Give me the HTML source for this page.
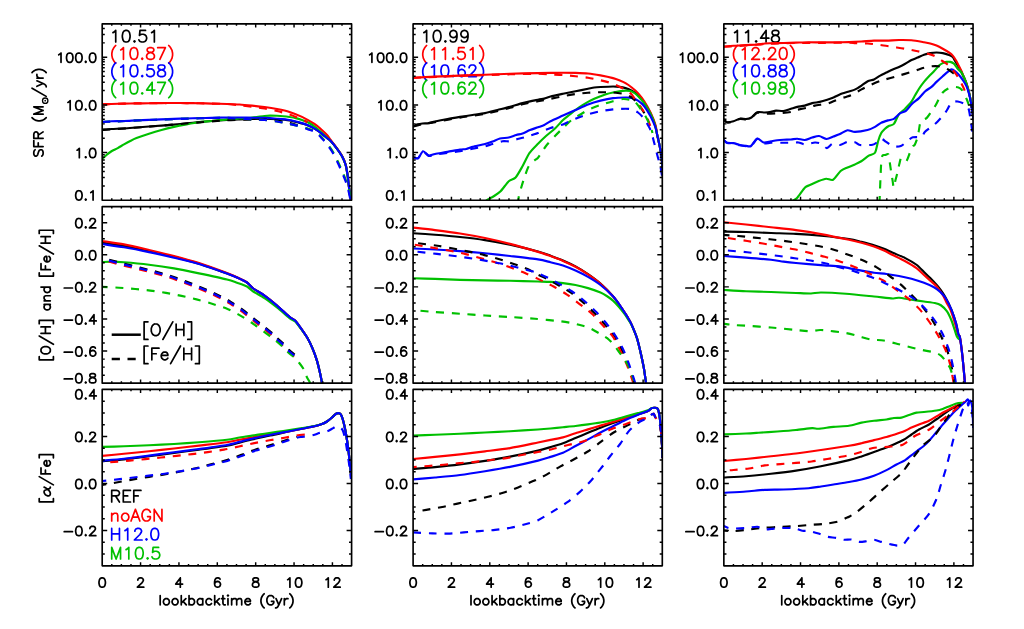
<!DOCTYPE html>
<html lang="en"><head><meta charset="utf-8"><title>SFR, metallicity and alpha/Fe histories</title>
<style>html,body{margin:0;padding:0;background:#fff;font-family:"Liberation Sans",sans-serif}svg{display:block}.t path{fill:none;stroke-linecap:round;stroke-linejoin:round}.c path{fill:none;stroke-linejoin:round;stroke-linecap:butt}.s text{font-family:"Liberation Sans",sans-serif;fill:#000;fill-opacity:0}</style></head><body>
<svg width="1024" height="629" viewBox="0 0 1024 629" role="img" aria-label="3x3 grid of line charts: SFR, [O/H] and [Fe/H], and [alpha/Fe] versus lookbacktime (Gyr)">
<rect width="1024" height="629" fill="#fff"/>
<g class="t">
<path d="M112.96 32.62 L114.07 32.06 L115.72 30.41 L115.72 42M125.66 30.41 L124 30.96 L122.9 32.62 L122.35 35.38 L122.35 37.03 L122.9 39.79 L124 41.45 L125.66 42 L126.76 42 L128.42 41.45 L129.52 39.79 L130.07 37.03 L130.07 35.38 L129.52 32.62 L128.42 30.96 L126.76 30.41 L125.66 30.41M134.49 40.9 L133.94 41.45 L134.49 42 L135.04 41.45 L134.49 40.9M145.53 30.41 L140.01 30.41 L139.46 35.38 L140.01 34.82 L141.67 34.27 L143.32 34.27 L144.98 34.82 L146.08 35.93 L146.63 37.58 L146.63 38.69 L146.08 40.34 L144.98 41.45 L143.32 42 L141.67 42 L140.01 41.45 L139.46 40.9 L138.91 39.79M151.6 32.62 L152.71 32.06 L154.36 30.41 L154.36 42" stroke="#000000" stroke-width="1.7"/>
<path d="M115.72 45.5 L114.62 46.6 L113.51 48.26 L112.41 50.47 L111.86 53.23 L111.86 55.44 L112.41 58.2 L113.51 60.4 L114.62 62.06 L115.72 63.16M120.69 49.92 L121.79 49.36 L123.45 47.71 L123.45 59.3M133.39 47.71 L131.73 48.26 L130.63 49.92 L130.07 52.68 L130.07 54.33 L130.63 57.09 L131.73 58.75 L133.39 59.3 L134.49 59.3 L136.15 58.75 L137.25 57.09 L137.8 54.33 L137.8 52.68 L137.25 49.92 L136.15 48.26 L134.49 47.71 L133.39 47.71M142.22 58.2 L141.67 58.75 L142.22 59.3 L142.77 58.75 L142.22 58.2M149.39 47.71 L147.74 48.26 L147.19 49.36 L147.19 50.47 L147.74 51.57 L148.84 52.12 L151.05 52.68 L152.71 53.23 L153.81 54.33 L154.36 55.44 L154.36 57.09 L153.81 58.2 L153.26 58.75 L151.6 59.3 L149.39 59.3 L147.74 58.75 L147.19 58.2 L146.63 57.09 L146.63 55.44 L147.19 54.33 L148.29 53.23 L149.95 52.68 L152.15 52.12 L153.26 51.57 L153.81 50.47 L153.81 49.36 L153.26 48.26 L151.6 47.71 L149.39 47.71M165.4 47.71 L159.88 59.3M157.67 47.71 L165.4 47.71M168.71 45.5 L169.82 46.6 L170.92 48.26 L172.03 50.47 L172.58 53.23 L172.58 55.44 L172.03 58.2 L170.92 60.4 L169.82 62.06 L168.71 63.16" stroke="#ff0000" stroke-width="1.7"/>
<path d="M115.72 62.8 L114.62 63.9 L113.51 65.56 L112.41 67.77 L111.86 70.53 L111.86 72.74 L112.41 75.5 L113.51 77.7 L114.62 79.36 L115.72 80.46M120.69 67.22 L121.79 66.66 L123.45 65.01 L123.45 76.6M133.39 65.01 L131.73 65.56 L130.63 67.22 L130.07 69.98 L130.07 71.63 L130.63 74.39 L131.73 76.05 L133.39 76.6 L134.49 76.6 L136.15 76.05 L137.25 74.39 L137.8 71.63 L137.8 69.98 L137.25 67.22 L136.15 65.56 L134.49 65.01 L133.39 65.01M142.22 75.5 L141.67 76.05 L142.22 76.6 L142.77 76.05 L142.22 75.5M153.26 65.01 L147.74 65.01 L147.19 69.98 L147.74 69.42 L149.39 68.87 L151.05 68.87 L152.71 69.42 L153.81 70.53 L154.36 72.18 L154.36 73.29 L153.81 74.94 L152.71 76.05 L151.05 76.6 L149.39 76.6 L147.74 76.05 L147.19 75.5 L146.63 74.39M160.43 65.01 L158.78 65.56 L158.23 66.66 L158.23 67.77 L158.78 68.87 L159.88 69.42 L162.09 69.98 L163.75 70.53 L164.85 71.63 L165.4 72.74 L165.4 74.39 L164.85 75.5 L164.3 76.05 L162.64 76.6 L160.43 76.6 L158.78 76.05 L158.23 75.5 L157.67 74.39 L157.67 72.74 L158.23 71.63 L159.33 70.53 L160.99 69.98 L163.19 69.42 L164.3 68.87 L164.85 67.77 L164.85 66.66 L164.3 65.56 L162.64 65.01 L160.43 65.01M168.71 62.8 L169.82 63.9 L170.92 65.56 L172.03 67.77 L172.58 70.53 L172.58 72.74 L172.03 75.5 L170.92 77.7 L169.82 79.36 L168.71 80.46" stroke="#0000ff" stroke-width="1.7"/>
<path d="M115.72 80.1 L114.62 81.2 L113.51 82.86 L112.41 85.07 L111.86 87.83 L111.86 90.04 L112.41 92.8 L113.51 95 L114.62 96.66 L115.72 97.76M120.69 84.52 L121.79 83.96 L123.45 82.31 L123.45 93.9M133.39 82.31 L131.73 82.86 L130.63 84.52 L130.07 87.28 L130.07 88.93 L130.63 91.69 L131.73 93.35 L133.39 93.9 L134.49 93.9 L136.15 93.35 L137.25 91.69 L137.8 88.93 L137.8 87.28 L137.25 84.52 L136.15 82.86 L134.49 82.31 L133.39 82.31M142.22 92.8 L141.67 93.35 L142.22 93.9 L142.77 93.35 L142.22 92.8M152.15 82.31 L146.63 90.04 L154.91 90.04M152.15 82.31 L152.15 93.9M165.4 82.31 L159.88 93.9M157.67 82.31 L165.4 82.31M168.71 80.1 L169.82 81.2 L170.92 82.86 L172.03 85.07 L172.58 87.83 L172.58 90.04 L172.03 92.8 L170.92 95 L169.82 96.66 L168.71 97.76" stroke="#00c000" stroke-width="1.7"/>
<path d="M423.86 32.62 L424.97 32.06 L426.62 30.41 L426.62 42M436.56 30.41 L434.9 30.96 L433.8 32.62 L433.25 35.38 L433.25 37.03 L433.8 39.79 L434.9 41.45 L436.56 42 L437.66 42 L439.32 41.45 L440.42 39.79 L440.97 37.03 L440.97 35.38 L440.42 32.62 L439.32 30.96 L437.66 30.41 L436.56 30.41M445.39 40.9 L444.84 41.45 L445.39 42 L445.94 41.45 L445.39 40.9M456.98 34.27 L456.43 35.93 L455.33 37.03 L453.67 37.58 L453.12 37.58 L451.46 37.03 L450.36 35.93 L449.81 34.27 L449.81 33.72 L450.36 32.06 L451.46 30.96 L453.12 30.41 L453.67 30.41 L455.33 30.96 L456.43 32.06 L456.98 34.27 L456.98 37.03 L456.43 39.79 L455.33 41.45 L453.67 42 L452.57 42 L450.91 41.45 L450.36 40.34M468.02 34.27 L467.47 35.93 L466.37 37.03 L464.71 37.58 L464.16 37.58 L462.5 37.03 L461.4 35.93 L460.85 34.27 L460.85 33.72 L461.4 32.06 L462.5 30.96 L464.16 30.41 L464.71 30.41 L466.37 30.96 L467.47 32.06 L468.02 34.27 L468.02 37.03 L467.47 39.79 L466.37 41.45 L464.71 42 L463.61 42 L461.95 41.45 L461.4 40.34" stroke="#000000" stroke-width="1.7"/>
<path d="M426.62 45.5 L425.52 46.6 L424.41 48.26 L423.31 50.47 L422.76 53.23 L422.76 55.44 L423.31 58.2 L424.41 60.4 L425.52 62.06 L426.62 63.16M431.59 49.92 L432.69 49.36 L434.35 47.71 L434.35 59.3M442.63 49.92 L443.73 49.36 L445.39 47.71 L445.39 59.3M453.12 58.2 L452.57 58.75 L453.12 59.3 L453.67 58.75 L453.12 58.2M464.16 47.71 L458.64 47.71 L458.09 52.68 L458.64 52.12 L460.29 51.57 L461.95 51.57 L463.61 52.12 L464.71 53.23 L465.26 54.88 L465.26 55.99 L464.71 57.64 L463.61 58.75 L461.95 59.3 L460.29 59.3 L458.64 58.75 L458.09 58.2 L457.53 57.09M470.23 49.92 L471.33 49.36 L472.99 47.71 L472.99 59.3M479.61 45.5 L480.72 46.6 L481.82 48.26 L482.93 50.47 L483.48 53.23 L483.48 55.44 L482.93 58.2 L481.82 60.4 L480.72 62.06 L479.61 63.16" stroke="#ff0000" stroke-width="1.7"/>
<path d="M426.62 62.8 L425.52 63.9 L424.41 65.56 L423.31 67.77 L422.76 70.53 L422.76 72.74 L423.31 75.5 L424.41 77.7 L425.52 79.36 L426.62 80.46M431.59 67.22 L432.69 66.66 L434.35 65.01 L434.35 76.6M444.29 65.01 L442.63 65.56 L441.53 67.22 L440.97 69.98 L440.97 71.63 L441.53 74.39 L442.63 76.05 L444.29 76.6 L445.39 76.6 L447.05 76.05 L448.15 74.39 L448.7 71.63 L448.7 69.98 L448.15 67.22 L447.05 65.56 L445.39 65.01 L444.29 65.01M453.12 75.5 L452.57 76.05 L453.12 76.6 L453.67 76.05 L453.12 75.5M464.71 66.66 L464.16 65.56 L462.5 65.01 L461.4 65.01 L459.74 65.56 L458.64 67.22 L458.09 69.98 L458.09 72.74 L458.64 74.94 L459.74 76.05 L461.4 76.6 L461.95 76.6 L463.61 76.05 L464.71 74.94 L465.26 73.29 L465.26 72.74 L464.71 71.08 L463.61 69.98 L461.95 69.42 L461.4 69.42 L459.74 69.98 L458.64 71.08 L458.09 72.74M469.13 67.77 L469.13 67.22 L469.68 66.11 L470.23 65.56 L471.33 65.01 L473.54 65.01 L474.65 65.56 L475.2 66.11 L475.75 67.22 L475.75 68.32 L475.2 69.42 L474.09 71.08 L468.57 76.6 L476.3 76.6M479.61 62.8 L480.72 63.9 L481.82 65.56 L482.93 67.77 L483.48 70.53 L483.48 72.74 L482.93 75.5 L481.82 77.7 L480.72 79.36 L479.61 80.46" stroke="#0000ff" stroke-width="1.7"/>
<path d="M426.62 80.1 L425.52 81.2 L424.41 82.86 L423.31 85.07 L422.76 87.83 L422.76 90.04 L423.31 92.8 L424.41 95 L425.52 96.66 L426.62 97.76M431.59 84.52 L432.69 83.96 L434.35 82.31 L434.35 93.9M444.29 82.31 L442.63 82.86 L441.53 84.52 L440.97 87.28 L440.97 88.93 L441.53 91.69 L442.63 93.35 L444.29 93.9 L445.39 93.9 L447.05 93.35 L448.15 91.69 L448.7 88.93 L448.7 87.28 L448.15 84.52 L447.05 82.86 L445.39 82.31 L444.29 82.31M453.12 92.8 L452.57 93.35 L453.12 93.9 L453.67 93.35 L453.12 92.8M464.71 83.96 L464.16 82.86 L462.5 82.31 L461.4 82.31 L459.74 82.86 L458.64 84.52 L458.09 87.28 L458.09 90.04 L458.64 92.24 L459.74 93.35 L461.4 93.9 L461.95 93.9 L463.61 93.35 L464.71 92.24 L465.26 90.59 L465.26 90.04 L464.71 88.38 L463.61 87.28 L461.95 86.72 L461.4 86.72 L459.74 87.28 L458.64 88.38 L458.09 90.04M469.13 85.07 L469.13 84.52 L469.68 83.41 L470.23 82.86 L471.33 82.31 L473.54 82.31 L474.65 82.86 L475.2 83.41 L475.75 84.52 L475.75 85.62 L475.2 86.72 L474.09 88.38 L468.57 93.9 L476.3 93.9M479.61 80.1 L480.72 81.2 L481.82 82.86 L482.93 85.07 L483.48 87.83 L483.48 90.04 L482.93 92.8 L481.82 95 L480.72 96.66 L479.61 97.76" stroke="#00c000" stroke-width="1.7"/>
<path d="M734.61 32.62 L735.72 32.06 L737.37 30.41 L737.37 42M745.65 32.62 L746.76 32.06 L748.41 30.41 L748.41 42M756.14 40.9 L755.59 41.45 L756.14 42 L756.69 41.45 L756.14 40.9M766.08 30.41 L760.56 38.14 L768.84 38.14M766.08 30.41 L766.08 42M774.36 30.41 L772.7 30.96 L772.15 32.06 L772.15 33.17 L772.7 34.27 L773.8 34.82 L776.01 35.38 L777.67 35.93 L778.77 37.03 L779.32 38.14 L779.32 39.79 L778.77 40.9 L778.22 41.45 L776.56 42 L774.36 42 L772.7 41.45 L772.15 40.9 L771.6 39.79 L771.6 38.14 L772.15 37.03 L773.25 35.93 L774.91 35.38 L777.12 34.82 L778.22 34.27 L778.77 33.17 L778.77 32.06 L778.22 30.96 L776.56 30.41 L774.36 30.41" stroke="#000000" stroke-width="1.7"/>
<path d="M737.37 45.5 L736.27 46.6 L735.16 48.26 L734.06 50.47 L733.51 53.23 L733.51 55.44 L734.06 58.2 L735.16 60.4 L736.27 62.06 L737.37 63.16M742.34 49.92 L743.44 49.36 L745.1 47.71 L745.1 59.3M752.28 50.47 L752.28 49.92 L752.83 48.81 L753.38 48.26 L754.48 47.71 L756.69 47.71 L757.8 48.26 L758.35 48.81 L758.9 49.92 L758.9 51.02 L758.35 52.12 L757.24 53.78 L751.72 59.3 L759.45 59.3M763.87 58.2 L763.32 58.75 L763.87 59.3 L764.42 58.75 L763.87 58.2M768.84 50.47 L768.84 49.92 L769.39 48.81 L769.94 48.26 L771.04 47.71 L773.25 47.71 L774.36 48.26 L774.91 48.81 L775.46 49.92 L775.46 51.02 L774.91 52.12 L773.8 53.78 L768.28 59.3 L776.01 59.3M782.64 47.71 L780.98 48.26 L779.88 49.92 L779.32 52.68 L779.32 54.33 L779.88 57.09 L780.98 58.75 L782.64 59.3 L783.74 59.3 L785.4 58.75 L786.5 57.09 L787.05 54.33 L787.05 52.68 L786.5 49.92 L785.4 48.26 L783.74 47.71 L782.64 47.71M790.36 45.5 L791.47 46.6 L792.57 48.26 L793.68 50.47 L794.23 53.23 L794.23 55.44 L793.68 58.2 L792.57 60.4 L791.47 62.06 L790.36 63.16" stroke="#ff0000" stroke-width="1.7"/>
<path d="M737.37 62.8 L736.27 63.9 L735.16 65.56 L734.06 67.77 L733.51 70.53 L733.51 72.74 L734.06 75.5 L735.16 77.7 L736.27 79.36 L737.37 80.46M742.34 67.22 L743.44 66.66 L745.1 65.01 L745.1 76.6M755.04 65.01 L753.38 65.56 L752.28 67.22 L751.72 69.98 L751.72 71.63 L752.28 74.39 L753.38 76.05 L755.04 76.6 L756.14 76.6 L757.8 76.05 L758.9 74.39 L759.45 71.63 L759.45 69.98 L758.9 67.22 L757.8 65.56 L756.14 65.01 L755.04 65.01M763.87 75.5 L763.32 76.05 L763.87 76.6 L764.42 76.05 L763.87 75.5M771.04 65.01 L769.39 65.56 L768.84 66.66 L768.84 67.77 L769.39 68.87 L770.49 69.42 L772.7 69.98 L774.36 70.53 L775.46 71.63 L776.01 72.74 L776.01 74.39 L775.46 75.5 L774.91 76.05 L773.25 76.6 L771.04 76.6 L769.39 76.05 L768.84 75.5 L768.28 74.39 L768.28 72.74 L768.84 71.63 L769.94 70.53 L771.6 69.98 L773.8 69.42 L774.91 68.87 L775.46 67.77 L775.46 66.66 L774.91 65.56 L773.25 65.01 L771.04 65.01M782.08 65.01 L780.43 65.56 L779.88 66.66 L779.88 67.77 L780.43 68.87 L781.53 69.42 L783.74 69.98 L785.4 70.53 L786.5 71.63 L787.05 72.74 L787.05 74.39 L786.5 75.5 L785.95 76.05 L784.29 76.6 L782.08 76.6 L780.43 76.05 L779.88 75.5 L779.32 74.39 L779.32 72.74 L779.88 71.63 L780.98 70.53 L782.64 69.98 L784.84 69.42 L785.95 68.87 L786.5 67.77 L786.5 66.66 L785.95 65.56 L784.29 65.01 L782.08 65.01M790.36 62.8 L791.47 63.9 L792.57 65.56 L793.68 67.77 L794.23 70.53 L794.23 72.74 L793.68 75.5 L792.57 77.7 L791.47 79.36 L790.36 80.46" stroke="#0000ff" stroke-width="1.7"/>
<path d="M737.37 80.1 L736.27 81.2 L735.16 82.86 L734.06 85.07 L733.51 87.83 L733.51 90.04 L734.06 92.8 L735.16 95 L736.27 96.66 L737.37 97.76M742.34 84.52 L743.44 83.96 L745.1 82.31 L745.1 93.9M755.04 82.31 L753.38 82.86 L752.28 84.52 L751.72 87.28 L751.72 88.93 L752.28 91.69 L753.38 93.35 L755.04 93.9 L756.14 93.9 L757.8 93.35 L758.9 91.69 L759.45 88.93 L759.45 87.28 L758.9 84.52 L757.8 82.86 L756.14 82.31 L755.04 82.31M763.87 92.8 L763.32 93.35 L763.87 93.9 L764.42 93.35 L763.87 92.8M775.46 86.17 L774.91 87.83 L773.8 88.93 L772.15 89.48 L771.6 89.48 L769.94 88.93 L768.84 87.83 L768.28 86.17 L768.28 85.62 L768.84 83.96 L769.94 82.86 L771.6 82.31 L772.15 82.31 L773.8 82.86 L774.91 83.96 L775.46 86.17 L775.46 88.93 L774.91 91.69 L773.8 93.35 L772.15 93.9 L771.04 93.9 L769.39 93.35 L768.84 92.24M782.08 82.31 L780.43 82.86 L779.88 83.96 L779.88 85.07 L780.43 86.17 L781.53 86.72 L783.74 87.28 L785.4 87.83 L786.5 88.93 L787.05 90.04 L787.05 91.69 L786.5 92.8 L785.95 93.35 L784.29 93.9 L782.08 93.9 L780.43 93.35 L779.88 92.8 L779.32 91.69 L779.32 90.04 L779.88 88.93 L780.98 87.83 L782.64 87.28 L784.84 86.72 L785.95 86.17 L786.5 85.07 L786.5 83.96 L785.95 82.86 L784.29 82.31 L782.08 82.31M790.36 80.1 L791.47 81.2 L792.57 82.86 L793.68 85.07 L794.23 87.83 L794.23 90.04 L793.68 92.8 L792.57 95 L791.47 96.66 L790.36 97.76" stroke="#00c000" stroke-width="1.7"/>
<path d="M147.97 321.8 L144.11 321.8 L144.11 339.46 L147.97 339.46M154.6 324.01 L153.49 324.56 L152.39 325.66 L151.84 326.77 L151.28 328.42 L151.28 331.18 L151.84 332.84 L152.39 333.94 L153.49 335.05 L154.6 335.6 L156.8 335.6 L157.91 335.05 L159.01 333.94 L159.56 332.84 L160.12 331.18 L160.12 328.42 L159.56 326.77 L159.01 325.66 L157.91 324.56 L156.8 324.01 L154.6 324.01M172.81 321.8 L162.88 339.46M176.12 324.01 L176.12 335.6M183.85 324.01 L183.85 335.6M176.12 329.53 L183.85 329.53M187.72 321.8 L191.58 321.8 L191.58 339.46 L187.72 339.46" stroke="#000" stroke-width="1.7"/>
<path d="M147.97 346 L144.11 346 L144.11 363.66 L147.97 363.66M151.84 348.21 L151.84 359.8M151.84 348.21 L159.01 348.21M151.84 353.73 L156.25 353.73M161.22 355.38 L167.84 355.38 L167.84 354.28 L167.29 353.18 L166.74 352.62 L165.64 352.07 L163.98 352.07 L162.88 352.62 L161.77 353.73 L161.22 355.38 L161.22 356.49 L161.77 358.14 L162.88 359.25 L163.98 359.8 L165.64 359.8 L166.74 359.25 L167.84 358.14M180.54 346 L170.6 363.66M183.85 348.21 L183.85 359.8M191.58 348.21 L191.58 359.8M183.85 353.73 L191.58 353.73M195.44 346 L199.31 346 L199.31 363.66 L195.44 363.66" stroke="#000" stroke-width="1.7"/>
<path d="M111.71 490.41 L111.71 502M111.71 490.41 L116.68 490.41 L118.33 490.96 L118.88 491.51 L119.44 492.62 L119.44 493.72 L118.88 494.82 L118.33 495.38 L116.68 495.93 L111.71 495.93M115.57 495.93 L119.44 502M123.3 490.41 L123.3 502M123.3 490.41 L130.48 490.41M123.3 495.93 L127.72 495.93M123.3 502 L130.48 502M133.79 490.41 L133.79 502M133.79 490.41 L140.96 490.41M133.79 495.93 L138.2 495.93" stroke="#000000" stroke-width="1.7"/>
<path d="M111.71 513.27 L111.71 521M111.71 515.48 L113.36 513.82 L114.47 513.27 L116.12 513.27 L117.23 513.82 L117.78 515.48 L117.78 521M124.4 513.27 L123.3 513.82 L122.2 514.93 L121.64 516.58 L121.64 517.69 L122.2 519.34 L123.3 520.45 L124.4 521 L126.06 521 L127.16 520.45 L128.27 519.34 L128.82 517.69 L128.82 516.58 L128.27 514.93 L127.16 513.82 L126.06 513.27 L124.4 513.27M135.44 509.41 L131.03 521M135.44 509.41 L139.86 521M132.68 517.14 L138.2 517.14M150.35 512.17 L149.8 511.06 L148.69 509.96 L147.59 509.41 L145.38 509.41 L144.28 509.96 L143.17 511.06 L142.62 512.17 L142.07 513.82 L142.07 516.58 L142.62 518.24 L143.17 519.34 L144.28 520.45 L145.38 521 L147.59 521 L148.69 520.45 L149.8 519.34 L150.35 518.24 L150.35 516.58M147.59 516.58 L150.35 516.58M154.21 509.41 L154.21 521M154.21 509.41 L161.94 521M161.94 509.41 L161.94 521" stroke="#ff0000" stroke-width="1.7"/>
<path d="M111.71 528.41 L111.71 540M119.44 528.41 L119.44 540M111.71 533.93 L119.44 533.93M124.96 530.62 L126.06 530.06 L127.72 528.41 L127.72 540M134.89 531.17 L134.89 530.62 L135.44 529.51 L136 528.96 L137.1 528.41 L139.31 528.41 L140.41 528.96 L140.96 529.51 L141.52 530.62 L141.52 531.72 L140.96 532.82 L139.86 534.48 L134.34 540 L142.07 540M146.48 538.9 L145.93 539.45 L146.48 540 L147.04 539.45 L146.48 538.9M154.21 528.41 L152.56 528.96 L151.45 530.62 L150.9 533.38 L150.9 535.03 L151.45 537.79 L152.56 539.45 L154.21 540 L155.32 540 L156.97 539.45 L158.08 537.79 L158.63 535.03 L158.63 533.38 L158.08 530.62 L156.97 528.96 L155.32 528.41 L154.21 528.41" stroke="#0000ff" stroke-width="1.7"/>
<path d="M111.71 547.41 L111.71 559M111.71 547.41 L116.12 559M120.54 547.41 L116.12 559M120.54 547.41 L120.54 559M126.06 549.62 L127.16 549.06 L128.82 547.41 L128.82 559M138.76 547.41 L137.1 547.96 L136 549.62 L135.44 552.38 L135.44 554.03 L136 556.79 L137.1 558.45 L138.76 559 L139.86 559 L141.52 558.45 L142.62 556.79 L143.17 554.03 L143.17 552.38 L142.62 549.62 L141.52 547.96 L139.86 547.41 L138.76 547.41M147.59 557.9 L147.04 558.45 L147.59 559 L148.14 558.45 L147.59 557.9M158.63 547.41 L153.11 547.41 L152.56 552.38 L153.11 551.82 L154.76 551.27 L156.42 551.27 L158.08 551.82 L159.18 552.93 L159.73 554.58 L159.73 555.69 L159.18 557.34 L158.08 558.45 L156.42 559 L154.76 559 L153.11 558.45 L152.56 557.9 L152 556.79" stroke="#00c000" stroke-width="1.7"/>
</g>
<clipPath id="cp00"><rect x="102.2" y="23.9" width="249.4" height="176.35"/></clipPath>
<g class="c" clip-path="url(#cp00)">
<path d="M102.2 129.75C103.36 129.66 108.78 129.16 111.5 129C114.22 128.84 120.88 128.69 124 128.5C127.12 128.31 133.38 127.75 136.5 127.5C139.62 127.25 145.88 126.74 149 126.5C152.12 126.26 158.38 125.84 161.5 125.6C164.62 125.36 170.88 124.88 174 124.6C177.12 124.32 183.38 123.71 186.5 123.4C189.62 123.09 195.88 122.4 199 122.1C202.12 121.8 208 121.28 211.5 121C215 120.72 223.5 120.1 227 119.9C230.5 119.7 236.38 119.51 239.5 119.4C242.62 119.29 248.88 119.08 252 119C255.12 118.92 261.38 118.76 264.5 118.8C267.62 118.84 273.88 119.09 277 119.3C280.12 119.51 286.38 119.97 289.5 120.5C292.62 121.03 299.66 122.89 302 123.5C304.34 124.11 306.69 124.76 308.25 125.4C309.81 126.04 312.94 127.67 314.5 128.6C316.06 129.53 319.19 131.62 320.75 132.8C322.31 133.98 325.76 136.96 327 138C328.24 139.04 329.46 139.78 330.7 141.1C331.94 142.42 335.5 146.74 336.9 148.6C338.3 150.46 340.81 153.99 341.9 156C342.99 158.01 344.9 162.38 345.6 164.7C346.3 167.02 347.11 172.11 347.5 174.6C347.89 177.09 348.4 182.11 348.7 184.6C349 187.09 349.66 192.65 349.9 194.5C350.14 196.35 350.46 198.21 350.6 199.4C350.74 200.59 350.95 203.43 351 204" stroke="#000000" stroke-width="2.15"/>
<path d="M102.25 104.4C103.41 104.35 108.78 104.1 111.5 104C114.22 103.9 120.88 103.67 124 103.6C127.12 103.52 133.38 103.44 136.5 103.4C139.62 103.36 145.88 103.29 149 103.25C152.12 103.21 158.38 103.13 161.5 103.1C164.62 103.07 170.88 103 174 103C177.12 103 183.38 103.07 186.5 103.1C189.62 103.13 195.88 103.19 199 103.25C202.12 103.31 208 103.51 211.5 103.6C215 103.69 223.5 103.89 227 104C230.5 104.11 236.38 104.3 239.5 104.5C242.62 104.7 248.88 105.29 252 105.6C255.12 105.91 261.38 106.58 264.5 107C267.62 107.42 273.88 108.39 277 109C280.12 109.61 286.38 110.91 289.5 111.9C292.62 112.89 298.88 115.39 302 116.9C305.12 118.41 312.16 122.49 314.5 124C316.84 125.51 319.19 127.62 320.75 129C322.31 130.38 325.75 133.62 327 135C328.25 136.38 329.51 138.35 330.75 140C331.99 141.65 335.51 146.25 336.9 148.2C338.29 150.15 340.81 153.57 341.9 155.6C342.99 157.62 344.9 162.05 345.6 164.4C346.3 166.75 347.11 171.88 347.5 174.4C347.89 176.93 348.4 182.09 348.7 184.6C349 187.11 349.61 192.07 349.9 194.5C350.19 196.93 350.86 202.81 351 204" stroke="#ff0000" stroke-width="2.15"/>
<path d="M102.2 159C102.74 158.5 105.34 155.97 106.5 155C107.66 154.03 110.09 152.11 111.5 151.25C112.91 150.39 116.19 148.96 117.75 148.1C119.31 147.24 122.44 145.29 124 144.4C125.56 143.51 128.69 141.79 130.25 141C131.81 140.21 134.16 139.01 136.5 138.1C138.84 137.19 145.88 134.76 149 133.75C152.12 132.74 158.38 130.86 161.5 130C164.62 129.14 170.88 127.6 174 126.9C177.12 126.2 183.38 124.98 186.5 124.4C189.62 123.82 195.88 122.67 199 122.25C202.12 121.83 208 121.36 211.5 121C215 120.64 223.5 119.71 227 119.4C230.5 119.09 236.38 118.74 239.5 118.5C242.62 118.26 248.88 117.81 252 117.5C255.12 117.19 262.25 116.24 264.5 116C266.75 115.76 268.44 115.62 270 115.6C271.56 115.57 275.38 115.72 277 115.8C278.62 115.88 281.44 116.05 283 116.2C284.56 116.35 287.91 116.76 289.5 117C291.09 117.24 294.19 117.72 295.75 118.1C297.31 118.47 300.44 119.45 302 120C303.56 120.55 306.69 121.69 308.25 122.5C309.81 123.31 312.94 125.35 314.5 126.5C316.06 127.65 319.19 130.31 320.75 131.7C322.31 133.09 325.76 136.42 327 137.6C328.24 138.78 329.46 139.72 330.7 141.1C331.94 142.47 335.5 146.74 336.9 148.6C338.3 150.46 340.81 153.99 341.9 156C342.99 158.01 344.9 162.38 345.6 164.7C346.3 167.02 347.11 172.11 347.5 174.6C347.89 177.09 348.4 182.11 348.7 184.6C349 187.09 349.66 192.65 349.9 194.5C350.14 196.35 350.46 198.21 350.6 199.4C350.74 200.59 350.95 203.43 351 204" stroke="#00c000" stroke-width="2.15"/>
<path d="M102.2 121.9C103.36 121.82 108.78 121.36 111.5 121.25C114.22 121.14 120.88 121.11 124 121C127.12 120.89 133.38 120.54 136.5 120.4C139.62 120.26 145.88 120.03 149 119.9C152.12 119.78 158.38 119.53 161.5 119.4C164.62 119.28 170.88 119.01 174 118.9C177.12 118.79 183.38 118.6 186.5 118.5C189.62 118.4 195.88 118.17 199 118.1C202.12 118.02 208 117.98 211.5 117.9C215 117.83 223.5 117.55 227 117.5C230.5 117.45 236.38 117.47 239.5 117.5C242.62 117.53 248.88 117.7 252 117.75C255.12 117.8 261.38 117.78 264.5 117.9C267.62 118.03 273.88 118.49 277 118.75C280.12 119.01 286.38 119.46 289.5 120C292.62 120.54 299.66 122.42 302 123.1C304.34 123.77 306.69 124.71 308.25 125.4C309.81 126.09 312.94 127.67 314.5 128.6C316.06 129.53 319.19 131.62 320.75 132.8C322.31 133.98 325.76 136.96 327 138C328.24 139.04 329.46 139.78 330.7 141.1C331.94 142.42 335.5 146.74 336.9 148.6C338.3 150.46 340.81 153.99 341.9 156C342.99 158.01 344.9 162.38 345.6 164.7C346.3 167.02 347.11 172.11 347.5 174.6C347.89 177.09 348.4 182.11 348.7 184.6C349 187.09 349.66 192.65 349.9 194.5C350.14 196.35 350.46 198.21 350.6 199.4C350.74 200.59 350.95 203.43 351 204" stroke="#0000ff" stroke-width="2.15"/>
<path d="M102.2 129.9C108.05 129.5 136.9 127.64 149 126.7C161.1 125.76 189.25 123.2 199 122.4C208.75 121.6 220.38 120.65 227 120.3C233.62 119.95 247.31 119.69 252 119.6C256.69 119.51 261.38 119.49 264.5 119.6C267.62 119.71 273.88 120.08 277 120.5C280.12 120.92 286.38 122.25 289.5 123C292.62 123.75 300.44 126.06 302 126.5" stroke="#000000" stroke-width="2.15" stroke-dasharray="8 7.7"/>
<path d="M102.25 104.4C103.41 104.35 108.78 104.1 111.5 104C114.22 103.9 120.88 103.67 124 103.6C127.12 103.52 133.38 103.44 136.5 103.4C139.62 103.36 145.88 103.29 149 103.25C152.12 103.21 158.38 103.13 161.5 103.1C164.62 103.07 170.88 103 174 103C177.12 103 183.38 103.07 186.5 103.1C189.62 103.13 195.88 103.19 199 103.25C202.12 103.31 208 103.51 211.5 103.6C215 103.69 223.5 103.79 227 104C230.5 104.21 236.38 104.95 239.5 105.3C242.62 105.65 248.88 106.4 252 106.8C255.12 107.2 261.38 107.97 264.5 108.5C267.62 109.03 273.88 110.25 277 111C280.12 111.75 286.38 113.44 289.5 114.5C292.62 115.56 299.75 118.53 302 119.5C304.25 120.47 306.81 121.95 307.5 122.3" stroke="#ff0000" stroke-width="2.15" stroke-dasharray="8 7.7"/>
<path d="M102.2 122C108.05 121.75 136.9 120.46 149 120C161.1 119.54 189.25 118.58 199 118.3C208.75 118.02 221.16 117.71 227 117.8C232.84 117.89 241.06 118.72 245.75 119C250.44 119.28 260.59 119.69 264.5 120C268.41 120.31 273.88 121 277 121.5C280.12 122 287 123.49 289.5 124C292 124.51 294.59 124.99 297 125.6C299.41 126.21 306.34 128.11 308.75 128.9C311.16 129.69 314.58 130.75 316.3 131.9C318.02 133.05 320.95 136.39 322.5 138.1C324.05 139.81 327.3 143.74 328.7 145.6C330.1 147.46 332.46 150.82 333.7 153C334.94 155.18 337.51 160.68 338.6 163C339.69 165.32 341.54 169.59 342.4 171.6C343.26 173.61 344.8 177.24 345.5 179.1C346.2 180.96 347.46 184.64 348 186.5C348.54 188.36 349.45 192.45 349.8 194C350.15 195.55 350.61 197.71 350.8 198.9C350.99 200.09 351.24 202.93 351.3 203.5" stroke="#00c000" stroke-width="2.15" stroke-dasharray="8 7.7"/>
<path d="M102.2 122C108.05 121.75 136.9 120.46 149 120C161.1 119.54 189.25 118.58 199 118.3C208.75 118.02 221.16 117.71 227 117.8C232.84 117.89 241.06 118.72 245.75 119C250.44 119.28 260.59 119.69 264.5 120C268.41 120.31 273.88 121 277 121.5C280.12 122 287 123.49 289.5 124C292 124.51 294.66 124.92 297 125.6C299.34 126.27 305.9 128.55 308.25 129.4C310.6 130.25 314.08 131.25 315.8 132.4C317.52 133.55 320.45 136.89 322 138.6C323.55 140.31 326.8 144.24 328.2 146.1C329.6 147.96 331.96 151.32 333.2 153.5C334.44 155.68 337.01 161.18 338.1 163.5C339.19 165.82 341.04 170.09 341.9 172.1C342.76 174.11 344.3 177.74 345 179.6C345.7 181.46 346.96 185.14 347.5 187C348.04 188.86 348.95 192.95 349.3 194.5C349.65 196.05 350.11 198.21 350.3 199.4C350.49 200.59 350.74 203.43 350.8 204" stroke="#0000ff" stroke-width="2.15" stroke-dasharray="8 7.7"/>
</g>
<clipPath id="cp01"><rect x="413.1" y="23.9" width="249.2" height="176.35"/></clipPath>
<g class="c" clip-path="url(#cp01)">
<path d="M413.1 126.25C413.65 126.02 416.32 124.74 417.5 124.4C418.68 124.06 421.09 123.66 422.5 123.5C423.91 123.34 427.19 123.35 428.75 123.1C430.31 122.85 432.66 122.01 435 121.5C437.34 120.99 444.38 119.58 447.5 119C450.62 118.42 456.88 117.4 460 116.9C463.12 116.4 469.38 115.47 472.5 115C475.62 114.53 481.88 113.72 485 113.1C488.12 112.47 494.38 110.78 497.5 110C500.62 109.22 506.88 107.76 510 106.9C513.12 106.04 519 103.99 522.5 103.1C526 102.21 535.28 100.31 538 99.75C540.72 99.19 542.69 99.01 544.25 98.6C545.81 98.19 548.16 97.11 550.5 96.5C552.84 95.89 559.88 94.41 563 93.75C566.12 93.09 572.38 91.88 575.5 91.25C578.62 90.62 585.66 89.22 588 88.75C590.34 88.28 592.69 87.72 594.25 87.5C595.81 87.28 598.16 87.12 600.5 87C602.84 86.88 610.66 86.51 613 86.5C615.34 86.49 617.69 86.7 619.25 86.9C620.81 87.1 623.94 87.64 625.5 88.1C627.06 88.56 630.19 89.74 631.75 90.6C633.31 91.46 636.44 93.51 638 95C639.56 96.49 642.69 100.19 644.25 102.5C645.81 104.81 649.09 110.5 650.5 113.5C651.91 116.5 654.66 123.83 655.5 126.5C656.34 129.18 656.68 132.45 657.2 134.9C657.73 137.35 659.15 143.31 659.7 146.1C660.25 148.89 661.25 154.46 661.6 157.25C661.95 160.04 662.3 165.56 662.5 168.4C662.7 171.24 663.11 178.55 663.2 180" stroke="#000000" stroke-width="2.15"/>
<path d="M413.1 77.75C415.84 77.61 429.14 76.87 435 76.6C440.86 76.33 453.75 75.83 460 75.6C466.25 75.37 478.75 74.98 485 74.75C491.25 74.52 503.38 73.96 510 73.75C516.62 73.54 532.94 73.21 538 73.1C543.06 72.99 547.38 72.94 550.5 72.9C553.62 72.86 559.88 72.75 563 72.75C566.12 72.75 572.38 72.81 575.5 72.9C578.62 72.99 584.88 73.19 588 73.5C591.12 73.81 597.38 74.83 600.5 75.4C603.62 75.98 610.66 77.49 613 78.1C615.34 78.71 617.69 79.62 619.25 80.25C620.81 80.88 623.94 82.19 625.5 83.1C627.06 84.01 630.19 86.25 631.75 87.5C633.31 88.75 636.44 91.38 638 93.1C639.56 94.82 642.69 98.83 644.25 101.25C645.81 103.67 649.09 109.53 650.5 112.5C651.91 115.47 654.66 122.2 655.5 125C656.34 127.8 656.68 132.26 657.2 134.9C657.73 137.54 659.15 143.31 659.7 146.1C660.25 148.89 661.25 154.46 661.6 157.25C661.95 160.04 662.3 165.56 662.5 168.4C662.7 171.24 663.11 178.55 663.2 180" stroke="#ff0000" stroke-width="2.15"/>
<path d="M484.5 204C484.72 203.57 485.09 201.57 486.25 200.6C487.41 199.63 491.96 197.42 493.75 196.25C495.54 195.08 498.73 193.12 500.6 191.25C502.48 189.38 506.88 182.97 508.75 181.25C510.62 179.53 513.88 179.38 515.6 177.5C517.32 175.62 520.77 169.3 522.5 166.25C524.23 163.2 527.46 155.91 529.4 153.1C531.34 150.29 535.92 145.89 538 143.75C540.08 141.61 543.81 137.97 546 136C548.19 134.03 553.38 130 555.5 128C557.62 126 561.28 121.62 563 120C564.72 118.38 567.69 116.25 569.25 115C570.81 113.75 573.94 111.17 575.5 110C577.06 108.83 580.19 106.61 581.75 105.6C583.31 104.59 586.44 102.76 588 101.9C589.56 101.04 592.69 99.46 594.25 98.75C595.81 98.04 598.94 96.84 600.5 96.25C602.06 95.66 605.19 94.47 606.75 94C608.31 93.53 611.44 92.84 613 92.5C614.56 92.16 617.69 91.49 619.25 91.25C620.81 91.01 624.09 90.63 625.5 90.6C626.91 90.57 629.25 90.61 630.5 91C631.75 91.39 634.25 92.78 635.5 93.75C636.75 94.72 639.25 97.34 640.5 98.75C641.75 100.16 644.25 103.12 645.5 105C646.75 106.88 649.41 111.56 650.5 113.75C651.59 115.94 653.41 119.86 654.25 122.5C655.09 125.14 656.52 131.95 657.2 134.9C657.88 137.85 659.15 143.31 659.7 146.1C660.25 148.89 661.25 154.46 661.6 157.25C661.95 160.04 662.3 165.56 662.5 168.4C662.7 171.24 663.11 178.55 663.2 180" stroke="#00c000" stroke-width="2.15"/>
<path d="M413.1 157.25C413.73 157.36 416.85 158.85 418.1 158.1C419.35 157.35 421.77 151.56 423.1 151.25C424.43 150.94 427.26 155.26 428.75 155.6C430.24 155.94 432.66 154.46 435 154C437.34 153.54 444.38 152.45 447.5 151.9C450.62 151.35 457.66 149.96 460 149.6C462.34 149.24 464.69 149.34 466.25 149C467.81 148.66 470.16 147.53 472.5 146.9C474.84 146.28 482.5 144.68 485 144C487.5 143.32 490.62 142.19 492.5 141.5C494.38 140.81 497.97 139 500 138.5C502.03 138 506.72 137.94 508.75 137.5C510.78 137.06 514.53 135.5 516.25 135C517.97 134.5 520.78 134.12 522.5 133.5C524.22 132.88 528.06 130.78 530 130C531.94 129.22 536.22 127.88 538 127.25C539.78 126.62 542.69 125.75 544.25 125C545.81 124.25 548.16 122.42 550.5 121.25C552.84 120.08 559.88 117.01 563 115.6C566.12 114.19 572.38 111.4 575.5 110C578.62 108.6 584.88 105.58 588 104.4C591.12 103.23 597.38 101.39 600.5 100.6C603.62 99.81 609.88 98.49 613 98.1C616.12 97.71 623.16 97.53 625.5 97.5C627.84 97.47 630.19 97.51 631.75 97.9C633.31 98.29 636.44 99.56 638 100.6C639.56 101.64 642.69 104.29 644.25 106.25C645.81 108.21 649.09 113.59 650.5 116.25C651.91 118.91 654.66 125.17 655.5 127.5C656.34 129.83 656.68 132.58 657.2 134.9C657.73 137.22 659.15 143.31 659.7 146.1C660.25 148.89 661.25 154.46 661.6 157.25C661.95 160.04 662.3 165.56 662.5 168.4C662.7 171.24 663.11 178.55 663.2 180" stroke="#0000ff" stroke-width="2.15"/>
<path d="M413.1 126.6C414.28 126.27 419.76 124.56 422.5 124C425.24 123.44 430.31 122.9 435 122.1C439.69 121.3 453.75 118.62 460 117.6C466.25 116.57 478.75 115.12 485 113.9C491.25 112.68 505.31 109.01 510 107.8C514.69 106.59 519 105.02 522.5 104.2C526 103.38 534.5 101.93 538 101.25C541.5 100.57 547.38 99.38 550.5 98.75C553.62 98.12 559.88 96.84 563 96.25C566.12 95.66 572.38 94.44 575.5 94C578.62 93.56 584.88 92.97 588 92.75C591.12 92.53 597.38 92.28 600.5 92.25C603.62 92.22 610.03 92.28 613 92.5C615.97 92.72 621.91 93.38 624.25 94C626.59 94.62 630.03 96.28 631.75 97.5C633.47 98.72 636.44 101.81 638 103.75C639.56 105.69 643 110.91 644.25 113C645.5 115.09 647.53 119.56 648 120.5" stroke="#000000" stroke-width="2.15" stroke-dasharray="8 7.7"/>
<path d="M413.1 77.9C418.96 77.65 447.89 76.35 460 75.9C472.11 75.45 500.25 74.57 510 74.3C519.75 74.03 532.94 73.74 538 73.75C543.06 73.76 547.38 74.24 550.5 74.4C553.62 74.56 559.88 74.77 563 75C566.12 75.23 572.38 75.91 575.5 76.25C578.62 76.59 584.88 77.25 588 77.75C591.12 78.25 597.38 79.5 600.5 80.25C603.62 81 609.88 82.56 613 83.75C616.12 84.94 623.16 88.41 625.5 89.75C627.84 91.09 630.5 93.22 631.75 94.5C633 95.78 634.47 98.56 635.5 100C636.53 101.44 638.91 104.44 640 106C641.09 107.56 643.25 110.75 644.25 112.5C645.25 114.25 647.16 118.06 648 120C648.84 121.94 650.62 127 651 128" stroke="#ff0000" stroke-width="2.15" stroke-dasharray="8 7.7"/>
<path d="M517.5 204C517.66 203.11 518.28 198.96 518.75 196.9C519.22 194.84 520.54 189.93 521.25 187.5C521.96 185.07 523.46 180.16 524.4 177.5C525.34 174.84 527.42 168.44 528.75 166.25C530.08 164.06 533.84 161.06 535 160C536.16 158.94 536.62 159.5 538 157.75C539.38 156 543.88 148.72 546 146C548.12 143.28 552.88 138.25 555 136C557.12 133.75 561.22 129.76 563 128C564.78 126.24 567.69 123.21 569.25 121.9C570.81 120.59 573.16 118.99 575.5 117.5C577.84 116.01 584.88 111.56 588 110C591.12 108.44 597.38 106.09 600.5 105C603.62 103.91 610.19 102 613 101.25C615.81 100.5 620.81 99.16 623 99C625.19 98.84 628.94 99.56 630.5 100C632.06 100.44 634.25 101.41 635.5 102.5C636.75 103.59 639.25 107.03 640.5 108.75C641.75 110.47 644.25 114.06 645.5 116.25C646.75 118.44 649.62 124.16 650.5 126.25C651.38 128.34 652.25 132.16 652.5 133" stroke="#00c000" stroke-width="2.15" stroke-dasharray="8 7.7"/>
<path d="M413.1 157.4C413.73 157.51 416.85 159.03 418.1 158.3C419.35 157.58 421.77 151.9 423.1 151.6C424.43 151.3 427.26 155.53 428.75 155.9C430.24 156.28 432.66 154.96 435 154.6C437.34 154.24 444.38 153.42 447.5 153C450.62 152.58 456.88 151.78 460 151.25C463.12 150.72 469.38 149.38 472.5 148.75C475.62 148.12 482.5 146.84 485 146.25C487.5 145.66 490.31 144.62 492.5 144C494.69 143.38 500.31 141.59 502.5 141.25C504.69 140.91 508.12 141.53 510 141.25C511.88 140.97 515.62 139.5 517.5 139C519.38 138.5 522.81 137.88 525 137.25C527.19 136.62 533.38 134.52 535 134C536.62 133.48 536.06 133.85 538 133.1C539.94 132.35 547.38 129.09 550.5 128C553.62 126.91 559.88 125.56 563 124.4C566.12 123.24 572.38 120 575.5 118.75C578.62 117.5 584.88 115.34 588 114.4C591.12 113.46 597.38 111.88 600.5 111.25C603.62 110.62 609.88 109.71 613 109.4C616.12 109.09 623.16 108.75 625.5 108.75C627.84 108.75 630.19 108.93 631.75 109.4C633.31 109.87 636.44 111.33 638 112.5C639.56 113.67 643.01 117.19 644.25 118.75C645.49 120.31 647.06 123.44 647.9 125C648.74 126.56 650.23 129.02 651 131.2C651.77 133.38 653.33 139.45 654.1 142.4C654.88 145.35 656.43 151.86 657.2 154.8C657.98 157.74 659.67 163.11 660.3 165.9C660.92 168.69 661.96 175.7 662.2 177.1" stroke="#0000ff" stroke-width="2.15" stroke-dasharray="8 7.7"/>
</g>
<clipPath id="cp02"><rect x="723.85" y="23.9" width="249.2" height="176.35"/></clipPath>
<g class="c" clip-path="url(#cp02)">
<path d="M723.85 119.4C724.27 119.76 726.04 122.02 727.25 122.25C728.46 122.48 731.94 121.69 733.5 121.25C735.06 120.81 738.19 119.03 739.75 118.75C741.31 118.47 744.59 119.12 746 119C747.41 118.88 749.59 118.59 751 117.75C752.41 116.91 755.53 112.91 757.25 112.25C758.97 111.59 763.03 112.54 764.75 112.5C766.47 112.46 769.59 112.14 771 111.9C772.41 111.66 774.44 110.71 776 110.6C777.56 110.49 781.62 111.23 783.5 111C785.38 110.77 789.28 109.26 791 108.75C792.72 108.24 795.53 107.29 797.25 106.9C798.97 106.51 802.88 106.07 804.75 105.6C806.62 105.12 810.38 103.56 812.25 103.1C814.12 102.64 817.88 102.32 819.75 101.9C821.62 101.48 825.53 100.3 827.25 99.75C828.97 99.2 831.94 98.17 833.5 97.5C835.06 96.83 837.81 95.15 839.75 94.4C841.69 93.65 847.06 92.12 849 91.5C850.94 90.88 853.69 90.14 855.25 89.4C856.81 88.66 859.94 86.62 861.5 85.6C863.06 84.58 866.19 82.03 867.75 81.25C869.31 80.47 872.44 80.11 874 79.4C875.56 78.69 878.69 76.46 880.25 75.6C881.81 74.74 884.94 73.28 886.5 72.5C888.06 71.72 891.19 70.1 892.75 69.4C894.31 68.7 897.44 67.61 899 66.9C900.56 66.19 903.69 64.61 905.25 63.75C906.81 62.89 909.94 60.78 911.5 60C913.06 59.22 916.19 58.16 917.75 57.5C919.31 56.84 922.44 55.3 924 54.75C925.56 54.2 928.69 53.38 930.25 53.1C931.81 52.82 934.94 52.5 936.5 52.5C938.06 52.5 941.19 52.79 942.75 53.1C944.31 53.41 947.75 54.52 949 55C950.25 55.48 951.97 56.12 952.75 56.9C953.53 57.68 954.47 59.92 955.25 61.25C956.03 62.58 958.22 66.12 959 67.5C959.78 68.88 960.88 71.05 961.5 72.3C962.12 73.55 963.38 76.07 964 77.5C964.62 78.93 965.88 81.88 966.5 83.75C967.12 85.62 968.45 90.31 969 92.5C969.55 94.69 970.51 99.31 970.9 101.25C971.29 103.19 971.76 105.66 972.1 108C972.44 110.34 973.41 118.5 973.6 120" stroke="#000000" stroke-width="2.15"/>
<path d="M723.85 46.6C725.06 46.49 730.73 45.94 733.5 45.75C736.27 45.56 742.88 45.26 746 45.1C749.12 44.94 756.16 44.7 758.5 44.5C760.84 44.3 763.19 43.66 764.75 43.5C766.31 43.34 768.66 43.31 771 43.25C773.34 43.19 780.38 43.08 783.5 43C786.62 42.92 792.88 42.69 796 42.6C799.12 42.51 805.38 42.27 808.5 42.25C811.62 42.23 817.88 42.38 821 42.4C824.12 42.42 830 42.44 833.5 42.4C837 42.36 845.5 42.21 849 42.1C852.5 41.99 858.38 41.69 861.5 41.5C864.62 41.31 870.88 40.71 874 40.6C877.12 40.49 883.38 40.68 886.5 40.6C889.62 40.52 895.88 40.04 899 40C902.12 39.96 908.38 39.97 911.5 40.25C914.62 40.53 921.66 41.84 924 42.25C926.34 42.66 928.69 43.08 930.25 43.5C931.81 43.92 934.94 44.94 936.5 45.6C938.06 46.26 941.19 47.89 942.75 48.75C944.31 49.61 947.75 51.64 949 52.5C950.25 53.36 951.81 54.51 952.75 55.6C953.69 56.69 955.72 59.92 956.5 61.25C957.28 62.58 958.38 65.01 959 66.25C959.62 67.49 960.88 69.79 961.5 71.2C962.12 72.61 963.38 75.93 964 77.5C964.62 79.07 965.88 81.88 966.5 83.75C967.12 85.62 968.45 90.31 969 92.5C969.55 94.69 970.51 99.31 970.9 101.25C971.29 103.19 971.76 105.66 972.1 108C972.44 110.34 973.41 118.5 973.6 120" stroke="#ff0000" stroke-width="2.15"/>
<path d="M791.5 204C791.7 203.57 792.35 201.41 793.1 200.6C793.85 199.79 796.01 199.14 797.5 197.5C798.99 195.86 803.44 189.06 805 187.5C806.56 185.94 808.28 185.81 810 185C811.72 184.19 816.72 181.78 818.75 181C820.78 180.22 824.46 178.91 826.25 178.75C828.04 178.59 831.31 180.72 833.1 179.75C834.89 178.78 838.8 172.53 840.6 171C842.4 169.47 845.7 168.32 847.5 167.5C849.3 166.68 853.28 165.18 855 164.4C856.72 163.62 859.53 162.35 861.25 161.25C862.97 160.15 867.03 156.66 868.75 155.6C870.47 154.54 873.83 154.54 875 152.75C876.17 150.96 877.32 143.71 878.1 141.25C878.88 138.79 880.39 134.66 881.25 133.1C882.11 131.54 884.06 129.64 885 128.75C885.94 127.86 887.64 126.61 888.75 126C889.86 125.39 892.63 125.35 893.9 123.9C895.17 122.45 897.52 116.28 898.9 114.4C900.27 112.53 903.4 110.39 904.9 108.9C906.4 107.41 909.61 104.24 910.9 102.5C912.19 100.76 914.24 96.72 915.25 95C916.26 93.28 917.91 90.39 919 88.75C920.09 87.11 922.75 83.46 924 81.9C925.25 80.34 927.75 77.58 929 76.25C930.25 74.92 932.75 72.58 934 71.25C935.25 69.92 937.91 66.62 939 65.6C940.09 64.58 941.81 63.56 942.75 63.1C943.69 62.64 945.56 62.05 946.5 61.9C947.44 61.75 949.31 61.67 950.25 61.9C951.19 62.13 953.06 62.89 954 63.75C954.94 64.61 956.81 67.66 957.75 68.75C958.69 69.84 960.72 71.41 961.5 72.5C962.28 73.59 963.38 76.09 964 77.5C964.62 78.91 965.88 81.88 966.5 83.75C967.12 85.62 968.45 90.31 969 92.5C969.55 94.69 970.51 99.31 970.9 101.25C971.29 103.19 971.76 105.66 972.1 108C972.44 110.34 973.41 118.5 973.6 120" stroke="#00c000" stroke-width="2.15"/>
<path d="M723.85 140C724.27 140.34 726.04 142.36 727.25 142.75C728.46 143.14 731.94 142.82 733.5 143.1C735.06 143.38 738.19 144.65 739.75 145C741.31 145.35 744.59 145.78 746 145.9C747.41 146.03 749.59 146.93 751 146C752.41 145.07 755.69 138.94 757.25 138.5C758.81 138.06 761.78 142.16 763.5 142.5C765.22 142.84 769.28 141.53 771 141.25C772.72 140.97 775.69 140.44 777.25 140.25C778.81 140.06 781.78 139.84 783.5 139.75C785.22 139.66 789.28 139.62 791 139.5C792.72 139.38 795.53 138.69 797.25 138.75C798.97 138.81 802.88 140.16 804.75 140C806.62 139.84 810.46 138 812.25 137.5C814.04 137 817.31 135.81 819.1 136C820.89 136.19 824.8 138.94 826.6 139C828.4 139.06 831.83 137.12 833.5 136.5C835.17 135.88 838.25 134.78 840 134C841.75 133.22 845.62 130.51 847.5 130.25C849.38 129.99 852.5 131.93 855 131.9C857.5 131.87 865 130.62 867.5 130C870 129.38 873.31 127.79 875 126.9C876.69 126.01 879.38 123.71 881 122.9C882.62 122.09 886.39 120.9 888 120.4C889.61 119.9 892.41 119.78 893.9 118.9C895.39 118.03 898.4 114.4 899.9 113.4C901.4 112.4 904.4 112.08 905.9 110.9C907.4 109.73 910.26 105.6 911.9 104C913.54 102.4 917.33 99.69 919 98.1C920.67 96.51 923.69 92.65 925.25 91.25C926.81 89.85 930.09 88.07 931.5 86.9C932.91 85.73 935.09 83.23 936.5 81.9C937.91 80.57 941.34 77.5 942.75 76.25C944.16 75 946.66 72.76 947.75 71.9C948.84 71.04 950.56 69.48 951.5 69.4C952.44 69.32 954.31 70.55 955.25 71.25C956.19 71.95 958.06 73.91 959 75C959.94 76.09 961.81 78.59 962.75 80C963.69 81.41 965.72 84.53 966.5 86.25C967.28 87.97 968.45 91.72 969 93.75C969.55 95.78 970.56 100.72 970.9 102.5C971.24 104.28 971.41 105.83 971.75 108C972.09 110.17 973.37 118.41 973.6 119.9" stroke="#0000ff" stroke-width="2.15"/>
<path d="M723.85 119.6C724.27 119.96 726.04 122.26 727.25 122.5C728.46 122.74 731.94 121.94 733.5 121.5C735.06 121.06 738.19 119.28 739.75 119C741.31 118.72 744.59 119.41 746 119.3C747.41 119.19 749.59 118.91 751 118.1C752.41 117.29 755.53 113.36 757.25 112.8C758.97 112.24 761.78 113.56 764.75 113.6C767.72 113.64 777.72 113.31 781 113.1C784.28 112.89 789.12 112.29 791 111.9C792.88 111.51 793.81 110.55 796 110C798.19 109.45 806.16 108.05 808.5 107.5C810.84 106.95 812.41 106.07 814.75 105.6C817.09 105.13 824.91 104.29 827.25 103.75C829.59 103.21 831.94 101.88 833.5 101.25C835.06 100.62 838.19 99.29 839.75 98.75C841.31 98.21 844.53 97.37 846 96.9C847.47 96.43 849.56 95.94 851.5 95C853.44 94.06 859.47 90.49 861.5 89.4C863.53 88.31 865.41 87.3 867.75 86.25C870.09 85.2 876.34 82.33 880.25 81C884.16 79.67 895.09 76.74 899 75.6C902.91 74.46 909.16 72.63 911.5 71.9C913.84 71.17 916.19 70.27 917.75 69.75C919.31 69.23 922.28 68.19 924 67.75C925.72 67.31 929.62 66.44 931.5 66.25C933.38 66.06 937.44 66.09 939 66.25C940.56 66.41 942.75 67.03 944 67.5C945.25 67.97 947.75 69.22 949 70C950.25 70.78 953.38 73.28 954 73.75" stroke="#000000" stroke-width="2.15" stroke-dasharray="8 7.7"/>
<path d="M723.85 46.8C726.62 46.62 740.11 45.8 746 45.4C751.89 45 764.75 43.9 771 43.6C777.25 43.3 789.75 43.09 796 43C802.25 42.91 814.38 42.95 821 42.9C827.62 42.85 844.72 42.58 849 42.6C853.28 42.62 852.91 42.99 855.25 43.1C857.59 43.21 864.62 43.26 867.75 43.5C870.88 43.74 877.12 44.58 880.25 45C883.38 45.42 889.62 46.43 892.75 46.9C895.88 47.37 902.12 48.21 905.25 48.75C908.38 49.29 914.62 50.54 917.75 51.25C920.88 51.96 927.91 53.69 930.25 54.4C932.59 55.11 934.94 56.04 936.5 56.9C938.06 57.76 941.19 60.16 942.75 61.25C944.31 62.34 947.44 64.12 949 65.6C950.56 67.08 954 71.46 955.25 73.1C956.5 74.74 958.06 77.14 959 78.75C959.94 80.36 961.94 84.28 962.75 86C963.56 87.72 965.16 91.69 965.5 92.5" stroke="#ff0000" stroke-width="2.15" stroke-dasharray="8 7.7"/>
<path d="M879.4 204C879.48 202.25 879.85 193.62 880 190C880.15 186.38 880.44 178.44 880.6 175C880.76 171.56 881.01 164.94 881.25 162.5C881.49 160.06 882.03 156.44 882.5 155.5C882.97 154.56 884.25 155.12 885 155C885.75 154.88 887.88 153.38 888.5 154.5C889.12 155.62 889.66 161.75 890 164C890.34 166.25 890.94 170.5 891.25 172.5C891.56 174.5 892.19 178.12 892.5 180C892.81 181.88 893.38 187.5 893.75 187.5C894.12 187.5 895.03 181.88 895.5 180C895.97 178.12 897.01 174.53 897.5 172.5C897.99 170.47 898.93 165.56 899.4 163.75C899.87 161.94 900.39 158.31 901.25 158C902.11 157.69 905.16 161.94 906.25 161.25C907.34 160.56 909.16 154.38 910 152.5C910.84 150.62 912.4 147.21 913 146.25C913.6 145.29 914.2 145.98 914.8 144.8C915.4 143.62 917.3 138.54 917.8 136.8C918.3 135.06 918.42 132.83 918.8 130.9C919.17 128.97 919.8 123.03 920.8 121.4C921.8 119.78 925.42 119.21 926.8 117.9C928.17 116.59 930.67 112.51 931.8 110.9C932.92 109.29 934.9 106.52 935.8 105C936.7 103.48 938.13 100.31 939 98.75C939.87 97.19 941.66 93.75 942.75 92.5C943.84 91.25 946.5 89.45 947.75 88.75C949 88.05 951.5 87.09 952.75 86.9C954 86.71 956.66 86.94 957.75 87.25C958.84 87.56 960.72 88.59 961.5 89.4C962.28 90.21 963.38 92.58 964 93.75C964.62 94.92 965.95 97.5 966.5 98.75C967.05 100 968.01 102.59 968.4 103.75C968.79 104.91 969.45 107.47 969.6 108" stroke="#00c000" stroke-width="2.15" stroke-dasharray="8 7.7"/>
<path d="M723.85 140.2C724.27 140.55 726.04 142.6 727.25 143C728.46 143.4 731.94 143.11 733.5 143.4C735.06 143.69 738.19 144.95 739.75 145.3C741.31 145.65 744.59 146.07 746 146.2C747.41 146.32 749.59 147.21 751 146.3C752.41 145.39 755.69 139.26 757.25 138.9C758.81 138.54 761.78 142.92 763.5 143.4C765.22 143.88 768.81 142.83 771 142.75C773.19 142.67 778.5 142.75 781 142.75C783.5 142.75 788.81 142.78 791 142.75C793.19 142.72 796.75 142.29 798.5 142.5C800.25 142.71 802.94 144.4 805 144.4C807.06 144.4 812.97 142.58 815 142.5C817.03 142.42 819.76 143.05 821.25 143.75C822.74 144.45 825.49 148.1 826.9 148.1C828.31 148.1 830.86 144.14 832.5 143.75C834.14 143.36 838.12 145.23 840 145C841.88 144.77 845.62 142.24 847.5 141.9C849.38 141.56 853.44 141.86 855 142.25C856.56 142.64 857.81 144.69 860 145C862.19 145.31 870.31 145.14 872.5 144.75C874.69 144.36 876.41 142.65 877.5 141.9C878.59 141.15 880.16 138.75 881.25 138.75C882.34 138.75 884.79 140.96 886.25 141.9C887.71 142.84 891.07 145.79 892.9 146.3C894.73 146.81 899.02 146.69 900.9 146C902.77 145.31 906.41 141.89 907.9 140.8C909.39 139.71 911.06 137.8 912.8 137.3C914.54 136.8 920.3 137.48 921.8 136.8C923.3 136.12 923.42 133.26 924.8 131.9C926.17 130.54 931.19 127.21 932.8 125.9C934.41 124.59 936.34 122.78 937.7 121.4C939.06 120.03 942.45 116.46 943.7 114.9C944.95 113.34 946.7 110.51 947.7 108.9C948.7 107.29 950.45 102.92 951.7 102C952.95 101.08 956.09 101.25 957.7 101.5C959.31 101.75 963.24 103.08 964.6 104C965.96 104.92 967.85 106.91 968.6 108.9C969.35 110.89 970.16 117.28 970.6 119.9C971.04 122.53 971.79 127.41 972.1 129.9C972.41 132.39 972.98 138.56 973.1 139.8" stroke="#0000ff" stroke-width="2.15" stroke-dasharray="8 7.7"/>
</g>
<clipPath id="cp10"><rect x="102.2" y="206.65" width="249.4" height="176.52"/></clipPath>
<g class="c" clip-path="url(#cp10)">
<path d="M102.2 242.6C104.92 243.01 118.15 244.84 124 245.9C129.85 246.96 142.75 249.72 149 251.1C155.25 252.47 167.75 255.34 174 256.9C180.25 258.46 192.38 261.53 199 263.6C205.62 265.68 222.25 271.76 227 273.5C231.75 275.24 234.5 276.38 237 277.5C239.5 278.62 244.97 281.12 247 282.5C249.03 283.88 251.06 286.86 253.25 288.5C255.44 290.14 261.53 293.46 264.5 295.6C267.47 297.74 273.88 302.94 277 305.6C280.12 308.26 287.24 315.02 289.5 316.9C291.76 318.77 293.66 319.16 295.1 320.6C296.54 322.04 299.48 326.25 301 328.4C302.52 330.55 305.86 335.31 307.3 337.8C308.74 340.29 311.32 345.54 312.5 348.3C313.68 351.06 315.77 356.88 316.7 359.9C317.62 362.92 319.24 369.61 319.9 372.5C320.56 375.39 321.66 381.19 322 383C322.34 384.81 322.53 386.5 322.6 387" stroke="#000000" stroke-width="2.15"/>
<path d="M102.2 241C104.92 241.43 118.15 243.28 124 244.4C129.85 245.53 142.75 248.55 149 250C155.25 251.45 167.75 254.36 174 256C180.25 257.64 192.38 260.96 199 263.1C205.62 265.24 222.25 271.33 227 273.1C231.75 274.88 234.5 276.14 237 277.3C239.5 278.46 244.97 281 247 282.4C249.03 283.8 251.06 286.84 253.25 288.5C255.44 290.16 261.53 293.55 264.5 295.7C267.47 297.85 273.88 303.04 277 305.7C280.12 308.36 287.24 315.12 289.5 317C291.76 318.88 293.66 319.27 295.1 320.7C296.54 322.12 299.48 326.26 301 328.4C302.52 330.54 305.86 335.31 307.3 337.8C308.74 340.29 311.32 345.54 312.5 348.3C313.68 351.06 315.77 356.88 316.7 359.9C317.62 362.92 319.24 369.61 319.9 372.5C320.56 375.39 321.66 381.19 322 383C322.34 384.81 322.53 386.5 322.6 387" stroke="#ff0000" stroke-width="2.15"/>
<path d="M102.2 262.1C103.36 262.04 108.78 261.58 111.5 261.6C114.22 261.62 119.31 261.86 124 262.25C128.69 262.64 142.75 263.98 149 264.75C155.25 265.52 167.75 267.32 174 268.4C180.25 269.48 192.38 272.01 199 273.4C205.62 274.79 222.25 278.33 227 279.5C231.75 280.67 234.5 281.88 237 282.75C239.5 283.62 244.97 285.41 247 286.5C249.03 287.59 251.06 290.05 253.25 291.5C255.44 292.95 261.53 296.1 264.5 298.1C267.47 300.1 273.88 305 277 307.5C280.12 310 287.24 316.35 289.5 318.1C291.76 319.85 293.66 320.15 295.1 321.5C296.54 322.85 299.48 326.86 301 328.9C302.52 330.94 305.86 335.38 307.3 337.8C308.74 340.23 311.32 345.54 312.5 348.3C313.68 351.06 315.77 356.88 316.7 359.9C317.62 362.92 319.24 369.61 319.9 372.5C320.56 375.39 321.66 381.19 322 383C322.34 384.81 322.53 386.5 322.6 387" stroke="#00c000" stroke-width="2.15"/>
<path d="M102.2 244C104.92 244.41 118.15 246.24 124 247.25C129.85 248.26 142.75 250.79 149 252.1C155.25 253.41 167.75 256.26 174 257.75C180.25 259.24 192.38 262.03 199 264C205.62 265.97 222.25 271.81 227 273.5C231.75 275.19 234.5 276.38 237 277.5C239.5 278.62 244.97 281.12 247 282.5C249.03 283.88 251.06 286.86 253.25 288.5C255.44 290.14 261.53 293.46 264.5 295.6C267.47 297.74 273.88 302.94 277 305.6C280.12 308.26 287.24 315.02 289.5 316.9C291.76 318.77 293.66 319.16 295.1 320.6C296.54 322.04 299.48 326.25 301 328.4C302.52 330.55 305.86 335.31 307.3 337.8C308.74 340.29 311.32 345.54 312.5 348.3C313.68 351.06 315.77 356.88 316.7 359.9C317.62 362.92 319.24 369.61 319.9 372.5C320.56 375.39 321.66 381.19 322 383C322.34 384.81 322.53 386.5 322.6 387" stroke="#0000ff" stroke-width="2.15"/>
<path d="M109.23 259.73C111.1 260.23 120.4 262.75 124.22 263.73C128.04 264.71 135.99 266.57 139.82 267.53C143.65 268.49 151.07 270.37 154.83 271.38C158.59 272.39 166.12 274.43 169.88 275.64C173.64 276.85 181.24 279.68 184.92 281.06C188.6 282.44 195.73 285.19 199.34 286.67C202.95 288.15 210.27 291.29 213.78 292.93C217.29 294.57 225.09 298.55 227.43 299.81C229.77 301.07 230.76 301.88 232.49 302.99C234.22 304.1 238.62 306.73 241.28 308.67C243.94 310.61 250.83 316.16 253.8 318.49C256.77 320.82 262.63 325.36 265.06 327.3C267.49 329.24 271.65 332.65 273.2 334.03C274.75 335.41 275.97 336.97 277.42 338.34C278.87 339.71 283.38 343.52 284.83 344.96C286.28 346.4 287.6 348.49 289.02 349.85C290.44 351.21 295.29 355.06 296.18 355.81" stroke="#000000" stroke-width="2.15" stroke-dasharray="8 7.7"/>
<path d="M108.74 261.57C110.62 262.07 119.92 264.59 123.75 265.57C127.58 266.55 135.54 268.41 139.36 269.37C143.18 270.33 150.6 272.21 154.34 273.22C158.08 274.23 165.55 276.25 169.29 277.45C173.03 278.65 180.58 281.47 184.25 282.84C187.92 284.21 195.03 286.94 198.62 288.42C202.21 289.9 209.49 293.03 212.98 294.66C216.47 296.29 224.22 300.24 226.53 301.48C228.84 302.72 229.76 303.5 231.46 304.59C233.16 305.68 237.51 308.28 240.16 310.21C242.81 312.13 249.67 317.67 252.63 319.99C255.59 322.31 261.46 326.85 263.87 328.78C266.28 330.71 270.4 334.08 271.93 335.45C273.46 336.82 274.67 338.37 276.12 339.73C277.57 341.09 282.05 344.87 283.5 346.31C284.95 347.75 286.28 349.85 287.71 351.22C289.14 352.59 294.05 356.51 294.96 357.27" stroke="#ff0000" stroke-width="2.15" stroke-dasharray="8 7.7"/>
<path d="M99.7 286.8C100.01 286.81 99.79 286.78 102.2 286.9C104.61 287.02 114.87 287.49 119 287.75C123.13 288.01 131.34 288.64 135.25 289C139.16 289.36 146.42 290.11 150.25 290.6C154.08 291.09 161.99 292.24 165.9 292.9C169.81 293.56 177.68 295.09 181.5 295.9C185.32 296.71 193.06 298.54 196.5 299.4C199.94 300.26 205.19 301.63 209 302.8C212.81 303.97 223.34 307.3 227 308.75C230.66 310.2 235.2 312.68 238.25 314.4C241.3 316.12 248.19 320.35 251.4 322.5C254.61 324.65 261.39 329.74 263.9 331.6C266.41 333.46 269.86 336.15 271.5 337.4C273.14 338.65 275.56 340.4 277 341.6C278.44 342.8 281.62 345.66 283 347C284.38 348.34 286.62 351.05 288 352.3C289.38 353.55 292.64 355.73 294 357C295.36 358.27 297.64 360.9 298.9 362.5C300.16 364.1 303.12 368.03 304.1 369.8C305.08 371.57 305.91 374.99 306.7 376.7C307.49 378.41 309.8 382.21 310.4 383.5C311 384.79 311.36 386.56 311.5 387" stroke="#00c000" stroke-width="2.15" stroke-dasharray="8 7.7"/>
<path d="M109 260.6C110.88 261.1 120.17 263.62 124 264.6C127.83 265.58 135.78 267.44 139.6 268.4C143.42 269.36 150.85 271.24 154.6 272.25C158.35 273.26 165.85 275.29 169.6 276.5C173.35 277.71 180.92 280.52 184.6 281.9C188.28 283.27 195.4 286.02 199 287.5C202.6 288.98 209.9 292.11 213.4 293.75C216.9 295.39 224.68 299.35 227 300.6C229.32 301.85 230.28 302.65 232 303.75C233.72 304.85 238.09 307.47 240.75 309.4C243.41 311.33 250.28 316.88 253.25 319.2C256.22 321.52 262.08 326.06 264.5 328C266.92 329.94 271.06 333.32 272.6 334.7C274.14 336.07 275.35 337.64 276.8 339C278.25 340.36 282.75 344.16 284.2 345.6C285.65 347.04 286.97 349.14 288.4 350.5C289.82 351.86 294.7 355.75 295.6 356.5" stroke="#0000ff" stroke-width="2.15" stroke-dasharray="8 7.7"/>
</g>
<clipPath id="cp11"><rect x="413.1" y="206.65" width="249.2" height="176.52"/></clipPath>
<g class="c" clip-path="url(#cp11)">
<path d="M413.1 233.25C415.84 233.44 429.14 234.28 435 234.75C440.86 235.22 453.75 236.33 460 237C466.25 237.67 478.75 239.15 485 240.1C491.25 241.05 503.38 243.17 510 244.6C516.62 246.03 532.94 250.11 538 251.5C543.06 252.89 547.38 254.57 550.5 255.7C553.62 256.82 559.88 259.16 563 260.5C566.12 261.84 572.38 264.7 575.5 266.4C578.62 268.1 584.88 271.95 588 274.1C591.12 276.25 597.38 280.83 600.5 283.6C603.62 286.37 610.66 293.62 613 296.25C615.34 298.88 617.69 302.39 619.25 304.6C620.81 306.81 624.38 312.19 625.5 313.9C626.62 315.61 627.44 316.96 628.2 318.3C628.96 319.64 630.5 322.1 631.6 324.6C632.7 327.1 635.81 334.54 637 338.3C638.19 342.06 640.24 350.94 641.1 354.7C641.96 358.46 643.3 364.97 643.9 368.4C644.5 371.82 645.56 379.78 645.9 382.1C646.24 384.43 646.51 386.39 646.6 387" stroke="#000000" stroke-width="2.15"/>
<path d="M413.1 227.6C415.84 227.91 429.14 229.36 435 230.1C440.86 230.84 453.75 232.51 460 233.5C466.25 234.49 478.75 236.7 485 238C491.25 239.3 503.38 242.16 510 243.9C516.62 245.64 532.94 250.38 538 251.9C543.06 253.43 547.38 254.98 550.5 256.1C553.62 257.23 559.88 259.56 563 260.9C566.12 262.24 572.38 265.11 575.5 266.8C578.62 268.49 584.88 272.28 588 274.4C591.12 276.52 597.38 281.02 600.5 283.75C603.62 286.48 610.66 293.64 613 296.25C615.34 298.86 617.69 302.39 619.25 304.6C620.81 306.81 624.38 312.19 625.5 313.9C626.62 315.61 627.44 316.96 628.2 318.3C628.96 319.64 630.5 322.1 631.6 324.6C632.7 327.1 635.81 334.54 637 338.3C638.19 342.06 640.24 350.94 641.1 354.7C641.96 358.46 643.3 364.97 643.9 368.4C644.5 371.82 645.56 379.78 645.9 382.1C646.24 384.43 646.51 386.39 646.6 387" stroke="#ff0000" stroke-width="2.15"/>
<path d="M413.1 278.25C415.84 278.33 429.14 278.69 435 278.9C440.86 279.11 453.75 279.71 460 279.9C466.25 280.09 478.75 280.29 485 280.4C491.25 280.51 503.38 280.61 510 280.75C516.62 280.89 532.94 281.36 538 281.5C543.06 281.64 547.38 281.7 550.5 281.9C553.62 282.1 559.88 282.71 563 283.1C566.12 283.49 572.38 284.38 575.5 285C578.62 285.62 584.88 287.16 588 288.1C591.12 289.04 598.16 291.51 600.5 292.5C602.84 293.49 605.19 294.99 606.75 296C608.31 297.01 611.44 299.2 613 300.6C614.56 302 617.79 305.5 619.25 307.2C620.71 308.9 623.51 312.54 624.7 314.2C625.89 315.86 627.94 319.15 628.8 320.5C629.66 321.85 630.58 322.77 631.6 325C632.62 327.23 635.81 334.59 637 338.3C638.19 342.01 640.24 350.94 641.1 354.7C641.96 358.46 643.3 364.97 643.9 368.4C644.5 371.82 645.56 379.78 645.9 382.1C646.24 384.43 646.51 386.39 646.6 387" stroke="#00c000" stroke-width="2.15"/>
<path d="M413.1 248.5C415.84 248.62 429.14 249.18 435 249.5C440.86 249.82 453.75 250.63 460 251.1C466.25 251.57 478.75 252.64 485 253.25C491.25 253.86 503.38 255.23 510 256C516.62 256.77 532.94 258.62 538 259.4C543.06 260.17 547.38 261.44 550.5 262.2C553.62 262.96 559.88 264.45 563 265.5C566.12 266.55 572.38 269.18 575.5 270.6C578.62 272.03 584.88 275.1 588 276.9C591.12 278.7 597.38 282.58 600.5 285C603.62 287.42 610.66 293.82 613 296.25C615.34 298.68 617.69 302.19 619.25 304.4C620.81 306.61 624.38 312.16 625.5 313.9C626.62 315.64 627.44 316.96 628.2 318.3C628.96 319.64 630.5 322.1 631.6 324.6C632.7 327.1 635.81 334.54 637 338.3C638.19 342.06 640.24 350.94 641.1 354.7C641.96 358.46 643.3 364.97 643.9 368.4C644.5 371.82 645.56 379.78 645.9 382.1C646.24 384.43 646.51 386.39 646.6 387" stroke="#0000ff" stroke-width="2.15"/>
<path d="M418.1 243.25C420.53 243.56 433.12 245.09 437.5 245.75C441.88 246.41 449.19 247.77 453.1 248.5C457.01 249.23 464.84 250.78 468.75 251.6C472.66 252.42 480.57 254.14 484.4 255.1C488.23 256.06 495.73 258.15 499.4 259.25C503.07 260.35 510.16 262.65 513.75 263.9C517.34 265.15 525.27 268 528.1 269.25C530.93 270.5 534.11 272.73 536.4 273.9C538.69 275.07 543.9 277.34 546.4 278.6C548.9 279.86 553.44 282.3 556.4 284C559.36 285.7 566.83 289.96 570.1 292.2C573.38 294.44 579.61 299.34 582.6 301.9C585.59 304.46 591.27 309.92 594 312.7C596.73 315.48 601.88 321.09 604.4 324.1C606.92 327.11 611.99 333.5 614.2 336.8C616.41 340.1 620.4 347.1 622.1 350.5C623.8 353.9 626.4 360.31 627.8 364C629.2 367.69 632.36 377.12 633.3 380C634.24 382.88 635.05 386.12 635.3 387" stroke="#000000" stroke-width="2.15" stroke-dasharray="8 7.7"/>
<path d="M414.75 244.75C417.21 245.16 429.99 247.25 434.4 248C438.81 248.75 446.18 250.01 450 250.75C453.82 251.49 461.25 252.99 465 253.9C468.75 254.81 476.25 256.96 480 258C483.75 259.04 491.25 261.09 495 262.25C498.75 263.41 506.25 265.91 510 267.25C513.75 268.59 521.5 271.54 525 273C528.5 274.46 534.42 277.21 538 278.9C541.58 280.59 549.98 284.54 553.6 286.5C557.23 288.46 563.75 292.4 567 294.6C570.25 296.8 576.49 301.71 579.6 304.1C582.71 306.49 589 311.05 591.9 313.7C594.8 316.35 600.15 322.4 602.8 325.3C605.45 328.2 610.88 333.65 613.1 336.9C615.33 340.15 618.89 347.85 620.6 351.3C622.31 354.75 625.34 360.91 626.8 364.5C628.26 368.09 631.36 377.19 632.3 380C633.24 382.81 634.05 386.12 634.3 387" stroke="#ff0000" stroke-width="2.15" stroke-dasharray="8 7.7"/>
<path d="M420.5 310.75C422.31 310.91 430.06 311.62 435 312C439.94 312.38 453.75 313.31 460 313.75C466.25 314.19 478.75 315.09 485 315.5C491.25 315.91 503.75 316.59 510 317C516.25 317.41 528.75 318.22 535 318.75C541.25 319.28 555.31 320.69 560 321.25C564.69 321.81 569.89 322.74 572.5 323.25C575.11 323.76 578.84 324.73 580.9 325.3C582.96 325.87 587.11 327.03 589 327.8C590.89 328.57 594.25 330.54 596 331.5C597.75 332.46 601.38 334.48 603 335.5C604.62 336.52 607.62 338.51 609 339.7C610.38 340.89 612.8 343.55 614 345C615.2 346.45 617.48 349.74 618.6 351.3C619.73 352.86 621.89 355.88 623 357.5C624.11 359.12 626.56 362.61 627.5 364.3C628.44 365.99 629.74 369.04 630.5 371C631.26 372.96 632.96 378 633.6 380C634.24 382 635.35 386.12 635.6 387" stroke="#00c000" stroke-width="2.15" stroke-dasharray="8 7.7"/>
<path d="M417.5 251.75C419.93 252.02 432.52 253.4 436.9 253.9C441.27 254.4 448.6 255.25 452.5 255.75C456.4 256.25 464.19 257.32 468.1 257.9C472.01 258.48 479.84 259.73 483.75 260.4C487.66 261.07 495.57 262.46 499.4 263.25C503.23 264.04 510.57 265.81 514.4 266.75C518.23 267.69 527.05 269.94 530 270.75C532.95 271.56 535.75 272.37 538 273.25C540.25 274.13 545.5 276.57 548 277.8C550.5 279.03 555.03 281.42 558 283.1C560.97 284.78 568.45 289.01 571.75 291.25C575.05 293.49 581.37 298.43 584.4 301C587.43 303.57 593.27 309.02 596 311.8C598.73 314.58 603.77 320.19 606.25 323.25C608.73 326.31 613.66 332.92 615.8 336.25C617.94 339.58 621.77 346.48 623.4 349.9C625.02 353.32 627.44 359.84 628.8 363.6C630.16 367.36 633.36 377.07 634.3 380C635.24 382.93 636.05 386.12 636.3 387" stroke="#0000ff" stroke-width="2.15" stroke-dasharray="8 7.7"/>
</g>
<clipPath id="cp12"><rect x="723.85" y="206.65" width="249.2" height="176.52"/></clipPath>
<g class="c" clip-path="url(#cp12)">
<path d="M723.85 231.6C726.62 231.65 740.11 231.82 746 232C751.89 232.18 764.75 232.76 771 233C777.25 233.24 789.75 233.56 796 233.9C802.25 234.24 814.38 235.11 821 235.75C827.62 236.39 843.94 238.23 849 239C854.06 239.77 858.38 241.12 861.5 241.9C864.62 242.68 871.19 244.39 874 245.25C876.81 246.11 881.66 247.81 884 248.75C886.34 249.69 890.09 251.58 892.75 252.75C895.41 253.92 902.28 256.6 905.25 258.1C908.22 259.6 914.16 263.02 916.5 264.75C918.84 266.48 922.28 270.23 924 271.9C925.72 273.57 928.69 276.49 930.25 278.1C931.81 279.71 935.25 283.34 936.5 284.75C937.75 286.16 939.14 287.84 940.25 289.4C941.36 290.96 943.99 294.65 945.4 297.2C946.81 299.75 950.16 306.5 951.5 309.8C952.84 313.1 955.24 320.55 956.1 323.6C956.96 326.65 957.92 332.49 958.4 334.2C958.88 335.91 959.42 334.81 959.9 337.3C960.38 339.79 961.73 350.1 962.2 354.1C962.68 358.1 963.38 365.88 963.7 369.3C964.03 372.73 964.6 379.29 964.8 381.5C965 383.71 965.24 386.31 965.3 387" stroke="#000000" stroke-width="2.15"/>
<path d="M723.85 222.25C726.62 222.53 740.11 223.88 746 224.5C751.89 225.12 764.75 226.55 771 227.25C777.25 227.95 789.75 229.24 796 230.1C802.25 230.96 814.38 232.89 821 234.1C827.62 235.31 843.94 238.67 849 239.75C854.06 240.83 858.38 241.91 861.5 242.75C864.62 243.59 871.19 245.52 874 246.5C876.81 247.48 881.66 249.54 884 250.6C886.34 251.66 890.09 253.67 892.75 255C895.41 256.33 902.28 259.61 905.25 261.25C908.22 262.89 914.16 266.38 916.5 268.1C918.84 269.82 922.28 273.44 924 275C925.72 276.56 928.69 279.19 930.25 280.6C931.81 282.01 934.94 284.45 936.5 286.25C938.06 288.05 941.5 292.97 942.75 295C944 297.03 945.53 300.65 946.5 302.5C947.47 304.35 949.42 307.16 950.5 309.8C951.58 312.44 954.19 320.55 955.1 323.6C956.01 326.65 957.2 332.49 957.8 334.2C958.4 335.91 959.35 334.81 959.9 337.3C960.45 339.79 961.73 350.1 962.2 354.1C962.68 358.1 963.38 365.88 963.7 369.3C964.03 372.73 964.6 379.29 964.8 381.5C965 383.71 965.24 386.31 965.3 387" stroke="#ff0000" stroke-width="2.15"/>
<path d="M723.85 290C726.62 290.16 740.11 291 746 291.25C751.89 291.5 764.75 291.78 771 292C777.25 292.22 791 292.81 796 293C801 293.19 807.88 293.56 811 293.5C814.12 293.44 816.62 292.47 821 292.5C825.38 292.53 839.38 293.25 846 293.75C852.62 294.25 868.16 295.91 874 296.5C879.84 297.09 889.62 298.34 892.75 298.5C895.88 298.66 896.66 297.59 899 297.75C901.34 297.91 908.38 299.28 911.5 299.75C914.62 300.22 921.09 301.09 924 301.5C926.91 301.91 932.64 302.53 934.75 303C936.86 303.47 939.37 304.2 940.9 305.25C942.43 306.3 945.67 309.49 947 311.4C948.33 313.31 950.55 318.21 951.5 320.5C952.45 322.79 953.93 327.7 954.6 329.7C955.27 331.7 956.32 335.26 956.9 336.5C957.48 337.74 958.91 339.21 959.2 339.6" stroke="#00c000" stroke-width="2.15"/>
<path d="M723.85 256C726.62 256.2 740.11 257.13 746 257.6C751.89 258.07 766.31 259.25 771 259.75C775.69 260.25 780.38 261.19 783.5 261.6C786.62 262.01 791.31 262.56 796 263C800.69 263.44 815.53 264.68 821 265.1C826.47 265.53 836.25 266.02 839.75 266.4C843.25 266.77 846.28 267.58 849 268.1C851.72 268.62 858.38 270.02 861.5 270.6C864.62 271.18 870.88 272.32 874 272.75C877.12 273.18 883.38 273.59 886.5 274C889.62 274.41 895.88 275.41 899 276C902.12 276.59 908.38 277.91 911.5 278.75C914.62 279.59 921.19 281.69 924 282.75C926.81 283.81 931.97 286.11 934 287.25C936.03 288.39 938.83 290.58 940.25 291.9C941.67 293.22 943.99 295.56 945.4 297.8C946.81 300.04 950.16 306.57 951.5 309.8C952.84 313.03 955.24 320.55 956.1 323.6C956.96 326.65 957.92 332.49 958.4 334.2C958.88 335.91 959.42 334.81 959.9 337.3C960.38 339.79 961.73 350.1 962.2 354.1C962.68 358.1 963.38 365.88 963.7 369.3C964.03 372.73 964.6 379.29 964.8 381.5C965 383.71 965.24 386.31 965.3 387" stroke="#0000ff" stroke-width="2.15"/>
<path d="M721.5 234.8C723.62 234.95 734.42 235.65 738.5 236C742.58 236.35 750.19 237.19 754.1 237.6C758.01 238.01 765.84 238.81 769.75 239.25C773.66 239.69 781.49 240.6 785.4 241.1C789.31 241.6 797.1 242.67 801 243.25C804.9 243.83 812.69 245 816.6 245.75C820.51 246.5 828.2 248.09 832.25 249.25C836.3 250.41 845.27 253.66 849 255C852.73 256.34 858.69 258.49 862.1 260C865.51 261.51 872.81 265.1 876.25 267.1C879.69 269.1 886.44 273.75 889.6 276C892.76 278.25 898.62 282.59 901.5 285.1C904.38 287.61 909.96 293.39 912.6 296.1C915.24 298.81 920.11 303.75 922.6 306.8C925.09 309.85 930.31 317.07 932.5 320.5C934.69 323.93 938.34 330.68 940.1 334.2C941.86 337.72 945.26 345.07 946.6 348.7C947.94 352.32 949.88 359.39 950.8 363.2C951.72 367.01 953.48 376.22 954 379.2C954.52 382.18 954.88 386.02 955 387" stroke="#000000" stroke-width="2.15" stroke-dasharray="8 7.7"/>
<path d="M727.9 238C730.32 238.38 742.88 240.31 747.25 241C751.62 241.69 758.99 242.82 762.9 243.5C766.81 244.18 774.6 245.68 778.5 246.4C782.4 247.12 790.19 248.44 794.1 249.25C798.01 250.06 805.92 251.96 809.75 252.9C813.58 253.84 821 255.69 824.75 256.75C828.5 257.81 836.02 260.11 839.75 261.4C843.48 262.69 850.91 265.58 854.6 267.1C858.29 268.62 865.73 271.96 869.25 273.6C872.77 275.24 879.42 278.27 882.75 280.25C886.08 282.23 892.73 287.13 895.9 289.4C899.07 291.67 905.15 295.94 908.1 298.4C911.05 300.86 916.84 306.15 919.5 309.1C922.16 312.05 927.11 318.76 929.4 322C931.69 325.24 935.8 331.56 937.8 335C939.8 338.44 943.88 345.88 945.4 349.5C946.92 353.12 949.05 360.29 950 364C950.95 367.71 952.5 376.32 953 379.2C953.5 382.07 953.88 386.02 954 387" stroke="#ff0000" stroke-width="2.15" stroke-dasharray="8 7.7"/>
<path d="M721.5 323.5C723 323.69 730.44 324.72 733.5 325C736.56 325.28 741.31 325.44 746 325.75C750.69 326.06 764.75 326.97 771 327.5C777.25 328.03 791 329.53 796 330C801 330.47 807.88 331.25 811 331.25C814.12 331.25 816.62 329.78 821 330C825.38 330.22 841.31 332.22 846 333C850.69 333.78 855.38 335.44 858.5 336.25C861.62 337.06 867.88 338.97 871 339.5C874.12 340.03 880.38 340 883.5 340.5C886.62 341 893.41 342.85 896 343.5C898.59 344.15 901.31 344.95 904.25 345.7C907.19 346.45 915.69 348.65 919.5 349.5C923.31 350.35 932.08 351.74 934.75 352.5C937.42 353.26 939.47 354.45 940.9 355.6C942.33 356.75 945.06 360.18 946.2 361.7C947.34 363.22 949.14 365.9 950 367.8C950.86 369.7 952.52 375.19 953.1 376.9C953.68 378.61 954.3 380.24 954.6 381.5C954.9 382.76 955.39 386.31 955.5 387" stroke="#00c000" stroke-width="2.15" stroke-dasharray="8 7.7"/>
<path d="M727.9 250.5C730.32 250.72 742.8 251.8 747.25 252.25C751.7 252.7 759.52 253.63 763.5 254.1C767.48 254.57 775.19 255.48 779.1 256C783.01 256.52 790.84 257.69 794.75 258.25C798.66 258.81 806.49 259.84 810.4 260.5C814.31 261.16 822.17 262.61 826 263.5C829.83 264.39 837.24 266.55 841 267.6C844.76 268.65 852.34 270.72 856.1 271.9C859.86 273.07 867.43 275.56 871.1 277C874.77 278.44 881.94 281.74 885.5 283.4C889.06 285.06 896.11 288.38 899.6 290.25C903.09 292.12 910.25 296.14 913.4 298.4C916.55 300.66 922.13 305.54 924.8 308.3C927.47 311.06 932.55 317.35 934.75 320.5C936.95 323.65 940.68 329.98 942.4 333.5C944.12 337.02 947.26 344.99 948.5 348.7C949.74 352.41 951.45 359.39 952.3 363.2C953.15 367.01 954.8 376.22 955.3 379.2C955.8 382.18 956.17 386.02 956.3 387" stroke="#0000ff" stroke-width="2.15" stroke-dasharray="8 7.7"/>
</g>
<clipPath id="cp20"><rect x="102.2" y="389.4" width="249.4" height="176.45"/></clipPath>
<g class="c" clip-path="url(#cp20)">
<path d="M102.2 461.3C104.92 461.07 118.15 460.07 124 459.45C129.85 458.82 142.75 457.11 149 456.3C155.25 455.49 167.75 453.77 174 452.95C180.25 452.12 192.38 450.61 199 449.7C205.62 448.79 221.94 446.59 227 445.7C232.06 444.81 236.38 443.38 239.5 442.6C242.62 441.82 248.88 440.19 252 439.45C255.12 438.71 261.38 437.36 264.5 436.7C267.62 436.04 273.88 434.88 277 434.2C280.12 433.52 286.38 431.93 289.5 431.25C292.62 430.57 298.88 429.38 302 428.75C305.12 428.12 312 426.84 314.5 426.25C317 425.66 320.44 424.59 322 424C323.56 423.41 325.75 422.31 327 421.5C328.25 420.69 330.91 418.44 332 417.5C333.09 416.56 334.97 414.55 335.75 414C336.53 413.45 337.62 413.05 338.25 413.1C338.88 413.15 340.21 413.69 340.75 414.4C341.29 415.11 342.13 417.27 342.6 418.75C343.07 420.23 344.02 424.06 344.5 426.25C344.98 428.44 345.93 433.44 346.4 436.25C346.87 439.06 347.86 445.78 348.25 448.75C348.64 451.72 349.19 457.03 349.5 460C349.81 462.97 350.5 470.12 350.75 472.5C351 474.88 351.41 478.19 351.5 479" stroke="#000000" stroke-width="2.15"/>
<path d="M102.2 455.9C104.92 455.63 118.15 454.33 124 453.75C129.85 453.17 142.75 451.91 149 451.25C155.25 450.59 167.75 449.21 174 448.5C180.25 447.79 192.38 446.38 199 445.6C205.62 444.82 221.94 442.98 227 442.25C232.06 441.52 236.38 440.34 239.5 439.75C242.62 439.16 248.88 438.09 252 437.5C255.12 436.91 261.38 435.55 264.5 435C267.62 434.45 273.88 433.59 277 433.1C280.12 432.61 286.38 431.64 289.5 431.1C292.62 430.56 298.88 429.36 302 428.75C305.12 428.14 312 426.84 314.5 426.25C317 425.66 320.44 424.59 322 424C323.56 423.41 325.75 422.31 327 421.5C328.25 420.69 330.91 418.44 332 417.5C333.09 416.56 334.97 414.55 335.75 414C336.53 413.45 337.62 413.05 338.25 413.1C338.88 413.15 340.21 413.69 340.75 414.4C341.29 415.11 342.13 417.27 342.6 418.75C343.07 420.23 344.02 424.06 344.5 426.25C344.98 428.44 345.93 433.44 346.4 436.25C346.87 439.06 347.86 445.78 348.25 448.75C348.64 451.72 349.19 457.03 349.5 460C349.81 462.97 350.5 470.12 350.75 472.5C351 474.88 351.41 478.19 351.5 479" stroke="#ff0000" stroke-width="2.15"/>
<path d="M102.2 446.9C104.92 446.82 118.15 446.46 124 446.25C129.85 446.04 142.75 445.53 149 445.25C155.25 444.97 167.75 444.38 174 444C180.25 443.62 192.38 442.78 199 442.25C205.62 441.72 221.94 440.34 227 439.75C232.06 439.16 236.38 438.02 239.5 437.5C242.62 436.98 248.88 436.07 252 435.6C255.12 435.13 261.38 434.21 264.5 433.75C267.62 433.29 273.88 432.37 277 431.9C280.12 431.43 286.38 430.48 289.5 430C292.62 429.52 298.88 428.6 302 428.1C305.12 427.6 312 426.51 314.5 426C317 425.49 320.44 424.56 322 424C323.56 423.44 325.75 422.31 327 421.5C328.25 420.69 330.91 418.44 332 417.5C333.09 416.56 334.97 414.55 335.75 414C336.53 413.45 337.62 413.05 338.25 413.1C338.88 413.15 340.21 413.69 340.75 414.4C341.29 415.11 342.13 417.27 342.6 418.75C343.07 420.23 344.02 424.06 344.5 426.25C344.98 428.44 345.93 433.44 346.4 436.25C346.87 439.06 347.86 445.78 348.25 448.75C348.64 451.72 349.19 457.03 349.5 460C349.81 462.97 350.5 470.12 350.75 472.5C351 474.88 351.41 478.19 351.5 479" stroke="#00c000" stroke-width="2.15"/>
<path d="M102.2 460.6C104.92 460.37 118.15 459.38 124 458.75C129.85 458.12 142.75 456.41 149 455.6C155.25 454.79 167.75 453.07 174 452.25C180.25 451.43 192.38 449.91 199 449C205.62 448.09 221.94 445.89 227 445C232.06 444.11 236.38 442.68 239.5 441.9C242.62 441.12 248.88 439.49 252 438.75C255.12 438.01 261.38 436.66 264.5 436C267.62 435.34 273.88 434.09 277 433.5C280.12 432.91 286.38 431.84 289.5 431.25C292.62 430.66 298.88 429.38 302 428.75C305.12 428.12 312 426.84 314.5 426.25C317 425.66 320.44 424.59 322 424C323.56 423.41 325.75 422.31 327 421.5C328.25 420.69 330.91 418.44 332 417.5C333.09 416.56 334.97 414.55 335.75 414C336.53 413.45 337.62 413.05 338.25 413.1C338.88 413.15 340.21 413.69 340.75 414.4C341.29 415.11 342.13 417.27 342.6 418.75C343.07 420.23 344.02 424.06 344.5 426.25C344.98 428.44 345.93 433.44 346.4 436.25C346.87 439.06 347.86 445.78 348.25 448.75C348.64 451.72 349.19 457.03 349.5 460C349.81 462.97 350.5 470.12 350.75 472.5C351 474.88 351.41 478.19 351.5 479" stroke="#0000ff" stroke-width="2.15"/>
<path d="M98.4 485.6C98.88 485.53 99.78 485.42 102.2 485C104.62 484.58 113.85 482.95 117.75 482.25C121.65 481.55 129.49 480.07 133.4 479.4C137.31 478.73 145.1 477.52 149 476.9C152.9 476.27 160.69 475.07 164.6 474.4C168.51 473.72 176.34 472.27 180.25 471.5C184.16 470.73 192.07 469.09 195.9 468.2C199.73 467.31 207.23 465.35 210.9 464.4C214.57 463.45 221.52 461.76 225.25 460.6C228.98 459.44 236.94 456.49 240.75 455.1C244.56 453.71 252 450.75 255.75 449.5C259.5 448.25 267 446.26 270.75 445.1C274.5 443.94 282.47 441.23 285.75 440.2C289.03 439.17 295.59 437.31 297 436.9" stroke="#000000" stroke-width="2.15" stroke-dasharray="8 7.7"/>
<path d="M110.25 462.25C112.67 462.04 125.22 460.99 129.6 460.6C133.97 460.21 141.34 459.49 145.25 459.1C149.16 458.71 156.99 457.9 160.9 457.5C164.81 457.1 172.6 456.32 176.5 455.9C180.4 455.47 188.19 454.58 192.1 454.1C196.01 453.62 203.76 452.66 207.75 452.1C211.74 451.54 220.11 450.3 224 449.6C227.89 448.9 235.12 447.31 238.9 446.5C242.68 445.69 250.43 443.88 254.25 443.1C258.07 442.32 265.72 440.92 269.5 440.25C273.28 439.58 280.75 438.41 284.5 437.75C288.25 437.09 296.81 435.39 299.5 435C302.19 434.61 305.19 434.65 306 434.6" stroke="#ff0000" stroke-width="2.15" stroke-dasharray="8 7.7"/>
<path d="M98.4 481.4C98.88 481.35 99.78 481.25 102.2 481C104.62 480.75 113.85 479.84 117.75 479.4C121.65 478.96 129.49 477.98 133.4 477.5C137.31 477.02 145.1 476.07 149 475.6C152.9 475.13 160.69 474.29 164.6 473.75C168.51 473.21 176.34 471.91 180.25 471.25C184.16 470.59 192.07 469.28 195.9 468.5C199.73 467.72 207.23 465.88 210.9 465C214.57 464.12 221.52 462.59 225.25 461.5C228.98 460.41 236.94 457.61 240.75 456.25C244.56 454.89 252 451.85 255.75 450.6C259.5 449.35 267 447.42 270.75 446.25C274.5 445.08 282.47 442.33 285.75 441.25C289.03 440.17 294.97 438.14 297 437.6C299.03 437.06 300.62 437.06 302 436.9C303.38 436.74 306.44 436.57 308 436.3C309.56 436.03 313.06 435.18 314.5 434.75C315.94 434.32 317.94 433.31 319.5 432.9C321.06 432.49 325.28 432.1 327 431.5C328.72 430.9 332 428.76 333.25 428.1C334.5 427.44 336.22 426.4 337 426.25C337.78 426.1 338.8 426.43 339.5 426.9C340.2 427.37 341.9 428.52 342.6 430C343.3 431.48 344.55 436.25 345.1 438.75C345.65 441.25 346.52 447.03 347 450C347.48 452.97 348.51 459.69 348.9 462.5C349.29 465.31 349.85 470.44 350.1 472.5C350.35 474.56 350.8 478.19 350.9 479" stroke="#0000ff" stroke-width="2.15" stroke-dasharray="8 7.7"/>
</g>
<clipPath id="cp21"><rect x="413.1" y="389.4" width="249.2" height="176.45"/></clipPath>
<g class="c" clip-path="url(#cp21)">
<path d="M413.1 469C415.84 468.76 429.14 467.68 435 467.1C440.86 466.53 453.75 465.17 460 464.4C466.25 463.62 478.75 461.88 485 460.9C491.25 459.92 503.38 457.89 510 456.6C516.62 455.31 532.94 451.79 538 450.6C543.06 449.41 547.38 448.03 550.5 447.1C553.62 446.18 559.88 444.34 563 443.2C566.12 442.06 572.38 439.3 575.5 438C578.62 436.7 584.88 434.08 588 432.8C591.12 431.52 597.38 428.96 600.5 427.75C603.62 426.54 609.88 424.23 613 423.1C616.12 421.98 622.38 419.82 625.5 418.75C628.62 417.68 635.19 415.47 638 414.5C640.81 413.53 646.28 411.8 648 411C649.72 410.2 650.89 408.51 651.75 408.1C652.61 407.69 654.19 407.7 654.9 407.75C655.61 407.8 656.94 408.06 657.4 408.5C657.86 408.94 658.29 409.97 658.6 411.25C658.91 412.53 659.59 416.09 659.9 418.75C660.21 421.41 660.84 429.22 661.1 432.5C661.36 435.78 661.84 442.34 662 445C662.16 447.66 662.32 452.12 662.4 453.75C662.48 455.38 662.58 457.47 662.6 458" stroke="#000000" stroke-width="2.15"/>
<path d="M413.1 459C415.84 458.74 429.14 457.47 435 456.9C440.86 456.32 453.75 455.09 460 454.4C466.25 453.71 478.75 452.19 485 451.4C491.25 450.61 503.38 449.21 510 448.1C516.62 446.99 532.94 443.52 538 442.5C543.06 441.48 547.38 440.54 550.5 439.9C553.62 439.26 559.88 438.24 563 437.4C566.12 436.56 572.38 434.2 575.5 433.2C578.62 432.2 584.88 430.35 588 429.4C591.12 428.45 597.38 426.54 600.5 425.6C603.62 424.66 609.88 422.84 613 421.9C616.12 420.96 622.38 419.06 625.5 418.1C628.62 417.14 635.19 415.09 638 414.2C640.81 413.31 646.28 411.76 648 411C649.72 410.24 650.89 408.51 651.75 408.1C652.61 407.69 654.19 407.7 654.9 407.75C655.61 407.8 656.94 408.06 657.4 408.5C657.86 408.94 658.29 409.97 658.6 411.25C658.91 412.53 659.59 416.09 659.9 418.75C660.21 421.41 660.84 429.22 661.1 432.5C661.36 435.78 661.84 442.34 662 445C662.16 447.66 662.32 452.12 662.4 453.75C662.48 455.38 662.58 457.47 662.6 458" stroke="#ff0000" stroke-width="2.15"/>
<path d="M413.1 435.6C415.84 435.49 429.14 434.98 435 434.75C440.86 434.52 453.75 434.03 460 433.75C466.25 433.47 478.75 432.81 485 432.5C491.25 432.19 503.38 431.62 510 431.25C516.62 430.88 532.94 429.84 538 429.5C543.06 429.16 547.38 428.78 550.5 428.5C553.62 428.22 559.88 427.56 563 427.25C566.12 426.94 572.38 426.36 575.5 426C578.62 425.64 584.88 424.84 588 424.4C591.12 423.96 597.38 423.05 600.5 422.5C603.62 421.95 609.88 420.75 613 420C616.12 419.25 622.38 417.36 625.5 416.5C628.62 415.64 635.19 413.88 638 413.1C640.81 412.32 646.28 410.89 648 410.25C649.72 409.61 650.89 408.31 651.75 408C652.61 407.69 654.19 407.69 654.9 407.75C655.61 407.81 656.94 408.06 657.4 408.5C657.86 408.94 658.29 409.97 658.6 411.25C658.91 412.53 659.59 416.09 659.9 418.75C660.21 421.41 660.84 429.22 661.1 432.5C661.36 435.78 661.84 442.34 662 445C662.16 447.66 662.32 452.12 662.4 453.75C662.48 455.38 662.58 457.47 662.6 458" stroke="#00c000" stroke-width="2.15"/>
<path d="M413.1 479.4C415.84 479.16 429.14 478.05 435 477.5C440.86 476.95 453.75 475.78 460 475C466.25 474.22 478.75 472.26 485 471.25C491.25 470.24 503.38 468.23 510 466.9C516.62 465.57 532.94 461.85 538 460.6C543.06 459.35 547.38 457.88 550.5 456.9C553.62 455.92 559.88 454.16 563 452.8C566.12 451.44 572.38 447.68 575.5 446C578.62 444.32 584.88 441.09 588 439.4C591.12 437.71 597.38 434.14 600.5 432.5C603.62 430.86 609.88 427.81 613 426.25C616.12 424.69 622.38 421.44 625.5 420C628.62 418.56 635.19 415.88 638 414.75C640.81 413.62 646.28 411.83 648 411C649.72 410.17 650.89 408.51 651.75 408.1C652.61 407.69 654.19 407.7 654.9 407.75C655.61 407.8 656.94 408.06 657.4 408.5C657.86 408.94 658.29 409.97 658.6 411.25C658.91 412.53 659.59 416.09 659.9 418.75C660.21 421.41 660.84 429.22 661.1 432.5C661.36 435.78 661.84 442.34 662 445C662.16 447.66 662.32 452.12 662.4 453.75C662.48 455.38 662.58 457.47 662.6 458" stroke="#0000ff" stroke-width="2.15"/>
<path d="M407 513C407.76 512.88 410.69 512.39 413.1 512C415.51 511.61 422.61 510.52 426.25 509.9C429.89 509.27 438.34 507.79 442.25 507C446.16 506.21 453.64 504.44 457.5 503.6C461.36 502.76 469.28 501.11 473.1 500.25C476.93 499.39 484.35 497.69 488.1 496.75C491.85 495.81 499.35 493.92 503.1 492.75C506.85 491.58 514.35 488.86 518.1 487.4C521.85 485.94 530.61 482.15 533.1 481.1C535.59 480.05 536.26 479.84 538 479C539.74 478.16 544.19 475.97 547 474.4C549.81 472.82 557.06 468.32 560.5 466.4C563.94 464.47 571.03 460.89 574.5 459C577.97 457.11 584.97 453.39 588.25 451.25C591.53 449.11 597.62 444.21 600.75 441.9C603.88 439.59 609.97 434.79 613.25 432.75C616.53 430.71 623.67 427.28 627 425.6C630.33 423.92 637.27 420.24 639.9 419.3C642.52 418.36 646.6 418.64 648 418.1C649.4 417.56 650.4 415.54 651.1 415C651.8 414.46 653.05 413.44 653.6 413.75C654.15 414.06 654.88 416.48 655.5 417.5C656.12 418.52 657.98 420.65 658.6 421.9C659.23 423.15 660.11 425.39 660.5 427.5C660.89 429.61 661.51 435.56 661.75 438.75C661.99 441.94 662.29 450.59 662.4 453C662.51 455.41 662.58 457.38 662.6 458" stroke="#000000" stroke-width="2.15" stroke-dasharray="8 7.7"/>
<path d="M408.8 467.4C409.34 467.36 410.69 467.28 413.1 467.1C415.51 466.93 424.27 466.29 428.1 466C431.93 465.71 439.84 465.11 443.75 464.75C447.66 464.39 455.49 463.46 459.4 463.1C463.31 462.74 471.1 462.29 475 461.9C478.9 461.51 486.69 460.48 490.6 460C494.51 459.52 502.34 458.73 506.25 458.1C510.16 457.48 517.93 455.76 521.9 455C525.87 454.24 534.14 452.75 538 452C541.86 451.25 549 449.88 552.75 449C556.5 448.12 564.25 445.94 568 445C571.75 444.06 579.03 442.72 582.75 441.5C586.47 440.28 594.12 436.81 597.75 435.25C601.38 433.69 608.21 430.41 611.75 429C615.29 427.59 622.58 425.25 626.1 424C629.62 422.75 637.16 419.74 639.9 419C642.64 418.26 646.6 418.6 648 418.1C649.4 417.6 650.4 415.54 651.1 415C651.8 414.46 653.05 413.44 653.6 413.75C654.15 414.06 654.88 416.48 655.5 417.5C656.12 418.52 657.98 420.65 658.6 421.9C659.23 423.15 660.11 425.39 660.5 427.5C660.89 429.61 661.51 435.56 661.75 438.75C661.99 441.94 662.29 450.59 662.4 453C662.51 455.41 662.58 457.38 662.6 458" stroke="#ff0000" stroke-width="2.15" stroke-dasharray="8 7.7"/>
<path d="M413.1 532.4C415.53 532.52 428.12 533.25 432.5 533.4C436.88 533.55 444.19 533.73 448.1 533.6C452.01 533.48 459.84 532.71 463.75 532.4C467.66 532.09 475.49 531.41 479.4 531.1C483.31 530.79 491.1 530.32 495 529.9C498.9 529.48 506.69 528.49 510.6 527.75C514.51 527.01 522.83 524.94 526.25 524C529.67 523.06 534.5 521.92 538 520.25C541.5 518.58 550.53 512.89 554.25 510.6C557.97 508.31 564.54 504.24 567.75 501.9C570.96 499.56 577.02 494.51 579.9 491.9C582.77 489.29 588.49 483.5 590.75 481C593.01 478.5 596.34 473.96 598 471.9C599.66 469.84 602.47 466.49 604 464.5C605.53 462.51 608.22 458.59 610.25 456C612.28 453.41 617.88 446.93 620.25 443.75C622.62 440.57 626.72 433.41 629.25 430.6C631.78 427.79 638.16 422.81 640.5 421.25C642.84 419.69 646.67 418.88 648 418.1C649.33 417.32 650.4 415.54 651.1 415C651.8 414.46 653.05 413.44 653.6 413.75C654.15 414.06 654.88 416.48 655.5 417.5C656.12 418.52 657.98 420.65 658.6 421.9C659.23 423.15 660.11 425.39 660.5 427.5C660.89 429.61 661.51 435.56 661.75 438.75C661.99 441.94 662.29 450.59 662.4 453C662.51 455.41 662.58 457.38 662.6 458" stroke="#0000ff" stroke-width="2.15" stroke-dasharray="8 7.7"/>
</g>
<clipPath id="cp22"><rect x="723.85" y="389.4" width="249.2" height="176.45"/></clipPath>
<g class="c" clip-path="url(#cp22)">
<path d="M723.85 477.5C726.62 477.34 740.11 476.72 746 476.25C751.89 475.78 764.75 474.46 771 473.75C777.25 473.04 789.75 471.54 796 470.6C802.25 469.66 814.38 467.56 821 466.25C827.62 464.94 843.94 461.33 849 460.1C854.06 458.87 858.38 457.41 861.5 456.4C864.62 455.39 870.88 453.1 874 452C877.12 450.9 883.38 448.85 886.5 447.6C889.62 446.35 896.66 443.09 899 442C901.34 440.91 903.69 439.84 905.25 438.9C906.81 437.96 909.78 435.68 911.5 434.5C913.22 433.32 916.81 430.75 919 429.5C921.19 428.25 926.81 425.78 929 424.5C931.19 423.22 934.62 420.57 936.5 419.25C938.38 417.93 942.12 415.19 944 413.9C945.88 412.61 949.78 409.95 951.5 408.9C953.22 407.85 956.36 406.19 957.75 405.5C959.14 404.81 961.99 403.66 962.6 403.4" stroke="#000000" stroke-width="2.15"/>
<path d="M723.85 461C726.62 460.75 740.11 459.59 746 459C751.89 458.41 764.75 456.94 771 456.25C777.25 455.56 789.75 454.28 796 453.5C802.25 452.72 814.38 450.96 821 450C827.62 449.04 843.94 446.64 849 445.8C854.06 444.96 858.38 443.96 861.5 443.25C864.62 442.54 870.88 440.88 874 440.1C877.12 439.32 883.38 437.89 886.5 437C889.62 436.11 896.66 433.78 899 433C901.34 432.22 903.69 431.43 905.25 430.75C906.81 430.07 909.78 428.38 911.5 427.6C913.22 426.82 916.81 425.36 919 424.5C921.19 423.64 926.81 421.76 929 420.75C931.19 419.74 934.62 417.49 936.5 416.4C938.38 415.31 942.12 413.02 944 412C945.88 410.98 949.78 409.11 951.5 408.25C953.22 407.39 956.36 405.76 957.75 405.1C959.14 404.44 961.76 403.39 962.6 403C963.44 402.61 964.26 402.12 964.5 402" stroke="#ff0000" stroke-width="2.15"/>
<path d="M723.85 434.4C726.62 434.29 741.67 433.71 746 433.5C750.33 433.29 754.59 433 758.5 432.75C762.41 432.5 772.56 431.84 777.25 431.5C781.94 431.16 791.62 430.43 796 430C800.38 429.57 809.44 428.26 812.25 428.1C815.06 427.94 815.84 428.9 818.5 428.75C821.16 428.6 829.69 427.28 833.5 426.9C837.31 426.52 845.5 426.24 849 425.7C852.5 425.16 858.38 423.22 861.5 422.6C864.62 421.98 870.88 421.14 874 420.75C877.12 420.36 884 419.84 886.5 419.5C889 419.16 892.12 418.24 894 418C895.88 417.76 899.62 417.96 901.5 417.6C903.38 417.24 907.12 415.73 909 415.1C910.88 414.48 914.62 412.99 916.5 412.6C918.38 412.21 921.5 412.26 924 412C926.5 411.74 934.16 410.89 936.5 410.5C938.84 410.11 941.19 409.41 942.75 408.9C944.31 408.39 947.28 407.07 949 406.4C950.72 405.72 954.8 403.95 956.5 403.5C958.2 403.05 961.84 402.89 962.6 402.8" stroke="#00c000" stroke-width="2.15"/>
<path d="M723.85 492.75C726.62 492.59 740.89 491.86 746 491.5C751.11 491.14 760.06 490.15 764.75 489.9C769.44 489.65 778.03 489.71 783.5 489.5C788.97 489.29 803.81 488.62 808.5 488.25C813.19 487.88 817.88 486.97 821 486.5C824.12 486.03 830 485.06 833.5 484.5C837 483.94 845.5 482.62 849 482C852.5 481.38 858.38 480.28 861.5 479.5C864.62 478.72 870.88 476.93 874 475.75C877.12 474.57 883.69 471.51 886.5 470.1C889.31 468.69 894.16 465.75 896.5 464.5C898.84 463.25 903.06 461.51 905.25 460.1C907.44 458.69 911.66 455.04 914 453.25C916.34 451.46 921.97 447.47 924 445.75C926.03 444.03 928.69 441.22 930.25 439.5C931.81 437.78 934.94 433.88 936.5 432C938.06 430.12 941.19 426.3 942.75 424.5C944.31 422.7 947.44 419.32 949 417.6C950.56 415.88 953.69 412.31 955.25 410.75C956.81 409.19 960.25 406.19 961.5 405.1C962.75 404.01 964.47 402.73 965.25 402C966.03 401.27 967.28 399.32 967.75 399.3C968.22 399.28 968.69 401.65 969 401.8C969.31 401.95 969.93 400.41 970.2 400.5C970.48 400.59 970.95 401.69 971.2 402.5C971.45 403.31 972 405.31 972.2 407C972.4 408.69 972.7 414 972.8 416C972.9 418 972.96 421.5 973 423C973.04 424.5 973.09 427.38 973.1 428" stroke="#0000ff" stroke-width="2.15"/>
<path d="M720 530.2C720.48 530.24 722.16 530.39 723.85 530.5C725.54 530.61 730.73 531.18 733.5 531.1C736.27 531.02 742.25 530.32 746 529.9C749.75 529.48 759.44 528.11 763.5 527.75C767.56 527.39 774.44 527.21 778.5 527C782.56 526.79 791.94 526.36 796 526.1C800.06 525.84 807.09 525.21 811 524.9C814.91 524.59 823.66 524.08 827.25 523.6C830.84 523.12 837.41 521.8 839.75 521.1C842.09 520.4 844.84 518.54 846 518C847.16 517.46 847.69 517.47 849 516.75C850.31 516.03 854.08 514.04 856.5 512.25C858.92 510.46 865.43 504.96 868.4 502.4C871.37 499.84 877.33 494.33 880.25 491.75C883.17 489.17 888.81 484.29 891.75 481.75C894.69 479.21 902.06 473.06 903.75 471.4C905.44 469.74 904.16 470.11 905.25 468.5C906.34 466.89 910.34 461.34 912.5 458.5C914.66 455.66 919.84 448.47 922.5 445.75C925.16 443.03 931.19 439.53 933.75 436.75C936.31 433.97 940.97 426.34 943 423.5C945.03 420.66 948.38 416 950 414C951.62 412 954.5 408.77 956 407.5C957.5 406.23 961.25 404.26 962 403.8" stroke="#000000" stroke-width="2.15" stroke-dasharray="8 7.7"/>
<path d="M729.75 470.3C730.22 470.26 731.08 470.23 733.5 470C735.92 469.77 745.19 469.07 749.1 468.5C753.01 467.93 760.84 465.95 764.75 465.4C768.66 464.85 776.49 464.41 780.4 464.1C784.31 463.79 792.1 463.22 796 462.9C799.9 462.57 807.69 461.99 811.6 461.5C815.51 461.01 823.34 459.62 827.25 459C831.16 458.38 839.09 457.25 842.9 456.5C846.71 455.75 854.02 454.06 857.75 453C861.48 451.94 869 448.78 872.75 448C876.5 447.22 884 447.16 887.75 446.75C891.5 446.34 899.31 446.12 902.75 444.75C906.19 443.38 911.94 437.66 915.25 435.75C918.56 433.84 925.97 431.46 929.25 429.5C932.53 427.54 938.56 422.32 941.5 420.1C944.44 417.88 950.69 413.39 952.75 411.75C954.81 410.11 956.78 407.83 958 407C959.22 406.17 961.65 405.83 962.5 405.1C963.35 404.38 964.51 401.69 964.8 401.2" stroke="#ff0000" stroke-width="2.15" stroke-dasharray="8 7.7"/>
<path d="M721 525C721.36 525.14 722.91 525.73 723.85 526.1C724.79 526.48 727.29 527.69 728.5 528C729.71 528.31 731.31 528.6 733.5 528.6C735.69 528.6 743.03 528.23 746 528C748.97 527.77 755.14 526.56 757.25 526.75C759.36 526.94 761.18 529.22 762.9 529.5C764.62 529.78 769.05 529.19 771 529C772.95 528.81 776.31 528.12 778.5 528C780.69 527.88 786.55 528 788.5 528C790.45 528 792.38 527.66 794.1 528C795.82 528.34 800.29 530.36 802.25 530.75C804.21 531.14 807.72 530.74 809.75 531.1C811.78 531.46 816.31 532.89 818.5 533.6C820.69 534.31 825.03 536.21 827.25 536.75C829.47 537.29 834.16 537.52 836.25 537.9C838.34 538.27 842.09 539.55 844 539.75C845.91 539.95 849.62 539.23 851.5 539.5C853.38 539.77 857.16 541.68 859 541.9C860.84 542.12 864.38 541.52 866.25 541.25C868.12 540.98 872.12 539.67 874 539.75C875.88 539.83 879.38 541.37 881.25 541.9C883.12 542.43 887.02 543.54 889 544C890.98 544.46 895.38 545.48 897.1 545.6C898.82 545.73 901.29 546.01 902.75 545C904.21 543.99 906.72 539.94 908.75 537.5C910.78 535.06 916.47 528.45 919 525.5C921.53 522.55 926.84 517.15 929 513.9C931.16 510.65 934.76 503.14 936.25 499.5C937.74 495.86 939.72 488.5 940.9 484.75C942.08 481 944.61 473.28 945.7 469.5C946.79 465.72 948.64 458.28 949.6 454.5C950.56 450.72 952.38 443 953.4 439.25C954.42 435.5 956.58 428.22 957.75 424.5C958.92 420.78 961.78 412 962.75 409.5C963.72 407 964.94 405.38 965.5 404.5C966.06 403.62 966.85 402.38 967.2 402.5C967.55 402.62 968.01 405.62 968.3 405.5C968.59 405.38 969.19 401.69 969.5 401.5C969.81 401.31 970.49 402.94 970.8 404C971.11 405.06 971.76 408.25 972 410C972.24 411.75 972.58 416.25 972.7 418C972.83 419.75 972.95 422.75 973 424C973.05 425.25 973.09 427.5 973.1 428" stroke="#0000ff" stroke-width="2.15" stroke-dasharray="8 7.7"/>
</g>
<rect x="102.2" y="23.9" width="249.4" height="176.35" fill="none" stroke="#000" stroke-width="1.65" stroke-linejoin="round"/>
<rect x="413.1" y="23.9" width="249.2" height="176.35" fill="none" stroke="#000" stroke-width="1.65" stroke-linejoin="round"/>
<rect x="723.85" y="23.9" width="249.2" height="176.35" fill="none" stroke="#000" stroke-width="1.65" stroke-linejoin="round"/>
<rect x="102.2" y="206.65" width="249.4" height="176.52" fill="none" stroke="#000" stroke-width="1.65" stroke-linejoin="round"/>
<rect x="413.1" y="206.65" width="249.2" height="176.52" fill="none" stroke="#000" stroke-width="1.65" stroke-linejoin="round"/>
<rect x="723.85" y="206.65" width="249.2" height="176.52" fill="none" stroke="#000" stroke-width="1.65" stroke-linejoin="round"/>
<rect x="102.2" y="389.4" width="249.4" height="176.45" fill="none" stroke="#000" stroke-width="1.65" stroke-linejoin="round"/>
<rect x="413.1" y="389.4" width="249.2" height="176.45" fill="none" stroke="#000" stroke-width="1.65" stroke-linejoin="round"/>
<rect x="723.85" y="389.4" width="249.2" height="176.45" fill="none" stroke="#000" stroke-width="1.65" stroke-linejoin="round"/>
<path d="M111.79 200.25v-1.9M111.79 23.9v1.9M121.38 200.25v-1.9M121.38 23.9v1.9M130.98 200.25v-1.9M130.98 23.9v1.9M140.57 200.25v-3.6M140.57 23.9v3.6M150.16 200.25v-1.9M150.16 23.9v1.9M159.75 200.25v-1.9M159.75 23.9v1.9M169.35 200.25v-1.9M169.35 23.9v1.9M178.94 200.25v-3.6M178.94 23.9v3.6M188.53 200.25v-1.9M188.53 23.9v1.9M198.12 200.25v-1.9M198.12 23.9v1.9M207.72 200.25v-1.9M207.72 23.9v1.9M217.31 200.25v-3.6M217.31 23.9v3.6M226.9 200.25v-1.9M226.9 23.9v1.9M236.49 200.25v-1.9M236.49 23.9v1.9M246.08 200.25v-1.9M246.08 23.9v1.9M255.68 200.25v-3.6M255.68 23.9v3.6M265.27 200.25v-1.9M265.27 23.9v1.9M274.86 200.25v-1.9M274.86 23.9v1.9M284.45 200.25v-1.9M284.45 23.9v1.9M294.05 200.25v-3.6M294.05 23.9v3.6M303.64 200.25v-1.9M303.64 23.9v1.9M313.23 200.25v-1.9M313.23 23.9v1.9M322.82 200.25v-1.9M322.82 23.9v1.9M332.42 200.25v-3.6M332.42 23.9v3.6M342.01 200.25v-1.9M342.01 23.9v1.9M102.2 185.9h2.6M351.6 185.9h-2.6M102.2 177.5h2.6M351.6 177.5h-2.6M102.2 171.55h2.6M351.6 171.55h-2.6M102.2 166.93h2.6M351.6 166.93h-2.6M102.2 163.15h2.6M351.6 163.15h-2.6M102.2 159.96h2.6M351.6 159.96h-2.6M102.2 157.19h2.6M351.6 157.19h-2.6M102.2 154.76h2.6M351.6 154.76h-2.6M102.2 152.57h5M351.6 152.57h-5M102.2 138.22h2.6M351.6 138.22h-2.6M102.2 129.83h2.6M351.6 129.83h-2.6M102.2 123.87h2.6M351.6 123.87h-2.6M102.2 119.25h2.6M351.6 119.25h-2.6M102.2 115.48h2.6M351.6 115.48h-2.6M102.2 112.28h2.6M351.6 112.28h-2.6M102.2 109.52h2.6M351.6 109.52h-2.6M102.2 107.08h2.6M351.6 107.08h-2.6M102.2 104.9h5M351.6 104.9h-5M102.2 90.55h2.6M351.6 90.55h-2.6M102.2 82.15h2.6M351.6 82.15h-2.6M102.2 76.2h2.6M351.6 76.2h-2.6M102.2 71.58h2.6M351.6 71.58h-2.6M102.2 67.8h2.6M351.6 67.8h-2.6M102.2 64.61h2.6M351.6 64.61h-2.6M102.2 61.84h2.6M351.6 61.84h-2.6M102.2 59.41h2.6M351.6 59.41h-2.6M102.2 57.22h5M351.6 57.22h-5M102.2 42.87h2.6M351.6 42.87h-2.6M102.2 34.48h2.6M351.6 34.48h-2.6M102.2 28.52h2.6M351.6 28.52h-2.6M422.68 200.25v-1.9M422.68 23.9v1.9M432.27 200.25v-1.9M432.27 23.9v1.9M441.85 200.25v-1.9M441.85 23.9v1.9M451.44 200.25v-3.6M451.44 23.9v3.6M461.02 200.25v-1.9M461.02 23.9v1.9M470.61 200.25v-1.9M470.61 23.9v1.9M480.19 200.25v-1.9M480.19 23.9v1.9M489.78 200.25v-3.6M489.78 23.9v3.6M499.36 200.25v-1.9M499.36 23.9v1.9M508.95 200.25v-1.9M508.95 23.9v1.9M518.53 200.25v-1.9M518.53 23.9v1.9M528.12 200.25v-3.6M528.12 23.9v3.6M537.7 200.25v-1.9M537.7 23.9v1.9M547.28 200.25v-1.9M547.28 23.9v1.9M556.87 200.25v-1.9M556.87 23.9v1.9M566.45 200.25v-3.6M566.45 23.9v3.6M576.04 200.25v-1.9M576.04 23.9v1.9M585.62 200.25v-1.9M585.62 23.9v1.9M595.21 200.25v-1.9M595.21 23.9v1.9M604.79 200.25v-3.6M604.79 23.9v3.6M614.38 200.25v-1.9M614.38 23.9v1.9M623.96 200.25v-1.9M623.96 23.9v1.9M633.55 200.25v-1.9M633.55 23.9v1.9M643.13 200.25v-3.6M643.13 23.9v3.6M652.72 200.25v-1.9M652.72 23.9v1.9M413.1 185.9h2.6M662.3 185.9h-2.6M413.1 177.5h2.6M662.3 177.5h-2.6M413.1 171.55h2.6M662.3 171.55h-2.6M413.1 166.93h2.6M662.3 166.93h-2.6M413.1 163.15h2.6M662.3 163.15h-2.6M413.1 159.96h2.6M662.3 159.96h-2.6M413.1 157.19h2.6M662.3 157.19h-2.6M413.1 154.76h2.6M662.3 154.76h-2.6M413.1 152.57h5M662.3 152.57h-5M413.1 138.22h2.6M662.3 138.22h-2.6M413.1 129.83h2.6M662.3 129.83h-2.6M413.1 123.87h2.6M662.3 123.87h-2.6M413.1 119.25h2.6M662.3 119.25h-2.6M413.1 115.48h2.6M662.3 115.48h-2.6M413.1 112.28h2.6M662.3 112.28h-2.6M413.1 109.52h2.6M662.3 109.52h-2.6M413.1 107.08h2.6M662.3 107.08h-2.6M413.1 104.9h5M662.3 104.9h-5M413.1 90.55h2.6M662.3 90.55h-2.6M413.1 82.15h2.6M662.3 82.15h-2.6M413.1 76.2h2.6M662.3 76.2h-2.6M413.1 71.58h2.6M662.3 71.58h-2.6M413.1 67.8h2.6M662.3 67.8h-2.6M413.1 64.61h2.6M662.3 64.61h-2.6M413.1 61.84h2.6M662.3 61.84h-2.6M413.1 59.41h2.6M662.3 59.41h-2.6M413.1 57.22h5M662.3 57.22h-5M413.1 42.87h2.6M662.3 42.87h-2.6M413.1 34.48h2.6M662.3 34.48h-2.6M413.1 28.52h2.6M662.3 28.52h-2.6M733.43 200.25v-1.9M733.43 23.9v1.9M743.02 200.25v-1.9M743.02 23.9v1.9M752.6 200.25v-1.9M752.6 23.9v1.9M762.19 200.25v-3.6M762.19 23.9v3.6M771.77 200.25v-1.9M771.77 23.9v1.9M781.36 200.25v-1.9M781.36 23.9v1.9M790.94 200.25v-1.9M790.94 23.9v1.9M800.53 200.25v-3.6M800.53 23.9v3.6M810.11 200.25v-1.9M810.11 23.9v1.9M819.7 200.25v-1.9M819.7 23.9v1.9M829.28 200.25v-1.9M829.28 23.9v1.9M838.87 200.25v-3.6M838.87 23.9v3.6M848.45 200.25v-1.9M848.45 23.9v1.9M858.03 200.25v-1.9M858.03 23.9v1.9M867.62 200.25v-1.9M867.62 23.9v1.9M877.2 200.25v-3.6M877.2 23.9v3.6M886.79 200.25v-1.9M886.79 23.9v1.9M896.37 200.25v-1.9M896.37 23.9v1.9M905.96 200.25v-1.9M905.96 23.9v1.9M915.54 200.25v-3.6M915.54 23.9v3.6M925.13 200.25v-1.9M925.13 23.9v1.9M934.71 200.25v-1.9M934.71 23.9v1.9M944.3 200.25v-1.9M944.3 23.9v1.9M953.88 200.25v-3.6M953.88 23.9v3.6M963.47 200.25v-1.9M963.47 23.9v1.9M723.85 185.9h2.6M973.05 185.9h-2.6M723.85 177.5h2.6M973.05 177.5h-2.6M723.85 171.55h2.6M973.05 171.55h-2.6M723.85 166.93h2.6M973.05 166.93h-2.6M723.85 163.15h2.6M973.05 163.15h-2.6M723.85 159.96h2.6M973.05 159.96h-2.6M723.85 157.19h2.6M973.05 157.19h-2.6M723.85 154.76h2.6M973.05 154.76h-2.6M723.85 152.57h5M973.05 152.57h-5M723.85 138.22h2.6M973.05 138.22h-2.6M723.85 129.83h2.6M973.05 129.83h-2.6M723.85 123.87h2.6M973.05 123.87h-2.6M723.85 119.25h2.6M973.05 119.25h-2.6M723.85 115.48h2.6M973.05 115.48h-2.6M723.85 112.28h2.6M973.05 112.28h-2.6M723.85 109.52h2.6M973.05 109.52h-2.6M723.85 107.08h2.6M973.05 107.08h-2.6M723.85 104.9h5M973.05 104.9h-5M723.85 90.55h2.6M973.05 90.55h-2.6M723.85 82.15h2.6M973.05 82.15h-2.6M723.85 76.2h2.6M973.05 76.2h-2.6M723.85 71.58h2.6M973.05 71.58h-2.6M723.85 67.8h2.6M973.05 67.8h-2.6M723.85 64.61h2.6M973.05 64.61h-2.6M723.85 61.84h2.6M973.05 61.84h-2.6M723.85 59.41h2.6M973.05 59.41h-2.6M723.85 57.22h5M973.05 57.22h-5M723.85 42.87h2.6M973.05 42.87h-2.6M723.85 34.48h2.6M973.05 34.48h-2.6M723.85 28.52h2.6M973.05 28.52h-2.6M111.79 383.17v-1.9M111.79 206.65v1.9M121.38 383.17v-1.9M121.38 206.65v1.9M130.98 383.17v-1.9M130.98 206.65v1.9M140.57 383.17v-3.6M140.57 206.65v3.6M150.16 383.17v-1.9M150.16 206.65v1.9M159.75 383.17v-1.9M159.75 206.65v1.9M169.35 383.17v-1.9M169.35 206.65v1.9M178.94 383.17v-3.6M178.94 206.65v3.6M188.53 383.17v-1.9M188.53 206.65v1.9M198.12 383.17v-1.9M198.12 206.65v1.9M207.72 383.17v-1.9M207.72 206.65v1.9M217.31 383.17v-3.6M217.31 206.65v3.6M226.9 383.17v-1.9M226.9 206.65v1.9M236.49 383.17v-1.9M236.49 206.65v1.9M246.08 383.17v-1.9M246.08 206.65v1.9M255.68 383.17v-3.6M255.68 206.65v3.6M265.27 383.17v-1.9M265.27 206.65v1.9M274.86 383.17v-1.9M274.86 206.65v1.9M284.45 383.17v-1.9M284.45 206.65v1.9M294.05 383.17v-3.6M294.05 206.65v3.6M303.64 383.17v-1.9M303.64 206.65v1.9M313.23 383.17v-1.9M313.23 206.65v1.9M322.82 383.17v-1.9M322.82 206.65v1.9M332.42 383.17v-3.6M332.42 206.65v3.6M342.01 383.17v-1.9M342.01 206.65v1.9M102.2 375.15h2.6M351.6 375.15h-2.6M102.2 367.12h2.6M351.6 367.12h-2.6M102.2 359.1h2.6M351.6 359.1h-2.6M102.2 351.08h5M351.6 351.08h-5M102.2 343.05h2.6M351.6 343.05h-2.6M102.2 335.03h2.6M351.6 335.03h-2.6M102.2 327h2.6M351.6 327h-2.6M102.2 318.98h5M351.6 318.98h-5M102.2 310.96h2.6M351.6 310.96h-2.6M102.2 302.93h2.6M351.6 302.93h-2.6M102.2 294.91h2.6M351.6 294.91h-2.6M102.2 286.89h5M351.6 286.89h-5M102.2 278.86h2.6M351.6 278.86h-2.6M102.2 270.84h2.6M351.6 270.84h-2.6M102.2 262.82h2.6M351.6 262.82h-2.6M102.2 254.79h5M351.6 254.79h-5M102.2 246.77h2.6M351.6 246.77h-2.6M102.2 238.74h2.6M351.6 238.74h-2.6M102.2 230.72h2.6M351.6 230.72h-2.6M102.2 222.7h5M351.6 222.7h-5M102.2 214.67h2.6M351.6 214.67h-2.6M422.68 383.17v-1.9M422.68 206.65v1.9M432.27 383.17v-1.9M432.27 206.65v1.9M441.85 383.17v-1.9M441.85 206.65v1.9M451.44 383.17v-3.6M451.44 206.65v3.6M461.02 383.17v-1.9M461.02 206.65v1.9M470.61 383.17v-1.9M470.61 206.65v1.9M480.19 383.17v-1.9M480.19 206.65v1.9M489.78 383.17v-3.6M489.78 206.65v3.6M499.36 383.17v-1.9M499.36 206.65v1.9M508.95 383.17v-1.9M508.95 206.65v1.9M518.53 383.17v-1.9M518.53 206.65v1.9M528.12 383.17v-3.6M528.12 206.65v3.6M537.7 383.17v-1.9M537.7 206.65v1.9M547.28 383.17v-1.9M547.28 206.65v1.9M556.87 383.17v-1.9M556.87 206.65v1.9M566.45 383.17v-3.6M566.45 206.65v3.6M576.04 383.17v-1.9M576.04 206.65v1.9M585.62 383.17v-1.9M585.62 206.65v1.9M595.21 383.17v-1.9M595.21 206.65v1.9M604.79 383.17v-3.6M604.79 206.65v3.6M614.38 383.17v-1.9M614.38 206.65v1.9M623.96 383.17v-1.9M623.96 206.65v1.9M633.55 383.17v-1.9M633.55 206.65v1.9M643.13 383.17v-3.6M643.13 206.65v3.6M652.72 383.17v-1.9M652.72 206.65v1.9M413.1 375.15h2.6M662.3 375.15h-2.6M413.1 367.12h2.6M662.3 367.12h-2.6M413.1 359.1h2.6M662.3 359.1h-2.6M413.1 351.08h5M662.3 351.08h-5M413.1 343.05h2.6M662.3 343.05h-2.6M413.1 335.03h2.6M662.3 335.03h-2.6M413.1 327h2.6M662.3 327h-2.6M413.1 318.98h5M662.3 318.98h-5M413.1 310.96h2.6M662.3 310.96h-2.6M413.1 302.93h2.6M662.3 302.93h-2.6M413.1 294.91h2.6M662.3 294.91h-2.6M413.1 286.89h5M662.3 286.89h-5M413.1 278.86h2.6M662.3 278.86h-2.6M413.1 270.84h2.6M662.3 270.84h-2.6M413.1 262.82h2.6M662.3 262.82h-2.6M413.1 254.79h5M662.3 254.79h-5M413.1 246.77h2.6M662.3 246.77h-2.6M413.1 238.74h2.6M662.3 238.74h-2.6M413.1 230.72h2.6M662.3 230.72h-2.6M413.1 222.7h5M662.3 222.7h-5M413.1 214.67h2.6M662.3 214.67h-2.6M733.43 383.17v-1.9M733.43 206.65v1.9M743.02 383.17v-1.9M743.02 206.65v1.9M752.6 383.17v-1.9M752.6 206.65v1.9M762.19 383.17v-3.6M762.19 206.65v3.6M771.77 383.17v-1.9M771.77 206.65v1.9M781.36 383.17v-1.9M781.36 206.65v1.9M790.94 383.17v-1.9M790.94 206.65v1.9M800.53 383.17v-3.6M800.53 206.65v3.6M810.11 383.17v-1.9M810.11 206.65v1.9M819.7 383.17v-1.9M819.7 206.65v1.9M829.28 383.17v-1.9M829.28 206.65v1.9M838.87 383.17v-3.6M838.87 206.65v3.6M848.45 383.17v-1.9M848.45 206.65v1.9M858.03 383.17v-1.9M858.03 206.65v1.9M867.62 383.17v-1.9M867.62 206.65v1.9M877.2 383.17v-3.6M877.2 206.65v3.6M886.79 383.17v-1.9M886.79 206.65v1.9M896.37 383.17v-1.9M896.37 206.65v1.9M905.96 383.17v-1.9M905.96 206.65v1.9M915.54 383.17v-3.6M915.54 206.65v3.6M925.13 383.17v-1.9M925.13 206.65v1.9M934.71 383.17v-1.9M934.71 206.65v1.9M944.3 383.17v-1.9M944.3 206.65v1.9M953.88 383.17v-3.6M953.88 206.65v3.6M963.47 383.17v-1.9M963.47 206.65v1.9M723.85 375.15h2.6M973.05 375.15h-2.6M723.85 367.12h2.6M973.05 367.12h-2.6M723.85 359.1h2.6M973.05 359.1h-2.6M723.85 351.08h5M973.05 351.08h-5M723.85 343.05h2.6M973.05 343.05h-2.6M723.85 335.03h2.6M973.05 335.03h-2.6M723.85 327h2.6M973.05 327h-2.6M723.85 318.98h5M973.05 318.98h-5M723.85 310.96h2.6M973.05 310.96h-2.6M723.85 302.93h2.6M973.05 302.93h-2.6M723.85 294.91h2.6M973.05 294.91h-2.6M723.85 286.89h5M973.05 286.89h-5M723.85 278.86h2.6M973.05 278.86h-2.6M723.85 270.84h2.6M973.05 270.84h-2.6M723.85 262.82h2.6M973.05 262.82h-2.6M723.85 254.79h5M973.05 254.79h-5M723.85 246.77h2.6M973.05 246.77h-2.6M723.85 238.74h2.6M973.05 238.74h-2.6M723.85 230.72h2.6M973.05 230.72h-2.6M723.85 222.7h5M973.05 222.7h-5M723.85 214.67h2.6M973.05 214.67h-2.6M111.79 565.85v-1.9M111.79 389.4v1.9M121.38 565.85v-1.9M121.38 389.4v1.9M130.98 565.85v-1.9M130.98 389.4v1.9M140.57 565.85v-3.6M140.57 389.4v3.6M150.16 565.85v-1.9M150.16 389.4v1.9M159.75 565.85v-1.9M159.75 389.4v1.9M169.35 565.85v-1.9M169.35 389.4v1.9M178.94 565.85v-3.6M178.94 389.4v3.6M188.53 565.85v-1.9M188.53 389.4v1.9M198.12 565.85v-1.9M198.12 389.4v1.9M207.72 565.85v-1.9M207.72 389.4v1.9M217.31 565.85v-3.6M217.31 389.4v3.6M226.9 565.85v-1.9M226.9 389.4v1.9M236.49 565.85v-1.9M236.49 389.4v1.9M246.08 565.85v-1.9M246.08 389.4v1.9M255.68 565.85v-3.6M255.68 389.4v3.6M265.27 565.85v-1.9M265.27 389.4v1.9M274.86 565.85v-1.9M274.86 389.4v1.9M284.45 565.85v-1.9M284.45 389.4v1.9M294.05 565.85v-3.6M294.05 389.4v3.6M303.64 565.85v-1.9M303.64 389.4v1.9M313.23 565.85v-1.9M313.23 389.4v1.9M322.82 565.85v-1.9M322.82 389.4v1.9M332.42 565.85v-3.6M332.42 389.4v3.6M342.01 565.85v-1.9M342.01 389.4v1.9M102.2 554.09h2.6M351.6 554.09h-2.6M102.2 542.32h2.6M351.6 542.32h-2.6M102.2 530.56h5M351.6 530.56h-5M102.2 518.8h2.6M351.6 518.8h-2.6M102.2 507.03h2.6M351.6 507.03h-2.6M102.2 495.27h2.6M351.6 495.27h-2.6M102.2 483.51h5M351.6 483.51h-5M102.2 471.74h2.6M351.6 471.74h-2.6M102.2 459.98h2.6M351.6 459.98h-2.6M102.2 448.22h2.6M351.6 448.22h-2.6M102.2 436.45h5M351.6 436.45h-5M102.2 424.69h2.6M351.6 424.69h-2.6M102.2 412.93h2.6M351.6 412.93h-2.6M102.2 401.16h2.6M351.6 401.16h-2.6M422.68 565.85v-1.9M422.68 389.4v1.9M432.27 565.85v-1.9M432.27 389.4v1.9M441.85 565.85v-1.9M441.85 389.4v1.9M451.44 565.85v-3.6M451.44 389.4v3.6M461.02 565.85v-1.9M461.02 389.4v1.9M470.61 565.85v-1.9M470.61 389.4v1.9M480.19 565.85v-1.9M480.19 389.4v1.9M489.78 565.85v-3.6M489.78 389.4v3.6M499.36 565.85v-1.9M499.36 389.4v1.9M508.95 565.85v-1.9M508.95 389.4v1.9M518.53 565.85v-1.9M518.53 389.4v1.9M528.12 565.85v-3.6M528.12 389.4v3.6M537.7 565.85v-1.9M537.7 389.4v1.9M547.28 565.85v-1.9M547.28 389.4v1.9M556.87 565.85v-1.9M556.87 389.4v1.9M566.45 565.85v-3.6M566.45 389.4v3.6M576.04 565.85v-1.9M576.04 389.4v1.9M585.62 565.85v-1.9M585.62 389.4v1.9M595.21 565.85v-1.9M595.21 389.4v1.9M604.79 565.85v-3.6M604.79 389.4v3.6M614.38 565.85v-1.9M614.38 389.4v1.9M623.96 565.85v-1.9M623.96 389.4v1.9M633.55 565.85v-1.9M633.55 389.4v1.9M643.13 565.85v-3.6M643.13 389.4v3.6M652.72 565.85v-1.9M652.72 389.4v1.9M413.1 554.09h2.6M662.3 554.09h-2.6M413.1 542.32h2.6M662.3 542.32h-2.6M413.1 530.56h5M662.3 530.56h-5M413.1 518.8h2.6M662.3 518.8h-2.6M413.1 507.03h2.6M662.3 507.03h-2.6M413.1 495.27h2.6M662.3 495.27h-2.6M413.1 483.51h5M662.3 483.51h-5M413.1 471.74h2.6M662.3 471.74h-2.6M413.1 459.98h2.6M662.3 459.98h-2.6M413.1 448.22h2.6M662.3 448.22h-2.6M413.1 436.45h5M662.3 436.45h-5M413.1 424.69h2.6M662.3 424.69h-2.6M413.1 412.93h2.6M662.3 412.93h-2.6M413.1 401.16h2.6M662.3 401.16h-2.6M733.43 565.85v-1.9M733.43 389.4v1.9M743.02 565.85v-1.9M743.02 389.4v1.9M752.6 565.85v-1.9M752.6 389.4v1.9M762.19 565.85v-3.6M762.19 389.4v3.6M771.77 565.85v-1.9M771.77 389.4v1.9M781.36 565.85v-1.9M781.36 389.4v1.9M790.94 565.85v-1.9M790.94 389.4v1.9M800.53 565.85v-3.6M800.53 389.4v3.6M810.11 565.85v-1.9M810.11 389.4v1.9M819.7 565.85v-1.9M819.7 389.4v1.9M829.28 565.85v-1.9M829.28 389.4v1.9M838.87 565.85v-3.6M838.87 389.4v3.6M848.45 565.85v-1.9M848.45 389.4v1.9M858.03 565.85v-1.9M858.03 389.4v1.9M867.62 565.85v-1.9M867.62 389.4v1.9M877.2 565.85v-3.6M877.2 389.4v3.6M886.79 565.85v-1.9M886.79 389.4v1.9M896.37 565.85v-1.9M896.37 389.4v1.9M905.96 565.85v-1.9M905.96 389.4v1.9M915.54 565.85v-3.6M915.54 389.4v3.6M925.13 565.85v-1.9M925.13 389.4v1.9M934.71 565.85v-1.9M934.71 389.4v1.9M944.3 565.85v-1.9M944.3 389.4v1.9M953.88 565.85v-3.6M953.88 389.4v3.6M963.47 565.85v-1.9M963.47 389.4v1.9M723.85 554.09h2.6M973.05 554.09h-2.6M723.85 542.32h2.6M973.05 542.32h-2.6M723.85 530.56h5M973.05 530.56h-5M723.85 518.8h2.6M973.05 518.8h-2.6M723.85 507.03h2.6M973.05 507.03h-2.6M723.85 495.27h2.6M973.05 495.27h-2.6M723.85 483.51h5M973.05 483.51h-5M723.85 471.74h2.6M973.05 471.74h-2.6M723.85 459.98h2.6M973.05 459.98h-2.6M723.85 448.22h2.6M973.05 448.22h-2.6M723.85 436.45h5M973.05 436.45h-5M723.85 424.69h2.6M973.05 424.69h-2.6M723.85 412.93h2.6M973.05 412.93h-2.6M723.85 401.16h2.6M973.05 401.16h-2.6" fill="none" stroke="#000" stroke-width="1.45"/>
<g class="t">
<path d="M58.73 54.79 L59.64 54.35 L61.02 53.02 L61.02 62.33M69.26 53.02 L67.89 53.47 L66.97 54.79 L66.51 57.01 L66.51 58.34 L66.97 60.55 L67.89 61.88 L69.26 62.33 L70.18 62.33 L71.55 61.88 L72.47 60.55 L72.93 58.34 L72.93 57.01 L72.47 54.79 L71.55 53.47 L70.18 53.02 L69.26 53.02M78.42 53.02 L77.05 53.47 L76.13 54.79 L75.67 57.01 L75.67 58.34 L76.13 60.55 L77.05 61.88 L78.42 62.33 L79.34 62.33 L80.71 61.88 L81.63 60.55 L82.09 58.34 L82.09 57.01 L81.63 54.79 L80.71 53.47 L79.34 53.02 L78.42 53.02M85.75 61.44 L85.29 61.88 L85.75 62.33 L86.21 61.88 L85.75 61.44M92.16 53.02 L90.79 53.47 L89.87 54.79 L89.41 57.01 L89.41 58.34 L89.87 60.55 L90.79 61.88 L92.16 62.33 L93.08 62.33 L94.45 61.88 L95.37 60.55 L95.83 58.34 L95.83 57.01 L95.37 54.79 L94.45 53.47 L93.08 53.02 L92.16 53.02" stroke="#000" stroke-width="1.72"/>
<path d="M67.89 102.47 L68.8 102.03 L70.18 100.7 L70.18 110M78.42 100.7 L77.05 101.14 L76.13 102.47 L75.67 104.68 L75.67 106.01 L76.13 108.23 L77.05 109.56 L78.42 110 L79.34 110 L80.71 109.56 L81.63 108.23 L82.09 106.01 L82.09 104.68 L81.63 102.47 L80.71 101.14 L79.34 100.7 L78.42 100.7M85.75 109.11 L85.29 109.56 L85.75 110 L86.21 109.56 L85.75 109.11M92.16 100.7 L90.79 101.14 L89.87 102.47 L89.41 104.68 L89.41 106.01 L89.87 108.23 L90.79 109.56 L92.16 110 L93.08 110 L94.45 109.56 L95.37 108.23 L95.83 106.01 L95.83 104.68 L95.37 102.47 L94.45 101.14 L93.08 100.7 L92.16 100.7" stroke="#000" stroke-width="1.72"/>
<path d="M77.05 150.15 L77.96 149.7 L79.34 148.37 L79.34 157.68M85.75 156.79 L85.29 157.23 L85.75 157.68 L86.21 157.23 L85.75 156.79M92.16 148.37 L90.79 148.82 L89.87 150.15 L89.41 152.36 L89.41 153.69 L89.87 155.9 L90.79 157.23 L92.16 157.68 L93.08 157.68 L94.45 157.23 L95.37 155.9 L95.83 153.69 L95.83 152.36 L95.37 150.15 L94.45 148.82 L93.08 148.37 L92.16 148.37" stroke="#000" stroke-width="1.72"/>
<path d="M78.42 190.75 L77.05 191.19 L76.13 192.52 L75.67 194.73 L75.67 196.06 L76.13 198.28 L77.05 199.61 L78.42 200.05 L79.34 200.05 L80.71 199.61 L81.63 198.28 L82.09 196.06 L82.09 194.73 L81.63 192.52 L80.71 191.19 L79.34 190.75 L78.42 190.75M85.75 199.16 L85.29 199.61 L85.75 200.05 L86.21 199.61 L85.75 199.16M90.79 192.52 L91.7 192.08 L93.08 190.75 L93.08 200.05" stroke="#000" stroke-width="1.72"/>
<path d="M369.63 54.79 L370.54 54.35 L371.92 53.02 L371.92 62.33M380.16 53.02 L378.79 53.47 L377.87 54.79 L377.41 57.01 L377.41 58.34 L377.87 60.55 L378.79 61.88 L380.16 62.33 L381.08 62.33 L382.45 61.88 L383.37 60.55 L383.83 58.34 L383.83 57.01 L383.37 54.79 L382.45 53.47 L381.08 53.02 L380.16 53.02M389.32 53.02 L387.95 53.47 L387.03 54.79 L386.57 57.01 L386.57 58.34 L387.03 60.55 L387.95 61.88 L389.32 62.33 L390.24 62.33 L391.61 61.88 L392.53 60.55 L392.99 58.34 L392.99 57.01 L392.53 54.79 L391.61 53.47 L390.24 53.02 L389.32 53.02M396.65 61.44 L396.19 61.88 L396.65 62.33 L397.11 61.88 L396.65 61.44M403.06 53.02 L401.69 53.47 L400.77 54.79 L400.31 57.01 L400.31 58.34 L400.77 60.55 L401.69 61.88 L403.06 62.33 L403.98 62.33 L405.35 61.88 L406.27 60.55 L406.73 58.34 L406.73 57.01 L406.27 54.79 L405.35 53.47 L403.98 53.02 L403.06 53.02" stroke="#000" stroke-width="1.72"/>
<path d="M378.79 102.47 L379.7 102.03 L381.08 100.7 L381.08 110M389.32 100.7 L387.95 101.14 L387.03 102.47 L386.57 104.68 L386.57 106.01 L387.03 108.23 L387.95 109.56 L389.32 110 L390.24 110 L391.61 109.56 L392.53 108.23 L392.99 106.01 L392.99 104.68 L392.53 102.47 L391.61 101.14 L390.24 100.7 L389.32 100.7M396.65 109.11 L396.19 109.56 L396.65 110 L397.11 109.56 L396.65 109.11M403.06 100.7 L401.69 101.14 L400.77 102.47 L400.31 104.68 L400.31 106.01 L400.77 108.23 L401.69 109.56 L403.06 110 L403.98 110 L405.35 109.56 L406.27 108.23 L406.73 106.01 L406.73 104.68 L406.27 102.47 L405.35 101.14 L403.98 100.7 L403.06 100.7" stroke="#000" stroke-width="1.72"/>
<path d="M387.95 150.15 L388.86 149.7 L390.24 148.37 L390.24 157.68M396.65 156.79 L396.19 157.23 L396.65 157.68 L397.11 157.23 L396.65 156.79M403.06 148.37 L401.69 148.82 L400.77 150.15 L400.31 152.36 L400.31 153.69 L400.77 155.9 L401.69 157.23 L403.06 157.68 L403.98 157.68 L405.35 157.23 L406.27 155.9 L406.73 153.69 L406.73 152.36 L406.27 150.15 L405.35 148.82 L403.98 148.37 L403.06 148.37" stroke="#000" stroke-width="1.72"/>
<path d="M389.32 190.75 L387.95 191.19 L387.03 192.52 L386.57 194.73 L386.57 196.06 L387.03 198.28 L387.95 199.61 L389.32 200.05 L390.24 200.05 L391.61 199.61 L392.53 198.28 L392.99 196.06 L392.99 194.73 L392.53 192.52 L391.61 191.19 L390.24 190.75 L389.32 190.75M396.65 199.16 L396.19 199.61 L396.65 200.05 L397.11 199.61 L396.65 199.16M401.69 192.52 L402.6 192.08 L403.98 190.75 L403.98 200.05" stroke="#000" stroke-width="1.72"/>
<path d="M680.38 54.79 L681.29 54.35 L682.67 53.02 L682.67 62.33M690.91 53.02 L689.54 53.47 L688.62 54.79 L688.16 57.01 L688.16 58.34 L688.62 60.55 L689.54 61.88 L690.91 62.33 L691.83 62.33 L693.2 61.88 L694.12 60.55 L694.58 58.34 L694.58 57.01 L694.12 54.79 L693.2 53.47 L691.83 53.02 L690.91 53.02M700.07 53.02 L698.7 53.47 L697.78 54.79 L697.32 57.01 L697.32 58.34 L697.78 60.55 L698.7 61.88 L700.07 62.33 L700.99 62.33 L702.36 61.88 L703.28 60.55 L703.74 58.34 L703.74 57.01 L703.28 54.79 L702.36 53.47 L700.99 53.02 L700.07 53.02M707.4 61.44 L706.94 61.88 L707.4 62.33 L707.86 61.88 L707.4 61.44M713.81 53.02 L712.44 53.47 L711.52 54.79 L711.06 57.01 L711.06 58.34 L711.52 60.55 L712.44 61.88 L713.81 62.33 L714.73 62.33 L716.1 61.88 L717.02 60.55 L717.48 58.34 L717.48 57.01 L717.02 54.79 L716.1 53.47 L714.73 53.02 L713.81 53.02" stroke="#000" stroke-width="1.72"/>
<path d="M689.54 102.47 L690.45 102.03 L691.83 100.7 L691.83 110M700.07 100.7 L698.7 101.14 L697.78 102.47 L697.32 104.68 L697.32 106.01 L697.78 108.23 L698.7 109.56 L700.07 110 L700.99 110 L702.36 109.56 L703.28 108.23 L703.74 106.01 L703.74 104.68 L703.28 102.47 L702.36 101.14 L700.99 100.7 L700.07 100.7M707.4 109.11 L706.94 109.56 L707.4 110 L707.86 109.56 L707.4 109.11M713.81 100.7 L712.44 101.14 L711.52 102.47 L711.06 104.68 L711.06 106.01 L711.52 108.23 L712.44 109.56 L713.81 110 L714.73 110 L716.1 109.56 L717.02 108.23 L717.48 106.01 L717.48 104.68 L717.02 102.47 L716.1 101.14 L714.73 100.7 L713.81 100.7" stroke="#000" stroke-width="1.72"/>
<path d="M698.7 150.15 L699.61 149.7 L700.99 148.37 L700.99 157.68M707.4 156.79 L706.94 157.23 L707.4 157.68 L707.86 157.23 L707.4 156.79M713.81 148.37 L712.44 148.82 L711.52 150.15 L711.06 152.36 L711.06 153.69 L711.52 155.9 L712.44 157.23 L713.81 157.68 L714.73 157.68 L716.1 157.23 L717.02 155.9 L717.48 153.69 L717.48 152.36 L717.02 150.15 L716.1 148.82 L714.73 148.37 L713.81 148.37" stroke="#000" stroke-width="1.72"/>
<path d="M700.07 190.75 L698.7 191.19 L697.78 192.52 L697.32 194.73 L697.32 196.06 L697.78 198.28 L698.7 199.61 L700.07 200.05 L700.99 200.05 L702.36 199.61 L703.28 198.28 L703.74 196.06 L703.74 194.73 L703.28 192.52 L702.36 191.19 L700.99 190.75 L700.07 190.75M707.4 199.16 L706.94 199.61 L707.4 200.05 L707.86 199.61 L707.4 199.16M712.44 192.52 L713.35 192.08 L714.73 190.75 L714.73 200.05" stroke="#000" stroke-width="1.72"/>
<path d="M78.42 218.5 L77.05 218.94 L76.13 220.27 L75.67 222.48 L75.67 223.81 L76.13 226.03 L77.05 227.36 L78.42 227.8 L79.34 227.8 L80.71 227.36 L81.63 226.03 L82.09 223.81 L82.09 222.48 L81.63 220.27 L80.71 218.94 L79.34 218.5 L78.42 218.5M85.75 226.91 L85.29 227.36 L85.75 227.8 L86.21 227.36 L85.75 226.91M89.87 220.71 L89.87 220.27 L90.33 219.38 L90.79 218.94 L91.7 218.5 L93.54 218.5 L94.45 218.94 L94.91 219.38 L95.37 220.27 L95.37 221.15 L94.91 222.04 L93.99 223.37 L89.41 227.8 L95.83 227.8" stroke="#000" stroke-width="1.72"/>
<path d="M78.42 250.59 L77.05 251.03 L76.13 252.36 L75.67 254.58 L75.67 255.91 L76.13 258.12 L77.05 259.45 L78.42 259.89 L79.34 259.89 L80.71 259.45 L81.63 258.12 L82.09 255.91 L82.09 254.58 L81.63 252.36 L80.71 251.03 L79.34 250.59 L78.42 250.59M85.75 259.01 L85.29 259.45 L85.75 259.89 L86.21 259.45 L85.75 259.01M92.16 250.59 L90.79 251.03 L89.87 252.36 L89.41 254.58 L89.41 255.91 L89.87 258.12 L90.79 259.45 L92.16 259.89 L93.08 259.89 L94.45 259.45 L95.37 258.12 L95.83 255.91 L95.83 254.58 L95.37 252.36 L94.45 251.03 L93.08 250.59 L92.16 250.59" stroke="#000" stroke-width="1.72"/>
<path d="M64.22 288 L72.47 288M78.42 282.68 L77.05 283.13 L76.13 284.46 L75.67 286.67 L75.67 288 L76.13 290.22 L77.05 291.54 L78.42 291.99 L79.34 291.99 L80.71 291.54 L81.63 290.22 L82.09 288 L82.09 286.67 L81.63 284.46 L80.71 283.13 L79.34 282.68 L78.42 282.68M85.75 291.1 L85.29 291.54 L85.75 291.99 L86.21 291.54 L85.75 291.1M89.87 284.9 L89.87 284.46 L90.33 283.57 L90.79 283.13 L91.7 282.68 L93.54 282.68 L94.45 283.13 L94.91 283.57 L95.37 284.46 L95.37 285.34 L94.91 286.23 L93.99 287.56 L89.41 291.99 L95.83 291.99" stroke="#000" stroke-width="1.72"/>
<path d="M64.22 320.1 L72.47 320.1M78.42 314.78 L77.05 315.22 L76.13 316.55 L75.67 318.77 L75.67 320.1 L76.13 322.31 L77.05 323.64 L78.42 324.08 L79.34 324.08 L80.71 323.64 L81.63 322.31 L82.09 320.1 L82.09 318.77 L81.63 316.55 L80.71 315.22 L79.34 314.78 L78.42 314.78M85.75 323.2 L85.29 323.64 L85.75 324.08 L86.21 323.64 L85.75 323.2M93.99 314.78 L89.41 320.98 L96.28 320.98M93.99 314.78 L93.99 324.08" stroke="#000" stroke-width="1.72"/>
<path d="M64.22 352.19 L72.47 352.19M78.42 346.87 L77.05 347.32 L76.13 348.65 L75.67 350.86 L75.67 352.19 L76.13 354.4 L77.05 355.73 L78.42 356.18 L79.34 356.18 L80.71 355.73 L81.63 354.4 L82.09 352.19 L82.09 350.86 L81.63 348.65 L80.71 347.32 L79.34 346.87 L78.42 346.87M85.75 355.29 L85.29 355.73 L85.75 356.18 L86.21 355.73 L85.75 355.29M95.37 348.2 L94.91 347.32 L93.54 346.87 L92.62 346.87 L91.25 347.32 L90.33 348.65 L89.87 350.86 L89.87 353.08 L90.33 354.85 L91.25 355.73 L92.62 356.18 L93.08 356.18 L94.45 355.73 L95.37 354.85 L95.83 353.52 L95.83 353.08 L95.37 351.75 L94.45 350.86 L93.08 350.42 L92.62 350.42 L91.25 350.86 L90.33 351.75 L89.87 353.08" stroke="#000" stroke-width="1.72"/>
<path d="M64.22 378.98 L72.47 378.98M78.42 373.67 L77.05 374.11 L76.13 375.44 L75.67 377.65 L75.67 378.98 L76.13 381.2 L77.05 382.53 L78.42 382.97 L79.34 382.97 L80.71 382.53 L81.63 381.2 L82.09 378.98 L82.09 377.65 L81.63 375.44 L80.71 374.11 L79.34 373.67 L78.42 373.67M85.75 382.08 L85.29 382.53 L85.75 382.97 L86.21 382.53 L85.75 382.08M91.7 373.67 L90.33 374.11 L89.87 375 L89.87 375.88 L90.33 376.77 L91.25 377.21 L93.08 377.65 L94.45 378.1 L95.37 378.98 L95.83 379.87 L95.83 381.2 L95.37 382.08 L94.91 382.53 L93.54 382.97 L91.7 382.97 L90.33 382.53 L89.87 382.08 L89.41 381.2 L89.41 379.87 L89.87 378.98 L90.79 378.1 L92.16 377.65 L93.99 377.21 L94.91 376.77 L95.37 375.88 L95.37 375 L94.91 374.11 L93.54 373.67 L91.7 373.67" stroke="#000" stroke-width="1.72"/>
<path d="M389.32 218.5 L387.95 218.94 L387.03 220.27 L386.57 222.48 L386.57 223.81 L387.03 226.03 L387.95 227.36 L389.32 227.8 L390.24 227.8 L391.61 227.36 L392.53 226.03 L392.99 223.81 L392.99 222.48 L392.53 220.27 L391.61 218.94 L390.24 218.5 L389.32 218.5M396.65 226.91 L396.19 227.36 L396.65 227.8 L397.11 227.36 L396.65 226.91M400.77 220.71 L400.77 220.27 L401.23 219.38 L401.69 218.94 L402.6 218.5 L404.44 218.5 L405.35 218.94 L405.81 219.38 L406.27 220.27 L406.27 221.15 L405.81 222.04 L404.89 223.37 L400.31 227.8 L406.73 227.8" stroke="#000" stroke-width="1.72"/>
<path d="M389.32 250.59 L387.95 251.03 L387.03 252.36 L386.57 254.58 L386.57 255.91 L387.03 258.12 L387.95 259.45 L389.32 259.89 L390.24 259.89 L391.61 259.45 L392.53 258.12 L392.99 255.91 L392.99 254.58 L392.53 252.36 L391.61 251.03 L390.24 250.59 L389.32 250.59M396.65 259.01 L396.19 259.45 L396.65 259.89 L397.11 259.45 L396.65 259.01M403.06 250.59 L401.69 251.03 L400.77 252.36 L400.31 254.58 L400.31 255.91 L400.77 258.12 L401.69 259.45 L403.06 259.89 L403.98 259.89 L405.35 259.45 L406.27 258.12 L406.73 255.91 L406.73 254.58 L406.27 252.36 L405.35 251.03 L403.98 250.59 L403.06 250.59" stroke="#000" stroke-width="1.72"/>
<path d="M375.12 288 L383.37 288M389.32 282.68 L387.95 283.13 L387.03 284.46 L386.57 286.67 L386.57 288 L387.03 290.22 L387.95 291.54 L389.32 291.99 L390.24 291.99 L391.61 291.54 L392.53 290.22 L392.99 288 L392.99 286.67 L392.53 284.46 L391.61 283.13 L390.24 282.68 L389.32 282.68M396.65 291.1 L396.19 291.54 L396.65 291.99 L397.11 291.54 L396.65 291.1M400.77 284.9 L400.77 284.46 L401.23 283.57 L401.69 283.13 L402.6 282.68 L404.44 282.68 L405.35 283.13 L405.81 283.57 L406.27 284.46 L406.27 285.34 L405.81 286.23 L404.89 287.56 L400.31 291.99 L406.73 291.99" stroke="#000" stroke-width="1.72"/>
<path d="M375.12 320.1 L383.37 320.1M389.32 314.78 L387.95 315.22 L387.03 316.55 L386.57 318.77 L386.57 320.1 L387.03 322.31 L387.95 323.64 L389.32 324.08 L390.24 324.08 L391.61 323.64 L392.53 322.31 L392.99 320.1 L392.99 318.77 L392.53 316.55 L391.61 315.22 L390.24 314.78 L389.32 314.78M396.65 323.2 L396.19 323.64 L396.65 324.08 L397.11 323.64 L396.65 323.2M404.89 314.78 L400.31 320.98 L407.18 320.98M404.89 314.78 L404.89 324.08" stroke="#000" stroke-width="1.72"/>
<path d="M375.12 352.19 L383.37 352.19M389.32 346.87 L387.95 347.32 L387.03 348.65 L386.57 350.86 L386.57 352.19 L387.03 354.4 L387.95 355.73 L389.32 356.18 L390.24 356.18 L391.61 355.73 L392.53 354.4 L392.99 352.19 L392.99 350.86 L392.53 348.65 L391.61 347.32 L390.24 346.87 L389.32 346.87M396.65 355.29 L396.19 355.73 L396.65 356.18 L397.11 355.73 L396.65 355.29M406.27 348.2 L405.81 347.32 L404.44 346.87 L403.52 346.87 L402.15 347.32 L401.23 348.65 L400.77 350.86 L400.77 353.08 L401.23 354.85 L402.15 355.73 L403.52 356.18 L403.98 356.18 L405.35 355.73 L406.27 354.85 L406.73 353.52 L406.73 353.08 L406.27 351.75 L405.35 350.86 L403.98 350.42 L403.52 350.42 L402.15 350.86 L401.23 351.75 L400.77 353.08" stroke="#000" stroke-width="1.72"/>
<path d="M375.12 378.98 L383.37 378.98M389.32 373.67 L387.95 374.11 L387.03 375.44 L386.57 377.65 L386.57 378.98 L387.03 381.2 L387.95 382.53 L389.32 382.97 L390.24 382.97 L391.61 382.53 L392.53 381.2 L392.99 378.98 L392.99 377.65 L392.53 375.44 L391.61 374.11 L390.24 373.67 L389.32 373.67M396.65 382.08 L396.19 382.53 L396.65 382.97 L397.11 382.53 L396.65 382.08M402.6 373.67 L401.23 374.11 L400.77 375 L400.77 375.88 L401.23 376.77 L402.15 377.21 L403.98 377.65 L405.35 378.1 L406.27 378.98 L406.73 379.87 L406.73 381.2 L406.27 382.08 L405.81 382.53 L404.44 382.97 L402.6 382.97 L401.23 382.53 L400.77 382.08 L400.31 381.2 L400.31 379.87 L400.77 378.98 L401.69 378.1 L403.06 377.65 L404.89 377.21 L405.81 376.77 L406.27 375.88 L406.27 375 L405.81 374.11 L404.44 373.67 L402.6 373.67" stroke="#000" stroke-width="1.72"/>
<path d="M700.07 218.5 L698.7 218.94 L697.78 220.27 L697.32 222.48 L697.32 223.81 L697.78 226.03 L698.7 227.36 L700.07 227.8 L700.99 227.8 L702.36 227.36 L703.28 226.03 L703.74 223.81 L703.74 222.48 L703.28 220.27 L702.36 218.94 L700.99 218.5 L700.07 218.5M707.4 226.91 L706.94 227.36 L707.4 227.8 L707.86 227.36 L707.4 226.91M711.52 220.71 L711.52 220.27 L711.98 219.38 L712.44 218.94 L713.35 218.5 L715.19 218.5 L716.1 218.94 L716.56 219.38 L717.02 220.27 L717.02 221.15 L716.56 222.04 L715.64 223.37 L711.06 227.8 L717.48 227.8" stroke="#000" stroke-width="1.72"/>
<path d="M700.07 250.59 L698.7 251.03 L697.78 252.36 L697.32 254.58 L697.32 255.91 L697.78 258.12 L698.7 259.45 L700.07 259.89 L700.99 259.89 L702.36 259.45 L703.28 258.12 L703.74 255.91 L703.74 254.58 L703.28 252.36 L702.36 251.03 L700.99 250.59 L700.07 250.59M707.4 259.01 L706.94 259.45 L707.4 259.89 L707.86 259.45 L707.4 259.01M713.81 250.59 L712.44 251.03 L711.52 252.36 L711.06 254.58 L711.06 255.91 L711.52 258.12 L712.44 259.45 L713.81 259.89 L714.73 259.89 L716.1 259.45 L717.02 258.12 L717.48 255.91 L717.48 254.58 L717.02 252.36 L716.1 251.03 L714.73 250.59 L713.81 250.59" stroke="#000" stroke-width="1.72"/>
<path d="M685.87 288 L694.12 288M700.07 282.68 L698.7 283.13 L697.78 284.46 L697.32 286.67 L697.32 288 L697.78 290.22 L698.7 291.54 L700.07 291.99 L700.99 291.99 L702.36 291.54 L703.28 290.22 L703.74 288 L703.74 286.67 L703.28 284.46 L702.36 283.13 L700.99 282.68 L700.07 282.68M707.4 291.1 L706.94 291.54 L707.4 291.99 L707.86 291.54 L707.4 291.1M711.52 284.9 L711.52 284.46 L711.98 283.57 L712.44 283.13 L713.35 282.68 L715.19 282.68 L716.1 283.13 L716.56 283.57 L717.02 284.46 L717.02 285.34 L716.56 286.23 L715.64 287.56 L711.06 291.99 L717.48 291.99" stroke="#000" stroke-width="1.72"/>
<path d="M685.87 320.1 L694.12 320.1M700.07 314.78 L698.7 315.22 L697.78 316.55 L697.32 318.77 L697.32 320.1 L697.78 322.31 L698.7 323.64 L700.07 324.08 L700.99 324.08 L702.36 323.64 L703.28 322.31 L703.74 320.1 L703.74 318.77 L703.28 316.55 L702.36 315.22 L700.99 314.78 L700.07 314.78M707.4 323.2 L706.94 323.64 L707.4 324.08 L707.86 323.64 L707.4 323.2M715.64 314.78 L711.06 320.98 L717.93 320.98M715.64 314.78 L715.64 324.08" stroke="#000" stroke-width="1.72"/>
<path d="M685.87 352.19 L694.12 352.19M700.07 346.87 L698.7 347.32 L697.78 348.65 L697.32 350.86 L697.32 352.19 L697.78 354.4 L698.7 355.73 L700.07 356.18 L700.99 356.18 L702.36 355.73 L703.28 354.4 L703.74 352.19 L703.74 350.86 L703.28 348.65 L702.36 347.32 L700.99 346.87 L700.07 346.87M707.4 355.29 L706.94 355.73 L707.4 356.18 L707.86 355.73 L707.4 355.29M717.02 348.2 L716.56 347.32 L715.19 346.87 L714.27 346.87 L712.9 347.32 L711.98 348.65 L711.52 350.86 L711.52 353.08 L711.98 354.85 L712.9 355.73 L714.27 356.18 L714.73 356.18 L716.1 355.73 L717.02 354.85 L717.48 353.52 L717.48 353.08 L717.02 351.75 L716.1 350.86 L714.73 350.42 L714.27 350.42 L712.9 350.86 L711.98 351.75 L711.52 353.08" stroke="#000" stroke-width="1.72"/>
<path d="M685.87 378.98 L694.12 378.98M700.07 373.67 L698.7 374.11 L697.78 375.44 L697.32 377.65 L697.32 378.98 L697.78 381.2 L698.7 382.53 L700.07 382.97 L700.99 382.97 L702.36 382.53 L703.28 381.2 L703.74 378.98 L703.74 377.65 L703.28 375.44 L702.36 374.11 L700.99 373.67 L700.07 373.67M707.4 382.08 L706.94 382.53 L707.4 382.97 L707.86 382.53 L707.4 382.08M713.35 373.67 L711.98 374.11 L711.52 375 L711.52 375.88 L711.98 376.77 L712.9 377.21 L714.73 377.65 L716.1 378.1 L717.02 378.98 L717.48 379.87 L717.48 381.2 L717.02 382.08 L716.56 382.53 L715.19 382.97 L713.35 382.97 L711.98 382.53 L711.52 382.08 L711.06 381.2 L711.06 379.87 L711.52 378.98 L712.44 378.1 L713.81 377.65 L715.64 377.21 L716.56 376.77 L717.02 375.88 L717.02 375 L716.56 374.11 L715.19 373.67 L713.35 373.67" stroke="#000" stroke-width="1.72"/>
<path d="M78.42 389.7 L77.05 390.14 L76.13 391.47 L75.67 393.69 L75.67 395.02 L76.13 397.23 L77.05 398.56 L78.42 399 L79.34 399 L80.71 398.56 L81.63 397.23 L82.09 395.02 L82.09 393.69 L81.63 391.47 L80.71 390.14 L79.34 389.7 L78.42 389.7M85.75 398.12 L85.29 398.56 L85.75 399 L86.21 398.56 L85.75 398.12M93.99 389.7 L89.41 395.9 L96.28 395.9M93.99 389.7 L93.99 399" stroke="#000" stroke-width="1.72"/>
<path d="M78.42 432.25 L77.05 432.69 L76.13 434.02 L75.67 436.24 L75.67 437.57 L76.13 439.78 L77.05 441.11 L78.42 441.55 L79.34 441.55 L80.71 441.11 L81.63 439.78 L82.09 437.57 L82.09 436.24 L81.63 434.02 L80.71 432.69 L79.34 432.25 L78.42 432.25M85.75 440.67 L85.29 441.11 L85.75 441.55 L86.21 441.11 L85.75 440.67M89.87 434.47 L89.87 434.02 L90.33 433.14 L90.79 432.69 L91.7 432.25 L93.54 432.25 L94.45 432.69 L94.91 433.14 L95.37 434.02 L95.37 434.91 L94.91 435.8 L93.99 437.12 L89.41 441.55 L95.83 441.55" stroke="#000" stroke-width="1.72"/>
<path d="M78.42 479.31 L77.05 479.75 L76.13 481.08 L75.67 483.29 L75.67 484.62 L76.13 486.84 L77.05 488.17 L78.42 488.61 L79.34 488.61 L80.71 488.17 L81.63 486.84 L82.09 484.62 L82.09 483.29 L81.63 481.08 L80.71 479.75 L79.34 479.31 L78.42 479.31M85.75 487.72 L85.29 488.17 L85.75 488.61 L86.21 488.17 L85.75 487.72M92.16 479.31 L90.79 479.75 L89.87 481.08 L89.41 483.29 L89.41 484.62 L89.87 486.84 L90.79 488.17 L92.16 488.61 L93.08 488.61 L94.45 488.17 L95.37 486.84 L95.83 484.62 L95.83 483.29 L95.37 481.08 L94.45 479.75 L93.08 479.31 L92.16 479.31" stroke="#000" stroke-width="1.72"/>
<path d="M64.22 531.67 L72.47 531.67M78.42 526.36 L77.05 526.8 L76.13 528.13 L75.67 530.35 L75.67 531.67 L76.13 533.89 L77.05 535.22 L78.42 535.66 L79.34 535.66 L80.71 535.22 L81.63 533.89 L82.09 531.67 L82.09 530.35 L81.63 528.13 L80.71 526.8 L79.34 526.36 L78.42 526.36M85.75 534.78 L85.29 535.22 L85.75 535.66 L86.21 535.22 L85.75 534.78M89.87 528.57 L89.87 528.13 L90.33 527.24 L90.79 526.8 L91.7 526.36 L93.54 526.36 L94.45 526.8 L94.91 527.24 L95.37 528.13 L95.37 529.02 L94.91 529.9 L93.99 531.23 L89.41 535.66 L95.83 535.66" stroke="#000" stroke-width="1.72"/>
<path d="M389.32 389.7 L387.95 390.14 L387.03 391.47 L386.57 393.69 L386.57 395.02 L387.03 397.23 L387.95 398.56 L389.32 399 L390.24 399 L391.61 398.56 L392.53 397.23 L392.99 395.02 L392.99 393.69 L392.53 391.47 L391.61 390.14 L390.24 389.7 L389.32 389.7M396.65 398.12 L396.19 398.56 L396.65 399 L397.11 398.56 L396.65 398.12M404.89 389.7 L400.31 395.9 L407.18 395.9M404.89 389.7 L404.89 399" stroke="#000" stroke-width="1.72"/>
<path d="M389.32 432.25 L387.95 432.69 L387.03 434.02 L386.57 436.24 L386.57 437.57 L387.03 439.78 L387.95 441.11 L389.32 441.55 L390.24 441.55 L391.61 441.11 L392.53 439.78 L392.99 437.57 L392.99 436.24 L392.53 434.02 L391.61 432.69 L390.24 432.25 L389.32 432.25M396.65 440.67 L396.19 441.11 L396.65 441.55 L397.11 441.11 L396.65 440.67M400.77 434.47 L400.77 434.02 L401.23 433.14 L401.69 432.69 L402.6 432.25 L404.44 432.25 L405.35 432.69 L405.81 433.14 L406.27 434.02 L406.27 434.91 L405.81 435.8 L404.89 437.12 L400.31 441.55 L406.73 441.55" stroke="#000" stroke-width="1.72"/>
<path d="M389.32 479.31 L387.95 479.75 L387.03 481.08 L386.57 483.29 L386.57 484.62 L387.03 486.84 L387.95 488.17 L389.32 488.61 L390.24 488.61 L391.61 488.17 L392.53 486.84 L392.99 484.62 L392.99 483.29 L392.53 481.08 L391.61 479.75 L390.24 479.31 L389.32 479.31M396.65 487.72 L396.19 488.17 L396.65 488.61 L397.11 488.17 L396.65 487.72M403.06 479.31 L401.69 479.75 L400.77 481.08 L400.31 483.29 L400.31 484.62 L400.77 486.84 L401.69 488.17 L403.06 488.61 L403.98 488.61 L405.35 488.17 L406.27 486.84 L406.73 484.62 L406.73 483.29 L406.27 481.08 L405.35 479.75 L403.98 479.31 L403.06 479.31" stroke="#000" stroke-width="1.72"/>
<path d="M375.12 531.67 L383.37 531.67M389.32 526.36 L387.95 526.8 L387.03 528.13 L386.57 530.35 L386.57 531.67 L387.03 533.89 L387.95 535.22 L389.32 535.66 L390.24 535.66 L391.61 535.22 L392.53 533.89 L392.99 531.67 L392.99 530.35 L392.53 528.13 L391.61 526.8 L390.24 526.36 L389.32 526.36M396.65 534.78 L396.19 535.22 L396.65 535.66 L397.11 535.22 L396.65 534.78M400.77 528.57 L400.77 528.13 L401.23 527.24 L401.69 526.8 L402.6 526.36 L404.44 526.36 L405.35 526.8 L405.81 527.24 L406.27 528.13 L406.27 529.02 L405.81 529.9 L404.89 531.23 L400.31 535.66 L406.73 535.66" stroke="#000" stroke-width="1.72"/>
<path d="M700.07 389.7 L698.7 390.14 L697.78 391.47 L697.32 393.69 L697.32 395.02 L697.78 397.23 L698.7 398.56 L700.07 399 L700.99 399 L702.36 398.56 L703.28 397.23 L703.74 395.02 L703.74 393.69 L703.28 391.47 L702.36 390.14 L700.99 389.7 L700.07 389.7M707.4 398.12 L706.94 398.56 L707.4 399 L707.86 398.56 L707.4 398.12M715.64 389.7 L711.06 395.9 L717.93 395.9M715.64 389.7 L715.64 399" stroke="#000" stroke-width="1.72"/>
<path d="M700.07 432.25 L698.7 432.69 L697.78 434.02 L697.32 436.24 L697.32 437.57 L697.78 439.78 L698.7 441.11 L700.07 441.55 L700.99 441.55 L702.36 441.11 L703.28 439.78 L703.74 437.57 L703.74 436.24 L703.28 434.02 L702.36 432.69 L700.99 432.25 L700.07 432.25M707.4 440.67 L706.94 441.11 L707.4 441.55 L707.86 441.11 L707.4 440.67M711.52 434.47 L711.52 434.02 L711.98 433.14 L712.44 432.69 L713.35 432.25 L715.19 432.25 L716.1 432.69 L716.56 433.14 L717.02 434.02 L717.02 434.91 L716.56 435.8 L715.64 437.12 L711.06 441.55 L717.48 441.55" stroke="#000" stroke-width="1.72"/>
<path d="M700.07 479.31 L698.7 479.75 L697.78 481.08 L697.32 483.29 L697.32 484.62 L697.78 486.84 L698.7 488.17 L700.07 488.61 L700.99 488.61 L702.36 488.17 L703.28 486.84 L703.74 484.62 L703.74 483.29 L703.28 481.08 L702.36 479.75 L700.99 479.31 L700.07 479.31M707.4 487.72 L706.94 488.17 L707.4 488.61 L707.86 488.17 L707.4 487.72M713.81 479.31 L712.44 479.75 L711.52 481.08 L711.06 483.29 L711.06 484.62 L711.52 486.84 L712.44 488.17 L713.81 488.61 L714.73 488.61 L716.1 488.17 L717.02 486.84 L717.48 484.62 L717.48 483.29 L717.02 481.08 L716.1 479.75 L714.73 479.31 L713.81 479.31" stroke="#000" stroke-width="1.72"/>
<path d="M685.87 531.67 L694.12 531.67M700.07 526.36 L698.7 526.8 L697.78 528.13 L697.32 530.35 L697.32 531.67 L697.78 533.89 L698.7 535.22 L700.07 535.66 L700.99 535.66 L702.36 535.22 L703.28 533.89 L703.74 531.67 L703.74 530.35 L703.28 528.13 L702.36 526.8 L700.99 526.36 L700.07 526.36M707.4 534.78 L706.94 535.22 L707.4 535.66 L707.86 535.22 L707.4 534.78M711.52 528.57 L711.52 528.13 L711.98 527.24 L712.44 526.8 L713.35 526.36 L715.19 526.36 L716.1 526.8 L716.56 527.24 L717.02 528.13 L717.02 529.02 L716.56 529.9 L715.64 531.23 L711.06 535.66 L717.48 535.66" stroke="#000" stroke-width="1.72"/>
<path d="M101.74 577.9 L100.37 578.34 L99.45 579.67 L98.99 581.88 L98.99 583.21 L99.45 585.43 L100.37 586.76 L101.74 587.2 L102.66 587.2 L104.03 586.76 L104.95 585.43 L105.41 583.21 L105.41 581.88 L104.95 579.67 L104.03 578.34 L102.66 577.9 L101.74 577.9" stroke="#000" stroke-width="1.72"/>
<path d="M137.82 580.11 L137.82 579.67 L138.28 578.78 L138.74 578.34 L139.65 577.9 L141.49 577.9 L142.4 578.34 L142.86 578.78 L143.32 579.67 L143.32 580.56 L142.86 581.44 L141.94 582.77 L137.36 587.2 L143.78 587.2" stroke="#000" stroke-width="1.72"/>
<path d="M180.31 577.9 L175.73 584.1 L182.6 584.1M180.31 577.9 L180.31 587.2" stroke="#000" stroke-width="1.72"/>
<path d="M220.06 579.23 L219.6 578.34 L218.22 577.9 L217.31 577.9 L215.93 578.34 L215.02 579.67 L214.56 581.88 L214.56 584.1 L215.02 585.87 L215.93 586.76 L217.31 587.2 L217.77 587.2 L219.14 586.76 L220.06 585.87 L220.51 584.54 L220.51 584.1 L220.06 582.77 L219.14 581.88 L217.77 581.44 L217.31 581.44 L215.93 581.88 L215.02 582.77 L214.56 584.1" stroke="#000" stroke-width="1.72"/>
<path d="M254.76 577.9 L253.39 578.34 L252.93 579.23 L252.93 580.11 L253.39 581 L254.3 581.44 L256.13 581.88 L257.51 582.33 L258.42 583.21 L258.88 584.1 L258.88 585.43 L258.42 586.31 L257.97 586.76 L256.59 587.2 L254.76 587.2 L253.39 586.76 L252.93 586.31 L252.47 585.43 L252.47 584.1 L252.93 583.21 L253.84 582.33 L255.22 581.88 L257.05 581.44 L257.97 581 L258.42 580.11 L258.42 579.23 L257.97 578.34 L256.59 577.9 L254.76 577.9" stroke="#000" stroke-width="1.72"/>
<path d="M287.63 579.67 L288.55 579.23 L289.92 577.9 L289.92 587.2M298.17 577.9 L296.79 578.34 L295.88 579.67 L295.42 581.88 L295.42 583.21 L295.88 585.43 L296.79 586.76 L298.17 587.2 L299.08 587.2 L300.46 586.76 L301.37 585.43 L301.83 583.21 L301.83 581.88 L301.37 579.67 L300.46 578.34 L299.08 577.9 L298.17 577.9" stroke="#000" stroke-width="1.72"/>
<path d="M326 579.67 L326.92 579.23 L328.29 577.9 L328.29 587.2M334.25 580.11 L334.25 579.67 L334.71 578.78 L335.16 578.34 L336.08 577.9 L337.91 577.9 L338.83 578.34 L339.29 578.78 L339.74 579.67 L339.74 580.56 L339.29 581.44 L338.37 582.77 L333.79 587.2 L340.2 587.2" stroke="#000" stroke-width="1.72"/>
<path d="M160.19 595.55 L160.19 604.85M165.69 598.65 L164.77 599.09 L163.85 599.98 L163.4 601.31 L163.4 602.19 L163.85 603.52 L164.77 604.41 L165.69 604.85 L167.06 604.85 L167.98 604.41 L168.89 603.52 L169.35 602.19 L169.35 601.31 L168.89 599.98 L167.98 599.09 L167.06 598.65 L165.69 598.65M174.39 598.65 L173.47 599.09 L172.56 599.98 L172.1 601.31 L172.1 602.19 L172.56 603.52 L173.47 604.41 L174.39 604.85 L175.76 604.85 L176.68 604.41 L177.59 603.52 L178.05 602.19 L178.05 601.31 L177.59 599.98 L176.68 599.09 L175.76 598.65 L174.39 598.65M181.26 595.55 L181.26 604.85M185.84 598.65 L181.26 603.08M183.09 601.31 L186.3 604.85M189.04 595.55 L189.04 604.85M189.04 599.98 L189.96 599.09 L190.88 598.65 L192.25 598.65 L193.17 599.09 L194.08 599.98 L194.54 601.31 L194.54 602.19 L194.08 603.52 L193.17 604.41 L192.25 604.85 L190.88 604.85 L189.96 604.41 L189.04 603.52M202.78 598.65 L202.78 604.85M202.78 599.98 L201.87 599.09 L200.95 598.65 L199.58 598.65 L198.66 599.09 L197.75 599.98 L197.29 601.31 L197.29 602.19 L197.75 603.52 L198.66 604.41 L199.58 604.85 L200.95 604.85 L201.87 604.41 L202.78 603.52M211.49 599.98 L210.57 599.09 L209.65 598.65 L208.28 598.65 L207.36 599.09 L206.45 599.98 L205.99 601.31 L205.99 602.19 L206.45 603.52 L207.36 604.41 L208.28 604.85 L209.65 604.85 L210.57 604.41 L211.49 603.52M214.69 595.55 L214.69 604.85M219.27 598.65 L214.69 603.08M216.52 601.31 L219.73 604.85M222.94 595.55 L222.94 603.08 L223.39 604.41 L224.31 604.85 L225.23 604.85M221.56 598.65 L224.77 598.65M227.52 595.55 L227.97 595.99 L228.43 595.55 L227.97 595.1 L227.52 595.55M227.97 598.65 L227.97 604.85M231.64 598.65 L231.64 604.85M231.64 600.42 L233.01 599.09 L233.93 598.65 L235.3 598.65 L236.22 599.09 L236.68 600.42 L236.68 604.85M236.68 600.42 L238.05 599.09 L238.97 598.65 L240.34 598.65 L241.26 599.09 L241.71 600.42 L241.71 604.85M244.92 601.31 L250.42 601.31 L250.42 600.42 L249.96 599.53 L249.5 599.09 L248.58 598.65 L247.21 598.65 L246.29 599.09 L245.38 599.98 L244.92 601.31 L244.92 602.19 L245.38 603.52 L246.29 604.41 L247.21 604.85 L248.58 604.85 L249.5 604.41 L250.42 603.52M264.16 593.77 L263.24 594.66 L262.32 595.99 L261.41 597.76 L260.95 599.98 L260.95 601.75 L261.41 603.96 L262.32 605.74 L263.24 607.07 L264.16 607.95M273.77 597.76 L273.32 596.88 L272.4 595.99 L271.48 595.55 L269.65 595.55 L268.74 595.99 L267.82 596.88 L267.36 597.76 L266.9 599.09 L266.9 601.31 L267.36 602.63 L267.82 603.52 L268.74 604.41 L269.65 604.85 L271.48 604.85 L272.4 604.41 L273.32 603.52 L273.77 602.63 L273.77 601.31M271.48 601.31 L273.77 601.31M276.06 598.65 L278.81 604.85M281.56 598.65 L278.81 604.85 L277.9 606.62 L276.98 607.51 L276.06 607.95 L275.61 607.95M284.31 598.65 L284.31 604.85M284.31 601.31 L284.77 599.98 L285.68 599.09 L286.6 598.65 L287.97 598.65M289.8 593.77 L290.72 594.66 L291.64 595.99 L292.55 597.76 L293.01 599.98 L293.01 601.75 L292.55 603.96 L291.64 605.74 L290.72 607.07 L289.8 607.95" stroke="#000" stroke-width="1.72"/>
<path d="M412.64 577.9 L411.27 578.34 L410.35 579.67 L409.89 581.88 L409.89 583.21 L410.35 585.43 L411.27 586.76 L412.64 587.2 L413.56 587.2 L414.93 586.76 L415.85 585.43 L416.31 583.21 L416.31 581.88 L415.85 579.67 L414.93 578.34 L413.56 577.9 L412.64 577.9" stroke="#000" stroke-width="1.72"/>
<path d="M448.69 580.11 L448.69 579.67 L449.15 578.78 L449.61 578.34 L450.52 577.9 L452.35 577.9 L453.27 578.34 L453.73 578.78 L454.19 579.67 L454.19 580.56 L453.73 581.44 L452.81 582.77 L448.23 587.2 L454.64 587.2" stroke="#000" stroke-width="1.72"/>
<path d="M491.15 577.9 L486.57 584.1 L493.44 584.1M491.15 577.9 L491.15 587.2" stroke="#000" stroke-width="1.72"/>
<path d="M530.86 579.23 L530.41 578.34 L529.03 577.9 L528.12 577.9 L526.74 578.34 L525.83 579.67 L525.37 581.88 L525.37 584.1 L525.83 585.87 L526.74 586.76 L528.12 587.2 L528.57 587.2 L529.95 586.76 L530.86 585.87 L531.32 584.54 L531.32 584.1 L530.86 582.77 L529.95 581.88 L528.57 581.44 L528.12 581.44 L526.74 581.88 L525.83 582.77 L525.37 584.1" stroke="#000" stroke-width="1.72"/>
<path d="M565.54 577.9 L564.16 578.34 L563.71 579.23 L563.71 580.11 L564.16 581 L565.08 581.44 L566.91 581.88 L568.29 582.33 L569.2 583.21 L569.66 584.1 L569.66 585.43 L569.2 586.31 L568.74 586.76 L567.37 587.2 L565.54 587.2 L564.16 586.76 L563.71 586.31 L563.25 585.43 L563.25 584.1 L563.71 583.21 L564.62 582.33 L566 581.88 L567.83 581.44 L568.74 581 L569.2 580.11 L569.2 579.23 L568.74 578.34 L567.37 577.9 L565.54 577.9" stroke="#000" stroke-width="1.72"/>
<path d="M598.38 579.67 L599.3 579.23 L600.67 577.9 L600.67 587.2M608.91 577.9 L607.54 578.34 L606.62 579.67 L606.17 581.88 L606.17 583.21 L606.62 585.43 L607.54 586.76 L608.91 587.2 L609.83 587.2 L611.2 586.76 L612.12 585.43 L612.58 583.21 L612.58 581.88 L612.12 579.67 L611.2 578.34 L609.83 577.9 L608.91 577.9" stroke="#000" stroke-width="1.72"/>
<path d="M636.72 579.67 L637.63 579.23 L639.01 577.9 L639.01 587.2M644.96 580.11 L644.96 579.67 L645.42 578.78 L645.88 578.34 L646.79 577.9 L648.63 577.9 L649.54 578.34 L650 578.78 L650.46 579.67 L650.46 580.56 L650 581.44 L649.08 582.77 L644.5 587.2 L650.92 587.2" stroke="#000" stroke-width="1.72"/>
<path d="M470.99 595.55 L470.99 604.85M476.49 598.65 L475.57 599.09 L474.65 599.98 L474.2 601.31 L474.2 602.19 L474.65 603.52 L475.57 604.41 L476.49 604.85 L477.86 604.85 L478.78 604.41 L479.69 603.52 L480.15 602.19 L480.15 601.31 L479.69 599.98 L478.78 599.09 L477.86 598.65 L476.49 598.65M485.19 598.65 L484.27 599.09 L483.36 599.98 L482.9 601.31 L482.9 602.19 L483.36 603.52 L484.27 604.41 L485.19 604.85 L486.56 604.85 L487.48 604.41 L488.39 603.52 L488.85 602.19 L488.85 601.31 L488.39 599.98 L487.48 599.09 L486.56 598.65 L485.19 598.65M492.06 595.55 L492.06 604.85M496.64 598.65 L492.06 603.08M493.89 601.31 L497.1 604.85M499.84 595.55 L499.84 604.85M499.84 599.98 L500.76 599.09 L501.68 598.65 L503.05 598.65 L503.97 599.09 L504.88 599.98 L505.34 601.31 L505.34 602.19 L504.88 603.52 L503.97 604.41 L503.05 604.85 L501.68 604.85 L500.76 604.41 L499.84 603.52M513.58 598.65 L513.58 604.85M513.58 599.98 L512.67 599.09 L511.75 598.65 L510.38 598.65 L509.46 599.09 L508.55 599.98 L508.09 601.31 L508.09 602.19 L508.55 603.52 L509.46 604.41 L510.38 604.85 L511.75 604.85 L512.67 604.41 L513.58 603.52M522.29 599.98 L521.37 599.09 L520.45 598.65 L519.08 598.65 L518.16 599.09 L517.25 599.98 L516.79 601.31 L516.79 602.19 L517.25 603.52 L518.16 604.41 L519.08 604.85 L520.45 604.85 L521.37 604.41 L522.29 603.52M525.49 595.55 L525.49 604.85M530.07 598.65 L525.49 603.08M527.32 601.31 L530.53 604.85M533.74 595.55 L533.74 603.08 L534.19 604.41 L535.11 604.85 L536.03 604.85M532.36 598.65 L535.57 598.65M538.32 595.55 L538.77 595.99 L539.23 595.55 L538.77 595.1 L538.32 595.55M538.77 598.65 L538.77 604.85M542.44 598.65 L542.44 604.85M542.44 600.42 L543.81 599.09 L544.73 598.65 L546.1 598.65 L547.02 599.09 L547.48 600.42 L547.48 604.85M547.48 600.42 L548.85 599.09 L549.77 598.65 L551.14 598.65 L552.06 599.09 L552.51 600.42 L552.51 604.85M555.72 601.31 L561.22 601.31 L561.22 600.42 L560.76 599.53 L560.3 599.09 L559.38 598.65 L558.01 598.65 L557.09 599.09 L556.18 599.98 L555.72 601.31 L555.72 602.19 L556.18 603.52 L557.09 604.41 L558.01 604.85 L559.38 604.85 L560.3 604.41 L561.22 603.52M574.96 593.77 L574.04 594.66 L573.12 595.99 L572.21 597.76 L571.75 599.98 L571.75 601.75 L572.21 603.96 L573.12 605.74 L574.04 607.07 L574.96 607.95M584.57 597.76 L584.12 596.88 L583.2 595.99 L582.28 595.55 L580.45 595.55 L579.54 595.99 L578.62 596.88 L578.16 597.76 L577.7 599.09 L577.7 601.31 L578.16 602.63 L578.62 603.52 L579.54 604.41 L580.45 604.85 L582.28 604.85 L583.2 604.41 L584.12 603.52 L584.57 602.63 L584.57 601.31M582.28 601.31 L584.57 601.31M586.86 598.65 L589.61 604.85M592.36 598.65 L589.61 604.85 L588.7 606.62 L587.78 607.51 L586.86 607.95 L586.41 607.95M595.11 598.65 L595.11 604.85M595.11 601.31 L595.57 599.98 L596.48 599.09 L597.4 598.65 L598.77 598.65M600.6 593.77 L601.52 594.66 L602.44 595.99 L603.35 597.76 L603.81 599.98 L603.81 601.75 L603.35 603.96 L602.44 605.74 L601.52 607.07 L600.6 607.95" stroke="#000" stroke-width="1.72"/>
<path d="M723.39 577.9 L722.02 578.34 L721.1 579.67 L720.64 581.88 L720.64 583.21 L721.1 585.43 L722.02 586.76 L723.39 587.2 L724.31 587.2 L725.68 586.76 L726.6 585.43 L727.06 583.21 L727.06 581.88 L726.6 579.67 L725.68 578.34 L724.31 577.9 L723.39 577.9" stroke="#000" stroke-width="1.72"/>
<path d="M759.44 580.11 L759.44 579.67 L759.9 578.78 L760.36 578.34 L761.27 577.9 L763.1 577.9 L764.02 578.34 L764.48 578.78 L764.94 579.67 L764.94 580.56 L764.48 581.44 L763.56 582.77 L758.98 587.2 L765.39 587.2" stroke="#000" stroke-width="1.72"/>
<path d="M801.9 577.9 L797.32 584.1 L804.19 584.1M801.9 577.9 L801.9 587.2" stroke="#000" stroke-width="1.72"/>
<path d="M841.61 579.23 L841.16 578.34 L839.78 577.9 L838.87 577.9 L837.49 578.34 L836.58 579.67 L836.12 581.88 L836.12 584.1 L836.58 585.87 L837.49 586.76 L838.87 587.2 L839.32 587.2 L840.7 586.76 L841.61 585.87 L842.07 584.54 L842.07 584.1 L841.61 582.77 L840.7 581.88 L839.32 581.44 L838.87 581.44 L837.49 581.88 L836.58 582.77 L836.12 584.1" stroke="#000" stroke-width="1.72"/>
<path d="M876.29 577.9 L874.91 578.34 L874.46 579.23 L874.46 580.11 L874.91 581 L875.83 581.44 L877.66 581.88 L879.04 582.33 L879.95 583.21 L880.41 584.1 L880.41 585.43 L879.95 586.31 L879.49 586.76 L878.12 587.2 L876.29 587.2 L874.91 586.76 L874.46 586.31 L874 585.43 L874 584.1 L874.46 583.21 L875.37 582.33 L876.75 581.88 L878.58 581.44 L879.49 581 L879.95 580.11 L879.95 579.23 L879.49 578.34 L878.12 577.9 L876.29 577.9" stroke="#000" stroke-width="1.72"/>
<path d="M909.13 579.67 L910.05 579.23 L911.42 577.9 L911.42 587.2M919.66 577.9 L918.29 578.34 L917.37 579.67 L916.92 581.88 L916.92 583.21 L917.37 585.43 L918.29 586.76 L919.66 587.2 L920.58 587.2 L921.95 586.76 L922.87 585.43 L923.33 583.21 L923.33 581.88 L922.87 579.67 L921.95 578.34 L920.58 577.9 L919.66 577.9" stroke="#000" stroke-width="1.72"/>
<path d="M947.47 579.67 L948.38 579.23 L949.76 577.9 L949.76 587.2M955.71 580.11 L955.71 579.67 L956.17 578.78 L956.63 578.34 L957.54 577.9 L959.38 577.9 L960.29 578.34 L960.75 578.78 L961.21 579.67 L961.21 580.56 L960.75 581.44 L959.83 582.77 L955.25 587.2 L961.67 587.2" stroke="#000" stroke-width="1.72"/>
<path d="M781.74 595.55 L781.74 604.85M787.24 598.65 L786.32 599.09 L785.4 599.98 L784.95 601.31 L784.95 602.19 L785.4 603.52 L786.32 604.41 L787.24 604.85 L788.61 604.85 L789.53 604.41 L790.44 603.52 L790.9 602.19 L790.9 601.31 L790.44 599.98 L789.53 599.09 L788.61 598.65 L787.24 598.65M795.94 598.65 L795.02 599.09 L794.11 599.98 L793.65 601.31 L793.65 602.19 L794.11 603.52 L795.02 604.41 L795.94 604.85 L797.31 604.85 L798.23 604.41 L799.14 603.52 L799.6 602.19 L799.6 601.31 L799.14 599.98 L798.23 599.09 L797.31 598.65 L795.94 598.65M802.81 595.55 L802.81 604.85M807.39 598.65 L802.81 603.08M804.64 601.31 L807.85 604.85M810.59 595.55 L810.59 604.85M810.59 599.98 L811.51 599.09 L812.43 598.65 L813.8 598.65 L814.72 599.09 L815.63 599.98 L816.09 601.31 L816.09 602.19 L815.63 603.52 L814.72 604.41 L813.8 604.85 L812.43 604.85 L811.51 604.41 L810.59 603.52M824.33 598.65 L824.33 604.85M824.33 599.98 L823.42 599.09 L822.5 598.65 L821.13 598.65 L820.21 599.09 L819.3 599.98 L818.84 601.31 L818.84 602.19 L819.3 603.52 L820.21 604.41 L821.13 604.85 L822.5 604.85 L823.42 604.41 L824.33 603.52M833.04 599.98 L832.12 599.09 L831.2 598.65 L829.83 598.65 L828.91 599.09 L828 599.98 L827.54 601.31 L827.54 602.19 L828 603.52 L828.91 604.41 L829.83 604.85 L831.2 604.85 L832.12 604.41 L833.04 603.52M836.24 595.55 L836.24 604.85M840.82 598.65 L836.24 603.08M838.07 601.31 L841.28 604.85M844.49 595.55 L844.49 603.08 L844.94 604.41 L845.86 604.85 L846.78 604.85M843.11 598.65 L846.32 598.65M849.07 595.55 L849.52 595.99 L849.98 595.55 L849.52 595.1 L849.07 595.55M849.52 598.65 L849.52 604.85M853.19 598.65 L853.19 604.85M853.19 600.42 L854.56 599.09 L855.48 598.65 L856.85 598.65 L857.77 599.09 L858.23 600.42 L858.23 604.85M858.23 600.42 L859.6 599.09 L860.52 598.65 L861.89 598.65 L862.81 599.09 L863.26 600.42 L863.26 604.85M866.47 601.31 L871.97 601.31 L871.97 600.42 L871.51 599.53 L871.05 599.09 L870.13 598.65 L868.76 598.65 L867.84 599.09 L866.93 599.98 L866.47 601.31 L866.47 602.19 L866.93 603.52 L867.84 604.41 L868.76 604.85 L870.13 604.85 L871.05 604.41 L871.97 603.52M885.71 593.77 L884.79 594.66 L883.87 595.99 L882.96 597.76 L882.5 599.98 L882.5 601.75 L882.96 603.96 L883.87 605.74 L884.79 607.07 L885.71 607.95M895.32 597.76 L894.87 596.88 L893.95 595.99 L893.03 595.55 L891.2 595.55 L890.29 595.99 L889.37 596.88 L888.91 597.76 L888.45 599.09 L888.45 601.31 L888.91 602.63 L889.37 603.52 L890.29 604.41 L891.2 604.85 L893.03 604.85 L893.95 604.41 L894.87 603.52 L895.32 602.63 L895.32 601.31M893.03 601.31 L895.32 601.31M897.61 598.65 L900.36 604.85M903.11 598.65 L900.36 604.85 L899.45 606.62 L898.53 607.51 L897.61 607.95 L897.16 607.95M905.86 598.65 L905.86 604.85M905.86 601.31 L906.32 599.98 L907.23 599.09 L908.15 598.65 L909.52 598.65M911.35 593.77 L912.27 594.66 L913.19 595.99 L914.1 597.76 L914.56 599.98 L914.56 601.75 L914.1 603.96 L913.19 605.74 L912.27 607.07 L911.35 607.95" stroke="#000" stroke-width="1.72"/>
<path transform="translate(50.3 295.06) rotate(-90)" d="M-61.6 -11.07 L-64.81 -11.07 L-64.81 3.1 L-61.6 3.1M-56.1 -9.3 L-57.02 -8.86 L-57.94 -7.97 L-58.39 -7.09 L-58.85 -5.76 L-58.85 -3.54 L-58.39 -2.21 L-57.94 -1.33 L-57.02 -0.44 L-56.1 0 L-54.27 0 L-53.36 -0.44 L-52.44 -1.33 L-51.98 -2.21 L-51.52 -3.54 L-51.52 -5.76 L-51.98 -7.09 L-52.44 -7.97 L-53.36 -8.86 L-54.27 -9.3 L-56.1 -9.3M-40.99 -11.07 L-49.23 3.1M-38.24 -9.3 L-38.24 0M-31.83 -9.3 L-31.83 0M-38.24 -4.87 L-31.83 -4.87M-28.62 -11.07 L-25.42 -11.07 L-25.42 3.1 L-28.62 3.1M-9.39 -6.2 L-9.39 0M-9.39 -4.87 L-10.3 -5.76 L-11.22 -6.2 L-12.59 -6.2 L-13.51 -5.76 L-14.43 -4.87 L-14.88 -3.54 L-14.88 -2.66 L-14.43 -1.33 L-13.51 -0.44 L-12.59 0 L-11.22 0 L-10.3 -0.44 L-9.39 -1.33M-5.72 -6.2 L-5.72 0M-5.72 -4.43 L-4.35 -5.76 L-3.43 -6.2 L-2.06 -6.2 L-1.14 -5.76 L-0.69 -4.43 L-0.69 0M8.02 -9.3 L8.02 0M8.02 -4.87 L7.1 -5.76 L6.18 -6.2 L4.81 -6.2 L3.89 -5.76 L2.98 -4.87 L2.52 -3.54 L2.52 -2.66 L2.98 -1.33 L3.89 -0.44 L4.81 0 L6.18 0 L7.1 -0.44 L8.02 -1.33M22.21 -11.07 L19.01 -11.07 L19.01 3.1 L22.21 3.1M25.42 -9.3 L25.42 0M25.42 -9.3 L31.37 -9.3M25.42 -4.87 L29.08 -4.87M33.21 -3.54 L38.7 -3.54 L38.7 -4.43 L38.24 -5.32 L37.79 -5.76 L36.87 -6.2 L35.5 -6.2 L34.58 -5.76 L33.66 -4.87 L33.21 -3.54 L33.21 -2.66 L33.66 -1.33 L34.58 -0.44 L35.5 0 L36.87 0 L37.79 -0.44 L38.7 -1.33M49.24 -11.07 L40.99 3.1M51.98 -9.3 L51.98 0M58.4 -9.3 L58.4 0M51.98 -4.87 L58.4 -4.87M61.6 -11.07 L64.81 -11.07 L64.81 3.1 L61.6 3.1" stroke="#000" stroke-width="1.72"/>
<path transform="translate(50.3 478.23) rotate(-90)" d="M-20.38 -11.07 L-23.59 -11.07 L-23.59 3.1 L-20.38 3.1M-14.15 -6.2 L-15.3 -5.76 L-16.49 -4.87 L-17.04 -3.99 L-17.63 -2.66 L-17.63 -1.33 L-17.04 -0.44 L-15.89 0 L-14.75 0 L-13.56 -0.44 L-11.82 -1.77 L-10.67 -3.1 L-9.48 -4.87 L-8.89 -6.2M-14.15 -6.2 L-12.96 -6.2 L-12.41 -5.76 L-11.82 -4.87 L-10.67 -1.33 L-10.08 -0.44 L-9.48 0 L-8.89 0M1.6 -11.07 L-6.64 3.1M4.35 -9.3 L4.35 0M4.35 -9.3 L10.31 -9.3M4.35 -4.87 L8.02 -4.87M12.14 -3.54 L17.63 -3.54 L17.63 -4.43 L17.18 -5.32 L16.72 -5.76 L15.8 -6.2 L14.43 -6.2 L13.51 -5.76 L12.6 -4.87 L12.14 -3.54 L12.14 -2.66 L12.6 -1.33 L13.51 -0.44 L14.43 0 L15.8 0 L16.72 -0.44 L17.63 -1.33M20.38 -11.07 L23.59 -11.07 L23.59 3.1 L20.38 3.1" stroke="#000" stroke-width="1.72"/>
<path transform="translate(43.1 157.55) rotate(-90)" d="M7.79 -7.97 L6.87 -8.86 L5.5 -9.3 L3.66 -9.3 L2.29 -8.86 L1.37 -7.97 L1.37 -7.09 L1.83 -6.2 L2.29 -5.76 L3.21 -5.32 L5.95 -4.43 L6.87 -3.99 L7.33 -3.54 L7.79 -2.66 L7.79 -1.33 L6.87 -0.44 L5.5 0 L3.66 0 L2.29 -0.44 L1.37 -1.33M10.99 -9.3 L10.99 0M10.99 -9.3 L16.95 -9.3M10.99 -4.87 L14.66 -4.87M19.24 -9.3 L19.24 0M19.24 -9.3 L23.36 -9.3 L24.73 -8.86 L25.19 -8.42 L25.65 -7.53 L25.65 -6.65 L25.19 -5.76 L24.73 -5.32 L23.36 -4.87 L19.24 -4.87M22.44 -4.87 L25.65 0" stroke="#000" stroke-width="1.72"/>
<path transform="translate(43.1 122.7) rotate(-90)" d="M5.04 -11.07 L4.12 -10.19 L3.21 -8.86 L2.29 -7.09 L1.83 -4.87 L1.83 -3.1 L2.29 -0.89 L3.21 0.89 L4.12 2.21 L5.04 3.1" stroke="#000" stroke-width="1.72"/>
<path transform="translate(43.1 115.99) rotate(-90)" d="M1.83 -9.3 L1.83 0M1.83 -9.3 L5.5 0M9.16 -9.3 L5.5 0M9.16 -9.3 L9.16 0" stroke="#000" stroke-width="1.72"/>
<path transform="translate(43.1 97.3) rotate(-90)" d="M9.16 -11.07 L0.92 3.1M10.99 -6.2 L13.74 0M16.49 -6.2 L13.74 0 L12.82 1.77 L11.91 2.66 L10.99 3.1 L10.53 3.1M19.24 -6.2 L19.24 0M19.24 -3.54 L19.69 -4.87 L20.61 -5.76 L21.53 -6.2 L22.9 -6.2M24.73 -11.07 L25.65 -10.19 L26.56 -8.86 L27.48 -7.09 L27.94 -4.87 L27.94 -3.1 L27.48 -0.89 L26.56 0.89 L25.65 2.21 L24.73 3.1" stroke="#000" stroke-width="1.72"/>
<circle cx="45.2" cy="100.7" r="2.7" fill="none" stroke="#000" stroke-width="1.3"/><circle cx="45.2" cy="100.7" r="0.85" fill="#000"/>
</g>
<path d="M111.7 334.7H140.8" stroke="#000" stroke-width="2.5" fill="none"/>
<path d="M111.7 359H140.8" stroke="#000" stroke-width="2.5" fill="none" stroke-dasharray="8.2 7.6"/>
<g class="s" font-size="12">
<text x="96.2" y="61.72" text-anchor="end" font-size="13">100.0</text>
<text x="96.2" y="109.4" text-anchor="end" font-size="13">10.0</text>
<text x="96.2" y="157.07" text-anchor="end" font-size="13">1.0</text>
<text x="96.2" y="204.75" text-anchor="end" font-size="13">0.1</text>
<text x="407.1" y="61.72" text-anchor="end" font-size="13">100.0</text>
<text x="407.1" y="109.4" text-anchor="end" font-size="13">10.0</text>
<text x="407.1" y="157.07" text-anchor="end" font-size="13">1.0</text>
<text x="407.1" y="204.75" text-anchor="end" font-size="13">0.1</text>
<text x="717.85" y="61.72" text-anchor="end" font-size="13">100.0</text>
<text x="717.85" y="109.4" text-anchor="end" font-size="13">10.0</text>
<text x="717.85" y="157.07" text-anchor="end" font-size="13">1.0</text>
<text x="717.85" y="204.75" text-anchor="end" font-size="13">0.1</text>
<text x="96.2" y="227.2" text-anchor="end" font-size="13">0.2</text>
<text x="96.2" y="259.29" text-anchor="end" font-size="13">0.0</text>
<text x="96.2" y="291.39" text-anchor="end" font-size="13">-0.2</text>
<text x="96.2" y="323.48" text-anchor="end" font-size="13">-0.4</text>
<text x="96.2" y="355.58" text-anchor="end" font-size="13">-0.6</text>
<text x="96.2" y="387.67" text-anchor="end" font-size="13">-0.8</text>
<text x="407.1" y="227.2" text-anchor="end" font-size="13">0.2</text>
<text x="407.1" y="259.29" text-anchor="end" font-size="13">0.0</text>
<text x="407.1" y="291.39" text-anchor="end" font-size="13">-0.2</text>
<text x="407.1" y="323.48" text-anchor="end" font-size="13">-0.4</text>
<text x="407.1" y="355.58" text-anchor="end" font-size="13">-0.6</text>
<text x="407.1" y="387.67" text-anchor="end" font-size="13">-0.8</text>
<text x="717.85" y="227.2" text-anchor="end" font-size="13">0.2</text>
<text x="717.85" y="259.29" text-anchor="end" font-size="13">0.0</text>
<text x="717.85" y="291.39" text-anchor="end" font-size="13">-0.2</text>
<text x="717.85" y="323.48" text-anchor="end" font-size="13">-0.4</text>
<text x="717.85" y="355.58" text-anchor="end" font-size="13">-0.6</text>
<text x="717.85" y="387.67" text-anchor="end" font-size="13">-0.8</text>
<text x="96.2" y="393.9" text-anchor="end" font-size="13">0.4</text>
<text x="96.2" y="440.95" text-anchor="end" font-size="13">0.2</text>
<text x="96.2" y="488.01" text-anchor="end" font-size="13">0.0</text>
<text x="96.2" y="535.06" text-anchor="end" font-size="13">-0.2</text>
<text x="407.1" y="393.9" text-anchor="end" font-size="13">0.4</text>
<text x="407.1" y="440.95" text-anchor="end" font-size="13">0.2</text>
<text x="407.1" y="488.01" text-anchor="end" font-size="13">0.0</text>
<text x="407.1" y="535.06" text-anchor="end" font-size="13">-0.2</text>
<text x="717.85" y="393.9" text-anchor="end" font-size="13">0.4</text>
<text x="717.85" y="440.95" text-anchor="end" font-size="13">0.2</text>
<text x="717.85" y="488.01" text-anchor="end" font-size="13">0.0</text>
<text x="717.85" y="535.06" text-anchor="end" font-size="13">-0.2</text>
<text x="102.2" y="587.35" text-anchor="middle" font-size="13">0</text>
<text x="140.57" y="587.35" text-anchor="middle" font-size="13">2</text>
<text x="178.94" y="587.35" text-anchor="middle" font-size="13">4</text>
<text x="217.31" y="587.35" text-anchor="middle" font-size="13">6</text>
<text x="255.68" y="587.35" text-anchor="middle" font-size="13">8</text>
<text x="294.05" y="587.35" text-anchor="middle" font-size="13">10</text>
<text x="332.42" y="587.35" text-anchor="middle" font-size="13">12</text>
<text x="226.9" y="605.35" text-anchor="middle" font-size="13">lookbacktime (Gyr)</text>
<text x="110.2" y="42" text-anchor="start" font-size="15">10.51</text>
<text x="110.2" y="59.3" text-anchor="start" font-size="15">(10.87)</text>
<text x="110.2" y="76.6" text-anchor="start" font-size="15">(10.58)</text>
<text x="110.2" y="93.9" text-anchor="start" font-size="15">(10.47)</text>
<text x="413.1" y="587.35" text-anchor="middle" font-size="13">0</text>
<text x="451.44" y="587.35" text-anchor="middle" font-size="13">2</text>
<text x="489.78" y="587.35" text-anchor="middle" font-size="13">4</text>
<text x="528.12" y="587.35" text-anchor="middle" font-size="13">6</text>
<text x="566.45" y="587.35" text-anchor="middle" font-size="13">8</text>
<text x="604.79" y="587.35" text-anchor="middle" font-size="13">10</text>
<text x="643.13" y="587.35" text-anchor="middle" font-size="13">12</text>
<text x="537.7" y="605.35" text-anchor="middle" font-size="13">lookbacktime (Gyr)</text>
<text x="421.1" y="42" text-anchor="start" font-size="15">10.99</text>
<text x="421.1" y="59.3" text-anchor="start" font-size="15">(11.51)</text>
<text x="421.1" y="76.6" text-anchor="start" font-size="15">(10.62)</text>
<text x="421.1" y="93.9" text-anchor="start" font-size="15">(10.62)</text>
<text x="723.85" y="587.35" text-anchor="middle" font-size="13">0</text>
<text x="762.19" y="587.35" text-anchor="middle" font-size="13">2</text>
<text x="800.53" y="587.35" text-anchor="middle" font-size="13">4</text>
<text x="838.87" y="587.35" text-anchor="middle" font-size="13">6</text>
<text x="877.2" y="587.35" text-anchor="middle" font-size="13">8</text>
<text x="915.54" y="587.35" text-anchor="middle" font-size="13">10</text>
<text x="953.88" y="587.35" text-anchor="middle" font-size="13">12</text>
<text x="848.45" y="605.35" text-anchor="middle" font-size="13">lookbacktime (Gyr)</text>
<text x="731.85" y="42" text-anchor="start" font-size="15">11.48</text>
<text x="731.85" y="59.3" text-anchor="start" font-size="15">(12.20)</text>
<text x="731.85" y="76.6" text-anchor="start" font-size="15">(10.88)</text>
<text x="731.85" y="93.9" text-anchor="start" font-size="15">(10.98)</text>
<text x="48.5" y="112.08" text-anchor="middle" font-size="13" transform="rotate(-90 48.5 112.08)">SFR (M⊙/yr)</text>
<text x="48.5" y="294.91" text-anchor="middle" font-size="13" transform="rotate(-90 48.5 294.91)">[O/H] and [Fe/H]</text>
<text x="48.5" y="477.62" text-anchor="middle" font-size="13" transform="rotate(-90 48.5 477.62)">[α/Fe]</text>
<text x="142.5" y="337.5" text-anchor="start" font-size="15">[O/H]</text>
<text x="142.5" y="361" text-anchor="start" font-size="15">[Fe/H]</text>
<text x="109.5" y="502" text-anchor="start" font-size="15">REF</text>
<text x="109.5" y="521" text-anchor="start" font-size="15">noAGN</text>
<text x="109.5" y="540" text-anchor="start" font-size="15">H12.0</text>
<text x="109.5" y="559" text-anchor="start" font-size="15">M10.5</text>
</g>
</svg></body></html>
